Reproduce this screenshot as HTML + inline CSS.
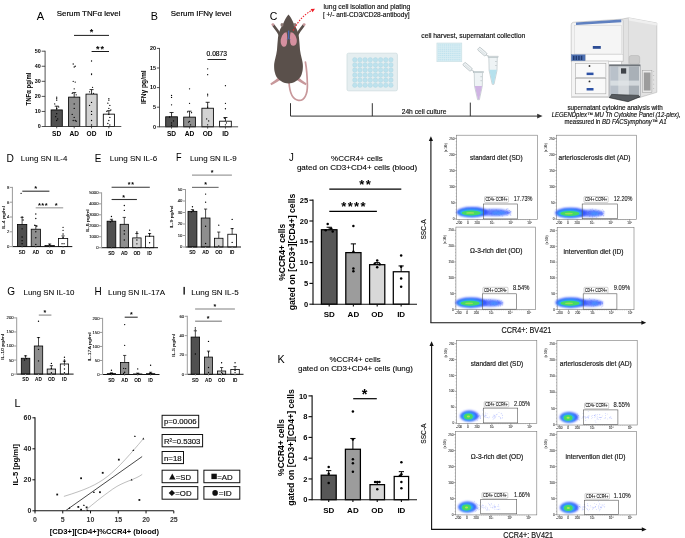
<!DOCTYPE html>
<html><head><meta charset="utf-8"><style>
html,body{margin:0;padding:0;background:#fff;width:685px;height:538px;overflow:hidden}
svg{display:block;will-change:transform}
svg text{font-family:"Liberation Sans",sans-serif}
</style></head><body>
<svg width="685" height="538" viewBox="0 0 685 538">
<rect width="685" height="538" fill="#fff"/>
<text x="36.70" y="19.90" font-size="11.3" textLength="7.40" lengthAdjust="spacingAndGlyphs" >A</text>
<text x="56.80" y="16.20" font-size="7.8" stroke="#000" stroke-width="0.187" textLength="63.60" lengthAdjust="spacingAndGlyphs" >Serum TNF&#945; level</text>
<rect x="51.10" y="109.93" width="11.20" height="16.57" fill="#505050" stroke="#000" stroke-width="0.85" />
<line x1="56.70" y1="109.93" x2="56.70" y2="106.17" stroke="#000" stroke-width="0.8" />
<line x1="54.70" y1="106.17" x2="58.70" y2="106.17" stroke="#000" stroke-width="0.8" />
<circle cx="56.70" cy="97.13" r="0.65" fill="#000" />
<circle cx="56.70" cy="98.64" r="0.65" fill="#000" />
<circle cx="56.70" cy="100.14" r="0.65" fill="#000" />
<circle cx="54.70" cy="103.91" r="0.65" fill="#000" />
<circle cx="58.70" cy="106.92" r="0.65" fill="#000" />
<circle cx="56.70" cy="108.43" r="0.65" fill="#000" />
<circle cx="56.70" cy="113.70" r="0.65" fill="#000" />
<circle cx="55.70" cy="116.71" r="0.65" fill="#000" />
<circle cx="57.70" cy="118.97" r="0.65" fill="#000" />
<circle cx="56.70" cy="120.48" r="0.65" fill="#000" />
<rect x="68.60" y="97.13" width="11.20" height="29.37" fill="#8e8e8e" stroke="#000" stroke-width="0.85" />
<line x1="74.20" y1="97.13" x2="74.20" y2="92.62" stroke="#000" stroke-width="0.8" />
<line x1="72.20" y1="92.62" x2="76.20" y2="92.62" stroke="#000" stroke-width="0.8" />
<circle cx="73.20" cy="64.00" r="0.65" fill="#000" />
<circle cx="75.20" cy="66.26" r="0.65" fill="#000" />
<circle cx="74.20" cy="67.01" r="0.65" fill="#000" />
<circle cx="73.20" cy="81.32" r="0.65" fill="#000" />
<circle cx="75.20" cy="82.07" r="0.65" fill="#000" />
<circle cx="74.20" cy="88.85" r="0.65" fill="#000" />
<circle cx="72.20" cy="93.37" r="0.65" fill="#000" />
<circle cx="76.20" cy="94.87" r="0.65" fill="#000" />
<circle cx="74.20" cy="103.91" r="0.65" fill="#000" />
<circle cx="74.20" cy="108.43" r="0.65" fill="#000" />
<circle cx="72.20" cy="114.45" r="0.65" fill="#000" />
<circle cx="74.20" cy="117.46" r="0.65" fill="#000" />
<circle cx="73.20" cy="120.48" r="0.65" fill="#000" />
<circle cx="75.20" cy="120.48" r="0.65" fill="#000" />
<circle cx="76.20" cy="121.23" r="0.65" fill="#000" />
<rect x="86.00" y="94.12" width="11.10" height="32.38" fill="#d2d2d2" stroke="#000" stroke-width="0.85" />
<line x1="91.55" y1="94.12" x2="91.55" y2="89.60" stroke="#000" stroke-width="0.8" />
<line x1="89.55" y1="89.60" x2="93.55" y2="89.60" stroke="#000" stroke-width="0.8" />
<circle cx="91.55" cy="60.99" r="0.65" fill="#000" />
<circle cx="91.55" cy="73.79" r="0.65" fill="#000" />
<circle cx="91.55" cy="74.54" r="0.65" fill="#000" />
<circle cx="92.55" cy="87.34" r="0.65" fill="#000" />
<circle cx="89.55" cy="91.86" r="0.65" fill="#000" />
<circle cx="93.55" cy="93.37" r="0.65" fill="#000" />
<circle cx="91.55" cy="102.40" r="0.65" fill="#000" />
<circle cx="89.55" cy="105.42" r="0.65" fill="#000" />
<circle cx="91.55" cy="111.44" r="0.65" fill="#000" />
<circle cx="91.55" cy="114.45" r="0.65" fill="#000" />
<circle cx="91.55" cy="120.48" r="0.65" fill="#000" />
<circle cx="91.55" cy="124.99" r="0.65" fill="#000" />
<rect x="103.30" y="114.15" width="11.10" height="12.35" fill="#ffffff" stroke="#000" stroke-width="0.85" />
<line x1="108.85" y1="114.15" x2="108.85" y2="110.69" stroke="#000" stroke-width="0.8" />
<line x1="106.85" y1="110.69" x2="110.85" y2="110.69" stroke="#000" stroke-width="0.8" />
<circle cx="108.85" cy="98.64" r="0.65" fill="#000" />
<circle cx="108.85" cy="100.14" r="0.65" fill="#000" />
<circle cx="107.85" cy="103.16" r="0.65" fill="#000" />
<circle cx="109.85" cy="105.42" r="0.65" fill="#000" />
<circle cx="108.85" cy="108.43" r="0.65" fill="#000" />
<circle cx="110.85" cy="109.93" r="0.65" fill="#000" />
<circle cx="106.85" cy="111.44" r="0.65" fill="#000" />
<circle cx="108.85" cy="114.45" r="0.65" fill="#000" />
<circle cx="109.85" cy="117.46" r="0.65" fill="#000" />
<circle cx="108.85" cy="120.48" r="0.65" fill="#000" />
<circle cx="107.85" cy="123.49" r="0.65" fill="#000" />
<circle cx="109.85" cy="124.99" r="0.65" fill="#000" />
<line x1="45.10" y1="126.50" x2="121.30" y2="126.50" stroke="#333" stroke-width="0.85" />
<line x1="45.10" y1="50.78" x2="45.10" y2="126.92" stroke="#333" stroke-width="0.85" />
<line x1="41.70" y1="126.50" x2="45.10" y2="126.50" stroke="#333" stroke-width="0.85" />
<text x="40.80" y="128.39" font-size="5.4" text-anchor="end" font-weight="bold" >0</text>
<line x1="41.70" y1="111.44" x2="45.10" y2="111.44" stroke="#333" stroke-width="0.85" />
<text x="40.80" y="113.33" font-size="5.4" text-anchor="end" font-weight="bold" >10</text>
<line x1="41.70" y1="96.38" x2="45.10" y2="96.38" stroke="#333" stroke-width="0.85" />
<text x="40.80" y="98.27" font-size="5.4" text-anchor="end" font-weight="bold" >20</text>
<line x1="41.70" y1="81.32" x2="45.10" y2="81.32" stroke="#333" stroke-width="0.85" />
<text x="40.80" y="83.21" font-size="5.4" text-anchor="end" font-weight="bold" >30</text>
<line x1="41.70" y1="66.26" x2="45.10" y2="66.26" stroke="#333" stroke-width="0.85" />
<text x="40.80" y="68.15" font-size="5.4" text-anchor="end" font-weight="bold" >40</text>
<line x1="41.70" y1="51.20" x2="45.10" y2="51.20" stroke="#333" stroke-width="0.85" />
<text x="40.80" y="53.09" font-size="5.4" text-anchor="end" font-weight="bold" >50</text>
<line x1="56.70" y1="126.50" x2="56.70" y2="128.30" stroke="#333" stroke-width="0.85" />
<text x="56.70" y="135.80" font-size="6.6" text-anchor="middle" font-weight="bold" >SD</text>
<line x1="74.20" y1="126.50" x2="74.20" y2="128.30" stroke="#333" stroke-width="0.85" />
<text x="74.20" y="135.80" font-size="6.6" text-anchor="middle" font-weight="bold" >AD</text>
<line x1="91.55" y1="126.50" x2="91.55" y2="128.30" stroke="#333" stroke-width="0.85" />
<text x="91.55" y="135.80" font-size="6.6" text-anchor="middle" font-weight="bold" >OD</text>
<line x1="108.85" y1="126.50" x2="108.85" y2="128.30" stroke="#333" stroke-width="0.85" />
<text x="108.85" y="135.80" font-size="6.6" text-anchor="middle" font-weight="bold" >ID</text>
<text x="30.60" y="89.00" font-size="6.4" text-anchor="middle" font-weight="bold" textLength="32.80" lengthAdjust="spacingAndGlyphs" transform="rotate(-90 30.60 89.00)" >TNF&#945; pg/ml</text>
<line x1="74.00" y1="35.40" x2="109.00" y2="35.40" stroke="#000" stroke-width="0.9" />
<text x="91.60" y="35.40" font-size="9" text-anchor="middle" font-weight="bold" >*</text>
<line x1="91.60" y1="51.50" x2="109.00" y2="51.50" stroke="#000" stroke-width="0.9" />
<text x="97.85" y="51.50" font-size="9" text-anchor="middle" font-weight="bold" >*</text>
<text x="102.35" y="51.50" font-size="9" text-anchor="middle" font-weight="bold" >*</text>
<text x="150.70" y="19.90" font-size="11.3" textLength="7.20" lengthAdjust="spacingAndGlyphs" >B</text>
<text x="170.80" y="16.20" font-size="7.8" stroke="#000" stroke-width="0.187" textLength="60.60" lengthAdjust="spacingAndGlyphs" >Serum IFN&#947; level</text>
<rect x="165.70" y="116.80" width="11.70" height="10.00" fill="#505050" stroke="#000" stroke-width="0.85" />
<line x1="171.55" y1="116.80" x2="171.55" y2="112.49" stroke="#000" stroke-width="0.8" />
<line x1="169.55" y1="112.49" x2="173.55" y2="112.49" stroke="#000" stroke-width="0.8" />
<circle cx="171.55" cy="95.44" r="0.65" fill="#000" />
<circle cx="171.55" cy="97.40" r="0.65" fill="#000" />
<circle cx="171.55" cy="104.85" r="0.65" fill="#000" />
<circle cx="169.55" cy="117.00" r="0.65" fill="#000" />
<circle cx="173.55" cy="120.92" r="0.65" fill="#000" />
<circle cx="171.55" cy="122.88" r="0.65" fill="#000" />
<circle cx="171.55" cy="125.23" r="0.65" fill="#000" />
<rect x="183.70" y="117.12" width="11.70" height="9.68" fill="#8e8e8e" stroke="#000" stroke-width="0.85" />
<line x1="189.55" y1="117.12" x2="189.55" y2="111.20" stroke="#000" stroke-width="0.8" />
<line x1="187.55" y1="111.20" x2="191.55" y2="111.20" stroke="#000" stroke-width="0.8" />
<circle cx="189.55" cy="88.78" r="0.65" fill="#000" />
<circle cx="189.55" cy="103.28" r="0.65" fill="#000" />
<circle cx="187.55" cy="111.90" r="0.65" fill="#000" />
<circle cx="191.55" cy="112.69" r="0.65" fill="#000" />
<circle cx="189.55" cy="121.31" r="0.65" fill="#000" />
<circle cx="188.55" cy="122.10" r="0.65" fill="#000" />
<circle cx="190.55" cy="124.84" r="0.65" fill="#000" />
<rect x="201.90" y="108.22" width="11.50" height="18.58" fill="#d2d2d2" stroke="#000" stroke-width="0.85" />
<line x1="207.65" y1="108.22" x2="207.65" y2="102.30" stroke="#000" stroke-width="0.8" />
<line x1="205.65" y1="102.30" x2="209.65" y2="102.30" stroke="#000" stroke-width="0.8" />
<circle cx="207.65" cy="68.78" r="0.65" fill="#000" />
<circle cx="207.65" cy="74.66" r="0.65" fill="#000" />
<circle cx="207.65" cy="94.26" r="0.65" fill="#000" />
<circle cx="207.65" cy="95.83" r="0.65" fill="#000" />
<circle cx="207.65" cy="107.20" r="0.65" fill="#000" />
<circle cx="206.65" cy="118.96" r="0.65" fill="#000" />
<circle cx="208.65" cy="120.92" r="0.65" fill="#000" />
<circle cx="207.65" cy="124.84" r="0.65" fill="#000" />
<rect x="219.60" y="121.19" width="11.70" height="5.61" fill="#ffffff" stroke="#000" stroke-width="0.85" />
<line x1="225.45" y1="121.19" x2="225.45" y2="117.51" stroke="#000" stroke-width="0.8" />
<line x1="223.45" y1="117.51" x2="227.45" y2="117.51" stroke="#000" stroke-width="0.8" />
<circle cx="225.45" cy="85.64" r="0.65" fill="#000" />
<circle cx="225.45" cy="103.28" r="0.65" fill="#000" />
<circle cx="225.45" cy="108.77" r="0.65" fill="#000" />
<circle cx="224.45" cy="118.18" r="0.65" fill="#000" />
<circle cx="226.45" cy="122.88" r="0.65" fill="#000" />
<circle cx="225.45" cy="124.84" r="0.65" fill="#000" />
<line x1="159.50" y1="126.80" x2="238.10" y2="126.80" stroke="#333" stroke-width="0.85" />
<line x1="159.50" y1="47.98" x2="159.50" y2="127.22" stroke="#333" stroke-width="0.85" />
<line x1="156.90" y1="126.80" x2="159.50" y2="126.80" stroke="#333" stroke-width="0.85" />
<text x="155.90" y="128.69" font-size="5.4" text-anchor="end" font-weight="bold" >0</text>
<line x1="156.90" y1="107.20" x2="159.50" y2="107.20" stroke="#333" stroke-width="0.85" />
<text x="155.90" y="109.09" font-size="5.4" text-anchor="end" font-weight="bold" >5</text>
<line x1="156.90" y1="87.60" x2="159.50" y2="87.60" stroke="#333" stroke-width="0.85" />
<text x="155.90" y="89.49" font-size="5.4" text-anchor="end" font-weight="bold" >10</text>
<line x1="156.90" y1="68.00" x2="159.50" y2="68.00" stroke="#333" stroke-width="0.85" />
<text x="155.90" y="69.89" font-size="5.4" text-anchor="end" font-weight="bold" >15</text>
<line x1="156.90" y1="48.40" x2="159.50" y2="48.40" stroke="#333" stroke-width="0.85" />
<text x="155.90" y="50.29" font-size="5.4" text-anchor="end" font-weight="bold" >20</text>
<line x1="171.55" y1="126.80" x2="171.55" y2="128.60" stroke="#333" stroke-width="0.85" />
<text x="171.55" y="136.20" font-size="6.6" text-anchor="middle" font-weight="bold" >SD</text>
<line x1="189.55" y1="126.80" x2="189.55" y2="128.60" stroke="#333" stroke-width="0.85" />
<text x="189.55" y="136.20" font-size="6.6" text-anchor="middle" font-weight="bold" >AD</text>
<line x1="207.65" y1="126.80" x2="207.65" y2="128.60" stroke="#333" stroke-width="0.85" />
<text x="207.65" y="136.20" font-size="6.6" text-anchor="middle" font-weight="bold" >OD</text>
<line x1="225.45" y1="126.80" x2="225.45" y2="128.60" stroke="#333" stroke-width="0.85" />
<text x="225.45" y="136.20" font-size="6.6" text-anchor="middle" font-weight="bold" >ID</text>
<text x="145.60" y="87.20" font-size="6.4" text-anchor="middle" font-weight="bold" textLength="33.80" lengthAdjust="spacingAndGlyphs" transform="rotate(-90 145.60 87.20)" >IFN&#947; pg/ml</text>
<line x1="207.50" y1="59.50" x2="226.10" y2="59.50" stroke="#111" stroke-width="0.9" />
<text x="216.80" y="55.70" font-size="6.3" stroke="#000" stroke-width="0.151" text-anchor="middle" textLength="20.50" lengthAdjust="spacingAndGlyphs" >0.0873</text>
<text x="6.40" y="162.00" font-size="10.8" textLength="7.40" lengthAdjust="spacingAndGlyphs" >D</text>
<text x="20.80" y="161.40" font-size="8.0" stroke="#000" stroke-width="0.06" textLength="46.50" lengthAdjust="spacingAndGlyphs" >Lung SN IL-4</text>
<rect x="17.40" y="224.40" width="9.40" height="22.20" fill="#505050" stroke="#000" stroke-width="0.8" />
<line x1="22.10" y1="224.40" x2="22.10" y2="217.37" stroke="#000" stroke-width="0.7" />
<line x1="20.50" y1="217.37" x2="23.70" y2="217.37" stroke="#000" stroke-width="0.7" />
<circle cx="21.10" cy="193.32" r="0.68" fill="#000" />
<circle cx="22.10" cy="217.00" r="0.68" fill="#000" />
<circle cx="23.10" cy="219.96" r="0.68" fill="#000" />
<circle cx="22.10" cy="228.84" r="0.68" fill="#000" />
<circle cx="22.10" cy="236.98" r="0.68" fill="#000" />
<circle cx="22.10" cy="240.68" r="0.68" fill="#000" />
<circle cx="22.10" cy="243.64" r="0.68" fill="#000" />
<rect x="31.20" y="229.21" width="9.20" height="17.39" fill="#8e8e8e" stroke="#000" stroke-width="0.8" />
<line x1="35.80" y1="229.21" x2="35.80" y2="225.51" stroke="#000" stroke-width="0.7" />
<line x1="34.20" y1="225.51" x2="37.40" y2="225.51" stroke="#000" stroke-width="0.7" />
<circle cx="35.80" cy="214.04" r="0.68" fill="#000" />
<circle cx="35.80" cy="218.48" r="0.68" fill="#000" />
<circle cx="34.80" cy="225.14" r="0.68" fill="#000" />
<circle cx="36.80" cy="226.62" r="0.68" fill="#000" />
<circle cx="35.80" cy="231.80" r="0.68" fill="#000" />
<circle cx="35.80" cy="237.72" r="0.68" fill="#000" />
<circle cx="35.80" cy="244.38" r="0.68" fill="#000" />
<rect x="45.00" y="245.56" width="9.30" height="1.04" fill="#d2d2d2" stroke="#000" stroke-width="0.8" />
<line x1="49.65" y1="245.56" x2="49.65" y2="244.01" stroke="#000" stroke-width="0.7" />
<line x1="48.05" y1="244.01" x2="51.25" y2="244.01" stroke="#000" stroke-width="0.7" />
<circle cx="49.65" cy="244.38" r="0.68" fill="#000" />
<circle cx="50.65" cy="246.23" r="0.68" fill="#000" />
<rect x="58.40" y="238.46" width="9.30" height="8.14" fill="#ffffff" stroke="#000" stroke-width="0.8" />
<line x1="63.05" y1="238.46" x2="63.05" y2="235.87" stroke="#000" stroke-width="0.7" />
<line x1="61.45" y1="235.87" x2="64.65" y2="235.87" stroke="#000" stroke-width="0.7" />
<circle cx="63.05" cy="227.36" r="0.68" fill="#000" />
<circle cx="63.05" cy="230.32" r="0.68" fill="#000" />
<circle cx="63.05" cy="234.02" r="0.68" fill="#000" />
<circle cx="63.05" cy="237.72" r="0.68" fill="#000" />
<circle cx="62.05" cy="243.64" r="0.68" fill="#000" />
<circle cx="64.05" cy="243.64" r="0.68" fill="#000" />
<line x1="12.40" y1="246.60" x2="72.30" y2="246.60" stroke="#111" stroke-width="1.0" />
<line x1="12.40" y1="186.90" x2="12.40" y2="247.10" stroke="#9a9a9a" stroke-width="1.0" />
<line x1="9.80" y1="246.60" x2="12.40" y2="246.60" stroke="#9a9a9a" stroke-width="1.0" />
<text x="9.30" y="248.07" font-size="4.2" stroke="#111" stroke-width="0.101" text-anchor="end" fill="#111" >0</text>
<line x1="9.80" y1="231.80" x2="12.40" y2="231.80" stroke="#9a9a9a" stroke-width="1.0" />
<text x="9.30" y="233.27" font-size="4.2" stroke="#111" stroke-width="0.101" text-anchor="end" fill="#111" >2</text>
<line x1="9.80" y1="217.00" x2="12.40" y2="217.00" stroke="#9a9a9a" stroke-width="1.0" />
<text x="9.30" y="218.47" font-size="4.2" stroke="#111" stroke-width="0.101" text-anchor="end" fill="#111" >4</text>
<line x1="9.80" y1="202.20" x2="12.40" y2="202.20" stroke="#9a9a9a" stroke-width="1.0" />
<text x="9.30" y="203.67" font-size="4.2" stroke="#111" stroke-width="0.101" text-anchor="end" fill="#111" >6</text>
<line x1="9.80" y1="187.40" x2="12.40" y2="187.40" stroke="#9a9a9a" stroke-width="1.0" />
<text x="9.30" y="188.87" font-size="4.2" stroke="#111" stroke-width="0.101" text-anchor="end" fill="#111" >8</text>
<line x1="22.10" y1="246.60" x2="22.10" y2="247.80" stroke="#9a9a9a" stroke-width="1.0" />
<text x="22.10" y="253.90" font-size="4.7" text-anchor="middle" font-weight="bold" >SD</text>
<line x1="35.80" y1="246.60" x2="35.80" y2="247.80" stroke="#9a9a9a" stroke-width="1.0" />
<text x="35.80" y="253.90" font-size="4.7" text-anchor="middle" font-weight="bold" >AD</text>
<line x1="49.65" y1="246.60" x2="49.65" y2="247.80" stroke="#9a9a9a" stroke-width="1.0" />
<text x="49.65" y="253.90" font-size="4.7" text-anchor="middle" font-weight="bold" >OD</text>
<line x1="63.05" y1="246.60" x2="63.05" y2="247.80" stroke="#9a9a9a" stroke-width="1.0" />
<text x="63.05" y="253.90" font-size="4.7" text-anchor="middle" font-weight="bold" >ID</text>
<text x="4.60" y="217.70" font-size="4.2" stroke="#000" stroke-width="0.101" text-anchor="middle" textLength="23.00" lengthAdjust="spacingAndGlyphs" transform="rotate(-90 4.60 217.70)" >IL-4 pg/ml</text>
<line x1="22.30" y1="191.20" x2="49.40" y2="191.20" stroke="#333" stroke-width="1.1" />
<text x="35.70" y="191.20" font-size="7.5" text-anchor="middle" font-weight="bold" >*</text>
<line x1="35.70" y1="207.80" x2="63.20" y2="207.80" stroke="#a8a8a8" stroke-width="1.3" />
<text x="39.40" y="207.80" font-size="7.5" text-anchor="middle" font-weight="bold" >*</text>
<text x="42.80" y="207.80" font-size="7.5" text-anchor="middle" font-weight="bold" >*</text>
<text x="46.20" y="207.80" font-size="7.5" text-anchor="middle" font-weight="bold" >*</text>
<text x="56.20" y="207.80" font-size="7.5" text-anchor="middle" font-weight="bold" >*</text>
<text x="94.80" y="162.00" font-size="10.8" textLength="6.60" lengthAdjust="spacingAndGlyphs" >E</text>
<text x="109.80" y="161.40" font-size="8.0" stroke="#000" stroke-width="0.06" textLength="47.40" lengthAdjust="spacingAndGlyphs" >Lung SN IL-6</text>
<rect x="107.10" y="221.20" width="8.70" height="26.50" fill="#505050" stroke="#000" stroke-width="0.8" />
<line x1="111.45" y1="221.20" x2="111.45" y2="219.31" stroke="#000" stroke-width="0.7" />
<line x1="109.85" y1="219.31" x2="113.05" y2="219.31" stroke="#000" stroke-width="0.7" />
<circle cx="111.45" cy="216.46" r="0.68" fill="#000" />
<circle cx="112.45" cy="220.85" r="0.68" fill="#000" />
<circle cx="110.45" cy="221.94" r="0.68" fill="#000" />
<rect x="120.10" y="224.30" width="8.40" height="23.40" fill="#8e8e8e" stroke="#000" stroke-width="0.8" />
<line x1="124.30" y1="224.30" x2="124.30" y2="217.40" stroke="#000" stroke-width="0.7" />
<line x1="122.70" y1="217.40" x2="125.90" y2="217.40" stroke="#000" stroke-width="0.7" />
<circle cx="124.30" cy="205.50" r="0.68" fill="#000" />
<circle cx="124.30" cy="210.44" r="0.68" fill="#000" />
<circle cx="124.30" cy="230.71" r="0.68" fill="#000" />
<circle cx="124.30" cy="234.00" r="0.68" fill="#000" />
<circle cx="124.30" cy="240.03" r="0.68" fill="#000" />
<rect x="132.70" y="237.90" width="8.40" height="9.80" fill="#d2d2d2" stroke="#000" stroke-width="0.8" />
<line x1="136.90" y1="237.90" x2="136.90" y2="233.50" stroke="#000" stroke-width="0.7" />
<line x1="135.30" y1="233.50" x2="138.50" y2="233.50" stroke="#000" stroke-width="0.7" />
<circle cx="136.90" cy="231.81" r="0.68" fill="#000" />
<circle cx="136.90" cy="232.90" r="0.68" fill="#000" />
<circle cx="136.90" cy="240.03" r="0.68" fill="#000" />
<circle cx="136.90" cy="243.86" r="0.68" fill="#000" />
<rect x="145.40" y="236.20" width="8.40" height="11.50" fill="#ffffff" stroke="#000" stroke-width="0.8" />
<line x1="149.60" y1="236.20" x2="149.60" y2="233.50" stroke="#000" stroke-width="0.7" />
<line x1="148.00" y1="233.50" x2="151.20" y2="233.50" stroke="#000" stroke-width="0.7" />
<circle cx="149.60" cy="230.16" r="0.68" fill="#000" />
<circle cx="149.60" cy="234.00" r="0.68" fill="#000" />
<circle cx="149.60" cy="236.19" r="0.68" fill="#000" />
<circle cx="149.60" cy="242.77" r="0.68" fill="#000" />
<line x1="101.60" y1="247.70" x2="158.00" y2="247.70" stroke="#111" stroke-width="1.0" />
<line x1="101.60" y1="192.40" x2="101.60" y2="248.20" stroke="#9a9a9a" stroke-width="1.0" />
<line x1="99.00" y1="247.70" x2="101.60" y2="247.70" stroke="#9a9a9a" stroke-width="1.0" />
<text x="98.50" y="249.17" font-size="4.2" stroke="#111" stroke-width="0.101" text-anchor="end" fill="#111" >0</text>
<line x1="99.00" y1="236.74" x2="101.60" y2="236.74" stroke="#9a9a9a" stroke-width="1.0" />
<text x="98.50" y="238.21" font-size="4.2" stroke="#111" stroke-width="0.101" text-anchor="end" fill="#111" >1000</text>
<line x1="99.00" y1="225.78" x2="101.60" y2="225.78" stroke="#9a9a9a" stroke-width="1.0" />
<text x="98.50" y="227.25" font-size="4.2" stroke="#111" stroke-width="0.101" text-anchor="end" fill="#111" >2000</text>
<line x1="99.00" y1="214.82" x2="101.60" y2="214.82" stroke="#9a9a9a" stroke-width="1.0" />
<text x="98.50" y="216.29" font-size="4.2" stroke="#111" stroke-width="0.101" text-anchor="end" fill="#111" >3000</text>
<line x1="99.00" y1="203.86" x2="101.60" y2="203.86" stroke="#9a9a9a" stroke-width="1.0" />
<text x="98.50" y="205.33" font-size="4.2" stroke="#111" stroke-width="0.101" text-anchor="end" fill="#111" >4000</text>
<line x1="99.00" y1="192.90" x2="101.60" y2="192.90" stroke="#9a9a9a" stroke-width="1.0" />
<text x="98.50" y="194.37" font-size="4.2" stroke="#111" stroke-width="0.101" text-anchor="end" fill="#111" >5000</text>
<line x1="111.45" y1="247.70" x2="111.45" y2="248.90" stroke="#9a9a9a" stroke-width="1.0" />
<text x="111.45" y="254.90" font-size="4.7" text-anchor="middle" font-weight="bold" >SD</text>
<line x1="124.30" y1="247.70" x2="124.30" y2="248.90" stroke="#9a9a9a" stroke-width="1.0" />
<text x="124.30" y="254.90" font-size="4.7" text-anchor="middle" font-weight="bold" >AD</text>
<line x1="136.90" y1="247.70" x2="136.90" y2="248.90" stroke="#9a9a9a" stroke-width="1.0" />
<text x="136.90" y="254.90" font-size="4.7" text-anchor="middle" font-weight="bold" >OD</text>
<line x1="149.60" y1="247.70" x2="149.60" y2="248.90" stroke="#9a9a9a" stroke-width="1.0" />
<text x="149.60" y="254.90" font-size="4.7" text-anchor="middle" font-weight="bold" >ID</text>
<text x="88.90" y="220.80" font-size="4.2" stroke="#000" stroke-width="0.101" text-anchor="middle" textLength="23.00" lengthAdjust="spacingAndGlyphs" transform="rotate(-90 88.90 220.80)" >IL-6 pg/ml</text>
<line x1="111.60" y1="187.20" x2="149.80" y2="187.20" stroke="#333" stroke-width="1.1" />
<text x="129.10" y="187.20" font-size="7" text-anchor="middle" font-weight="bold" >*</text>
<text x="132.50" y="187.20" font-size="7" text-anchor="middle" font-weight="bold" >*</text>
<line x1="111.60" y1="199.50" x2="136.90" y2="199.50" stroke="#333" stroke-width="1.1" />
<text x="123.70" y="199.50" font-size="7" text-anchor="middle" font-weight="bold" >*</text>
<text x="175.90" y="161.40" font-size="10.8" textLength="5.60" lengthAdjust="spacingAndGlyphs" >F</text>
<text x="189.90" y="161.20" font-size="8.0" stroke="#000" stroke-width="0.06" textLength="46.80" lengthAdjust="spacingAndGlyphs" >Lung SN IL-9</text>
<rect x="188.00" y="211.35" width="8.90" height="35.65" fill="#505050" stroke="#000" stroke-width="0.8" />
<line x1="192.45" y1="211.35" x2="192.45" y2="209.62" stroke="#000" stroke-width="0.7" />
<line x1="190.85" y1="209.62" x2="194.05" y2="209.62" stroke="#000" stroke-width="0.7" />
<circle cx="192.45" cy="206.75" r="0.68" fill="#000" />
<circle cx="193.45" cy="210.78" r="0.68" fill="#000" />
<circle cx="191.45" cy="211.93" r="0.68" fill="#000" />
<rect x="201.20" y="218.02" width="8.80" height="28.98" fill="#8e8e8e" stroke="#000" stroke-width="0.8" />
<line x1="205.60" y1="218.02" x2="205.60" y2="209.05" stroke="#000" stroke-width="0.7" />
<line x1="204.00" y1="209.05" x2="207.20" y2="209.05" stroke="#000" stroke-width="0.7" />
<circle cx="205.60" cy="194.10" r="0.68" fill="#000" />
<circle cx="205.60" cy="202.15" r="0.68" fill="#000" />
<circle cx="205.60" cy="226.30" r="0.68" fill="#000" />
<circle cx="205.60" cy="243.55" r="0.68" fill="#000" />
<rect x="214.50" y="238.26" width="8.50" height="8.74" fill="#d2d2d2" stroke="#000" stroke-width="0.8" />
<line x1="218.75" y1="238.26" x2="218.75" y2="232.05" stroke="#000" stroke-width="0.7" />
<line x1="217.15" y1="232.05" x2="220.35" y2="232.05" stroke="#000" stroke-width="0.7" />
<circle cx="218.75" cy="225.15" r="0.68" fill="#000" />
<circle cx="218.75" cy="245.85" r="0.68" fill="#000" />
<rect x="227.80" y="234.24" width="8.70" height="12.76" fill="#ffffff" stroke="#000" stroke-width="0.8" />
<line x1="232.15" y1="234.24" x2="232.15" y2="228.60" stroke="#000" stroke-width="0.7" />
<line x1="230.55" y1="228.60" x2="233.75" y2="228.60" stroke="#000" stroke-width="0.7" />
<circle cx="232.15" cy="219.40" r="0.68" fill="#000" />
<circle cx="232.15" cy="228.60" r="0.68" fill="#000" />
<circle cx="232.15" cy="242.40" r="0.68" fill="#000" />
<line x1="185.50" y1="247.00" x2="241.00" y2="247.00" stroke="#111" stroke-width="1.0" />
<line x1="185.50" y1="189.00" x2="185.50" y2="247.50" stroke="#9a9a9a" stroke-width="1.0" />
<line x1="182.90" y1="247.00" x2="185.50" y2="247.00" stroke="#9a9a9a" stroke-width="1.0" />
<text x="182.40" y="248.47" font-size="4.2" stroke="#111" stroke-width="0.101" text-anchor="end" fill="#111" >0</text>
<line x1="182.90" y1="235.50" x2="185.50" y2="235.50" stroke="#9a9a9a" stroke-width="1.0" />
<text x="182.40" y="236.97" font-size="4.2" stroke="#111" stroke-width="0.101" text-anchor="end" fill="#111" >10</text>
<line x1="182.90" y1="224.00" x2="185.50" y2="224.00" stroke="#9a9a9a" stroke-width="1.0" />
<text x="182.40" y="225.47" font-size="4.2" stroke="#111" stroke-width="0.101" text-anchor="end" fill="#111" >20</text>
<line x1="182.90" y1="212.50" x2="185.50" y2="212.50" stroke="#9a9a9a" stroke-width="1.0" />
<text x="182.40" y="213.97" font-size="4.2" stroke="#111" stroke-width="0.101" text-anchor="end" fill="#111" >30</text>
<line x1="182.90" y1="201.00" x2="185.50" y2="201.00" stroke="#9a9a9a" stroke-width="1.0" />
<text x="182.40" y="202.47" font-size="4.2" stroke="#111" stroke-width="0.101" text-anchor="end" fill="#111" >40</text>
<line x1="182.90" y1="189.50" x2="185.50" y2="189.50" stroke="#9a9a9a" stroke-width="1.0" />
<text x="182.40" y="190.97" font-size="4.2" stroke="#111" stroke-width="0.101" text-anchor="end" fill="#111" >50</text>
<line x1="192.45" y1="247.00" x2="192.45" y2="248.20" stroke="#9a9a9a" stroke-width="1.0" />
<text x="192.45" y="254.30" font-size="4.7" text-anchor="middle" font-weight="bold" >SD</text>
<line x1="205.60" y1="247.00" x2="205.60" y2="248.20" stroke="#9a9a9a" stroke-width="1.0" />
<text x="205.60" y="254.30" font-size="4.7" text-anchor="middle" font-weight="bold" >AD</text>
<line x1="218.75" y1="247.00" x2="218.75" y2="248.20" stroke="#9a9a9a" stroke-width="1.0" />
<text x="218.75" y="254.30" font-size="4.7" text-anchor="middle" font-weight="bold" >OD</text>
<line x1="232.15" y1="247.00" x2="232.15" y2="248.20" stroke="#9a9a9a" stroke-width="1.0" />
<text x="232.15" y="254.30" font-size="4.7" text-anchor="middle" font-weight="bold" >ID</text>
<text x="173.40" y="217.00" font-size="4.2" stroke="#000" stroke-width="0.101" text-anchor="middle" textLength="23.00" lengthAdjust="spacingAndGlyphs" transform="rotate(-90 173.40 217.00)" >IL-9 pg/ml</text>
<line x1="192.00" y1="175.10" x2="231.90" y2="175.10" stroke="#9c9c9c" stroke-width="1.3" />
<text x="212.00" y="175.10" font-size="7" text-anchor="middle" font-weight="bold" >*</text>
<line x1="192.00" y1="187.40" x2="218.60" y2="187.40" stroke="#777" stroke-width="1.2" />
<text x="205.60" y="187.40" font-size="7" text-anchor="middle" font-weight="bold" >*</text>
<text x="7.20" y="295.10" font-size="10.8" textLength="7.80" lengthAdjust="spacingAndGlyphs" >G</text>
<text x="23.50" y="294.50" font-size="8.0" stroke="#000" stroke-width="0.06" textLength="51.00" lengthAdjust="spacingAndGlyphs" >Lung SN IL-10</text>
<rect x="21.30" y="358.25" width="8.50" height="15.85" fill="#505050" stroke="#000" stroke-width="0.8" />
<line x1="25.55" y1="358.25" x2="25.55" y2="355.84" stroke="#000" stroke-width="0.7" />
<line x1="23.95" y1="355.84" x2="27.15" y2="355.84" stroke="#000" stroke-width="0.7" />
<circle cx="25.55" cy="355.84" r="0.68" fill="#000" />
<circle cx="24.55" cy="360.05" r="0.68" fill="#000" />
<circle cx="26.55" cy="358.64" r="0.68" fill="#000" />
<rect x="34.30" y="346.00" width="8.40" height="28.10" fill="#8e8e8e" stroke="#000" stroke-width="0.8" />
<line x1="38.50" y1="346.00" x2="38.50" y2="337.57" stroke="#000" stroke-width="0.7" />
<line x1="36.90" y1="337.57" x2="40.10" y2="337.57" stroke="#000" stroke-width="0.7" />
<circle cx="38.50" cy="321.27" r="0.68" fill="#000" />
<circle cx="38.50" cy="337.57" r="0.68" fill="#000" />
<circle cx="38.50" cy="349.37" r="0.68" fill="#000" />
<circle cx="38.50" cy="360.89" r="0.68" fill="#000" />
<rect x="47.20" y="369.04" width="8.40" height="5.06" fill="#d2d2d2" stroke="#000" stroke-width="0.8" />
<line x1="51.40" y1="369.04" x2="51.40" y2="365.67" stroke="#000" stroke-width="0.7" />
<line x1="49.80" y1="365.67" x2="53.00" y2="365.67" stroke="#000" stroke-width="0.7" />
<circle cx="51.40" cy="363.42" r="0.68" fill="#000" />
<circle cx="51.40" cy="368.48" r="0.68" fill="#000" />
<circle cx="51.40" cy="372.70" r="0.68" fill="#000" />
<rect x="60.30" y="363.98" width="8.30" height="10.12" fill="#ffffff" stroke="#000" stroke-width="0.8" />
<line x1="64.45" y1="363.98" x2="64.45" y2="361.17" stroke="#000" stroke-width="0.7" />
<line x1="62.85" y1="361.17" x2="66.05" y2="361.17" stroke="#000" stroke-width="0.7" />
<circle cx="64.45" cy="357.24" r="0.68" fill="#000" />
<circle cx="64.45" cy="360.05" r="0.68" fill="#000" />
<circle cx="64.45" cy="361.46" r="0.68" fill="#000" />
<circle cx="64.45" cy="365.11" r="0.68" fill="#000" />
<circle cx="64.45" cy="369.04" r="0.68" fill="#000" />
<circle cx="64.45" cy="372.70" r="0.68" fill="#000" />
<line x1="16.70" y1="374.10" x2="73.60" y2="374.10" stroke="#111" stroke-width="1.0" />
<line x1="16.70" y1="317.40" x2="16.70" y2="374.60" stroke="#9a9a9a" stroke-width="1.0" />
<line x1="14.10" y1="374.10" x2="16.70" y2="374.10" stroke="#9a9a9a" stroke-width="1.0" />
<text x="13.60" y="375.57" font-size="4.2" stroke="#111" stroke-width="0.101" text-anchor="end" fill="#111" >0</text>
<line x1="14.10" y1="360.05" x2="16.70" y2="360.05" stroke="#9a9a9a" stroke-width="1.0" />
<text x="13.60" y="361.52" font-size="4.2" stroke="#111" stroke-width="0.101" text-anchor="end" fill="#111" >50</text>
<line x1="14.10" y1="346.00" x2="16.70" y2="346.00" stroke="#9a9a9a" stroke-width="1.0" />
<text x="13.60" y="347.47" font-size="4.2" stroke="#111" stroke-width="0.101" text-anchor="end" fill="#111" >100</text>
<line x1="14.10" y1="331.95" x2="16.70" y2="331.95" stroke="#9a9a9a" stroke-width="1.0" />
<text x="13.60" y="333.42" font-size="4.2" stroke="#111" stroke-width="0.101" text-anchor="end" fill="#111" >150</text>
<line x1="14.10" y1="317.90" x2="16.70" y2="317.90" stroke="#9a9a9a" stroke-width="1.0" />
<text x="13.60" y="319.37" font-size="4.2" stroke="#111" stroke-width="0.101" text-anchor="end" fill="#111" >200</text>
<line x1="25.55" y1="374.10" x2="25.55" y2="375.30" stroke="#9a9a9a" stroke-width="1.0" />
<text x="25.55" y="381.40" font-size="4.7" text-anchor="middle" font-weight="bold" >SD</text>
<line x1="38.50" y1="374.10" x2="38.50" y2="375.30" stroke="#9a9a9a" stroke-width="1.0" />
<text x="38.50" y="381.40" font-size="4.7" text-anchor="middle" font-weight="bold" >AD</text>
<line x1="51.40" y1="374.10" x2="51.40" y2="375.30" stroke="#9a9a9a" stroke-width="1.0" />
<text x="51.40" y="381.40" font-size="4.7" text-anchor="middle" font-weight="bold" >OD</text>
<line x1="64.45" y1="374.10" x2="64.45" y2="375.30" stroke="#9a9a9a" stroke-width="1.0" />
<text x="64.45" y="381.40" font-size="4.7" text-anchor="middle" font-weight="bold" >ID</text>
<text x="3.90" y="346.90" font-size="4.2" stroke="#000" stroke-width="0.101" text-anchor="middle" textLength="26.00" lengthAdjust="spacingAndGlyphs" transform="rotate(-90 3.90 346.90)" >IL-10 pg/ml</text>
<line x1="38.80" y1="315.10" x2="51.40" y2="315.10" stroke="#9c9c9c" stroke-width="1.3" />
<text x="44.90" y="315.10" font-size="7" text-anchor="middle" font-weight="bold" >*</text>
<text x="94.60" y="295.10" font-size="10.8" textLength="7.20" lengthAdjust="spacingAndGlyphs" >H</text>
<text x="108.00" y="294.50" font-size="8.0" stroke="#000" stroke-width="0.06" textLength="57.20" lengthAdjust="spacingAndGlyphs" >Lung SN IL-17A</text>
<rect x="107.30" y="373.66" width="8.30" height="0.84" fill="#505050" stroke="#000" stroke-width="0.8" />
<line x1="111.45" y1="373.66" x2="111.45" y2="372.82" stroke="#000" stroke-width="0.7" />
<line x1="109.85" y1="372.82" x2="113.05" y2="372.82" stroke="#000" stroke-width="0.7" />
<circle cx="111.45" cy="370.29" r="0.68" fill="#000" />
<circle cx="110.45" cy="373.38" r="0.68" fill="#000" />
<circle cx="112.45" cy="373.66" r="0.68" fill="#000" />
<circle cx="111.45" cy="373.94" r="0.68" fill="#000" />
<rect x="120.50" y="362.44" width="8.30" height="12.06" fill="#8e8e8e" stroke="#000" stroke-width="0.8" />
<line x1="124.65" y1="362.44" x2="124.65" y2="355.43" stroke="#000" stroke-width="0.7" />
<line x1="123.05" y1="355.43" x2="126.25" y2="355.43" stroke="#000" stroke-width="0.7" />
<circle cx="124.65" cy="324.57" r="0.68" fill="#000" />
<circle cx="124.65" cy="345.33" r="0.68" fill="#000" />
<circle cx="123.65" cy="368.33" r="0.68" fill="#000" />
<circle cx="125.65" cy="368.61" r="0.68" fill="#000" />
<circle cx="124.65" cy="372.26" r="0.68" fill="#000" />
<circle cx="123.65" cy="373.38" r="0.68" fill="#000" />
<rect x="133.50" y="373.94" width="8.40" height="0.56" fill="#d2d2d2" stroke="#000" stroke-width="0.8" />
<line x1="137.70" y1="373.94" x2="137.70" y2="373.10" stroke="#000" stroke-width="0.7" />
<line x1="136.10" y1="373.10" x2="139.30" y2="373.10" stroke="#000" stroke-width="0.7" />
<circle cx="137.70" cy="368.89" r="0.68" fill="#000" />
<circle cx="137.70" cy="373.66" r="0.68" fill="#000" />
<circle cx="138.70" cy="374.22" r="0.68" fill="#000" />
<rect x="146.40" y="373.66" width="8.40" height="0.84" fill="#ffffff" stroke="#000" stroke-width="0.8" />
<line x1="150.60" y1="373.66" x2="150.60" y2="372.26" stroke="#000" stroke-width="0.7" />
<line x1="149.00" y1="372.26" x2="152.20" y2="372.26" stroke="#000" stroke-width="0.7" />
<circle cx="150.60" cy="365.24" r="0.68" fill="#000" />
<circle cx="150.60" cy="372.82" r="0.68" fill="#000" />
<circle cx="149.60" cy="373.66" r="0.68" fill="#000" />
<circle cx="151.60" cy="373.94" r="0.68" fill="#000" />
<line x1="102.60" y1="374.50" x2="159.50" y2="374.50" stroke="#111" stroke-width="1.0" />
<line x1="102.60" y1="317.90" x2="102.60" y2="375.00" stroke="#9a9a9a" stroke-width="1.0" />
<line x1="100.00" y1="374.50" x2="102.60" y2="374.50" stroke="#9a9a9a" stroke-width="1.0" />
<text x="99.50" y="375.97" font-size="4.2" stroke="#111" stroke-width="0.101" text-anchor="end" fill="#111" >0</text>
<line x1="100.00" y1="360.48" x2="102.60" y2="360.48" stroke="#9a9a9a" stroke-width="1.0" />
<text x="99.50" y="361.95" font-size="4.2" stroke="#111" stroke-width="0.101" text-anchor="end" fill="#111" >50</text>
<line x1="100.00" y1="346.45" x2="102.60" y2="346.45" stroke="#9a9a9a" stroke-width="1.0" />
<text x="99.50" y="347.92" font-size="4.2" stroke="#111" stroke-width="0.101" text-anchor="end" fill="#111" >100</text>
<line x1="100.00" y1="332.42" x2="102.60" y2="332.42" stroke="#9a9a9a" stroke-width="1.0" />
<text x="99.50" y="333.89" font-size="4.2" stroke="#111" stroke-width="0.101" text-anchor="end" fill="#111" >150</text>
<line x1="100.00" y1="318.40" x2="102.60" y2="318.40" stroke="#9a9a9a" stroke-width="1.0" />
<text x="99.50" y="319.87" font-size="4.2" stroke="#111" stroke-width="0.101" text-anchor="end" fill="#111" >200</text>
<line x1="111.45" y1="374.50" x2="111.45" y2="375.70" stroke="#9a9a9a" stroke-width="1.0" />
<text x="111.45" y="381.80" font-size="4.7" text-anchor="middle" font-weight="bold" >SD</text>
<line x1="124.65" y1="374.50" x2="124.65" y2="375.70" stroke="#9a9a9a" stroke-width="1.0" />
<text x="124.65" y="381.80" font-size="4.7" text-anchor="middle" font-weight="bold" >AD</text>
<line x1="137.70" y1="374.50" x2="137.70" y2="375.70" stroke="#9a9a9a" stroke-width="1.0" />
<text x="137.70" y="381.80" font-size="4.7" text-anchor="middle" font-weight="bold" >OD</text>
<line x1="150.60" y1="374.50" x2="150.60" y2="375.70" stroke="#9a9a9a" stroke-width="1.0" />
<text x="150.60" y="381.80" font-size="4.7" text-anchor="middle" font-weight="bold" >ID</text>
<text x="90.90" y="346.80" font-size="4.2" stroke="#000" stroke-width="0.101" text-anchor="middle" textLength="29.00" lengthAdjust="spacingAndGlyphs" transform="rotate(-90 90.90 346.80)" >IL-17A pg/ml</text>
<line x1="124.70" y1="317.20" x2="137.70" y2="317.20" stroke="#333" stroke-width="1.1" />
<text x="131.40" y="317.20" font-size="7" text-anchor="middle" font-weight="bold" >*</text>
<rect x="183.50" y="286.90" width="1.30" height="7.70" fill="#000" />
<text x="191.30" y="294.50" font-size="8.0" stroke="#000" stroke-width="0.06" textLength="47.40" lengthAdjust="spacingAndGlyphs" >Lung SN IL-5</text>
<rect x="191.10" y="337.08" width="8.50" height="37.22" fill="#505050" stroke="#000" stroke-width="0.8" />
<line x1="195.35" y1="337.08" x2="195.35" y2="330.80" stroke="#000" stroke-width="0.7" />
<line x1="193.75" y1="330.80" x2="196.95" y2="330.80" stroke="#000" stroke-width="0.7" />
<circle cx="195.35" cy="327.90" r="0.68" fill="#000" />
<circle cx="195.35" cy="329.83" r="0.68" fill="#000" />
<circle cx="195.35" cy="354.00" r="0.68" fill="#000" />
<rect x="204.50" y="357.09" width="8.00" height="17.21" fill="#8e8e8e" stroke="#000" stroke-width="0.8" />
<line x1="208.50" y1="357.09" x2="208.50" y2="351.10" stroke="#000" stroke-width="0.7" />
<line x1="206.90" y1="351.10" x2="210.10" y2="351.10" stroke="#000" stroke-width="0.7" />
<circle cx="208.50" cy="341.43" r="0.68" fill="#000" />
<circle cx="208.50" cy="352.07" r="0.68" fill="#000" />
<circle cx="208.50" cy="367.53" r="0.68" fill="#000" />
<circle cx="208.50" cy="372.37" r="0.68" fill="#000" />
<rect x="217.50" y="371.01" width="8.20" height="3.29" fill="#d2d2d2" stroke="#000" stroke-width="0.8" />
<line x1="221.60" y1="371.01" x2="221.60" y2="367.53" stroke="#000" stroke-width="0.7" />
<line x1="220.00" y1="367.53" x2="223.20" y2="367.53" stroke="#000" stroke-width="0.7" />
<circle cx="221.60" cy="362.70" r="0.68" fill="#000" />
<circle cx="221.60" cy="372.37" r="0.68" fill="#000" />
<circle cx="222.60" cy="373.33" r="0.68" fill="#000" />
<rect x="230.80" y="369.47" width="8.50" height="4.83" fill="#ffffff" stroke="#000" stroke-width="0.8" />
<line x1="235.05" y1="369.47" x2="235.05" y2="366.57" stroke="#000" stroke-width="0.7" />
<line x1="233.45" y1="366.57" x2="236.65" y2="366.57" stroke="#000" stroke-width="0.7" />
<circle cx="235.05" cy="362.70" r="0.68" fill="#000" />
<circle cx="235.05" cy="370.43" r="0.68" fill="#000" />
<circle cx="235.05" cy="372.37" r="0.68" fill="#000" />
<line x1="187.30" y1="374.30" x2="243.50" y2="374.30" stroke="#111" stroke-width="1.0" />
<line x1="187.30" y1="315.80" x2="187.30" y2="374.80" stroke="#9a9a9a" stroke-width="1.0" />
<line x1="184.70" y1="374.30" x2="187.30" y2="374.30" stroke="#9a9a9a" stroke-width="1.0" />
<text x="184.20" y="375.77" font-size="4.2" stroke="#111" stroke-width="0.101" text-anchor="end" fill="#111" >0</text>
<line x1="184.70" y1="354.97" x2="187.30" y2="354.97" stroke="#9a9a9a" stroke-width="1.0" />
<text x="184.20" y="356.44" font-size="4.2" stroke="#111" stroke-width="0.101" text-anchor="end" fill="#111" >20</text>
<line x1="184.70" y1="335.63" x2="187.30" y2="335.63" stroke="#9a9a9a" stroke-width="1.0" />
<text x="184.20" y="337.10" font-size="4.2" stroke="#111" stroke-width="0.101" text-anchor="end" fill="#111" >40</text>
<line x1="184.70" y1="316.30" x2="187.30" y2="316.30" stroke="#9a9a9a" stroke-width="1.0" />
<text x="184.20" y="317.77" font-size="4.2" stroke="#111" stroke-width="0.101" text-anchor="end" fill="#111" >60</text>
<line x1="195.35" y1="374.30" x2="195.35" y2="375.50" stroke="#9a9a9a" stroke-width="1.0" />
<text x="195.35" y="381.80" font-size="4.7" text-anchor="middle" font-weight="bold" >SD</text>
<line x1="208.50" y1="374.30" x2="208.50" y2="375.50" stroke="#9a9a9a" stroke-width="1.0" />
<text x="208.50" y="381.80" font-size="4.7" text-anchor="middle" font-weight="bold" >AD</text>
<line x1="221.60" y1="374.30" x2="221.60" y2="375.50" stroke="#9a9a9a" stroke-width="1.0" />
<text x="221.60" y="381.80" font-size="4.7" text-anchor="middle" font-weight="bold" >OD</text>
<line x1="235.05" y1="374.30" x2="235.05" y2="375.50" stroke="#9a9a9a" stroke-width="1.0" />
<text x="235.05" y="381.80" font-size="4.7" text-anchor="middle" font-weight="bold" >ID</text>
<text x="175.40" y="345.50" font-size="4.2" stroke="#000" stroke-width="0.101" text-anchor="middle" textLength="23.00" lengthAdjust="spacingAndGlyphs" transform="rotate(-90 175.40 345.50)" >IL-5 pg/ml</text>
<line x1="195.10" y1="309.00" x2="234.90" y2="309.00" stroke="#aaaaaa" stroke-width="1.4" />
<text x="214.80" y="309.00" font-size="7" text-anchor="middle" font-weight="bold" >*</text>
<line x1="195.10" y1="321.20" x2="221.90" y2="321.20" stroke="#888" stroke-width="1.2" />
<text x="208.20" y="321.20" font-size="7" text-anchor="middle" font-weight="bold" >*</text>
<text x="289.10" y="160.90" font-size="10.2" textLength="4.80" lengthAdjust="spacingAndGlyphs" >J</text>
<text x="331.10" y="160.50" font-size="7.2" stroke="#000" stroke-width="0.1" textLength="51.60" lengthAdjust="spacingAndGlyphs" >%CCR4+ cells</text>
<text x="296.90" y="170.10" font-size="7.2" stroke="#000" stroke-width="0.1" textLength="120.20" lengthAdjust="spacingAndGlyphs" >gated on CD3+CD4+ cells (blood)</text>
<rect x="321.40" y="229.74" width="15.60" height="74.46" fill="#575757" stroke="#000" stroke-width="1.25" />
<line x1="329.20" y1="229.74" x2="329.20" y2="227.24" stroke="#000" stroke-width="1.0" />
<line x1="326.60" y1="227.24" x2="331.80" y2="227.24" stroke="#000" stroke-width="1.0" />
<circle cx="327.70" cy="223.91" r="1.25" fill="#000" />
<circle cx="331.20" cy="228.49" r="1.25" fill="#000" />
<circle cx="325.70" cy="230.15" r="1.25" fill="#000" />
<circle cx="332.70" cy="231.40" r="1.25" fill="#000" />
<rect x="345.80" y="252.62" width="15.20" height="51.58" fill="#9c9c9c" stroke="#000" stroke-width="1.25" />
<line x1="353.40" y1="252.62" x2="353.40" y2="243.88" stroke="#000" stroke-width="1.0" />
<line x1="350.80" y1="243.88" x2="356.00" y2="243.88" stroke="#000" stroke-width="1.0" />
<circle cx="353.40" cy="225.99" r="1.25" fill="#000" />
<circle cx="353.40" cy="251.78" r="1.25" fill="#000" />
<circle cx="353.40" cy="268.42" r="1.25" fill="#000" />
<circle cx="353.40" cy="271.34" r="1.25" fill="#000" />
<rect x="369.60" y="264.68" width="15.20" height="39.52" fill="#d8d8d8" stroke="#000" stroke-width="1.25" />
<line x1="377.20" y1="264.68" x2="377.20" y2="262.60" stroke="#000" stroke-width="1.0" />
<line x1="374.60" y1="262.60" x2="379.80" y2="262.60" stroke="#000" stroke-width="1.0" />
<circle cx="377.20" cy="260.52" r="1.25" fill="#000" />
<circle cx="374.70" cy="263.85" r="1.25" fill="#000" />
<circle cx="379.70" cy="264.26" r="1.25" fill="#000" />
<circle cx="377.20" cy="267.18" r="1.25" fill="#000" />
<rect x="393.30" y="271.75" width="15.70" height="32.45" fill="#ffffff" stroke="#000" stroke-width="1.25" />
<line x1="401.15" y1="271.75" x2="401.15" y2="265.93" stroke="#000" stroke-width="1.0" />
<line x1="398.55" y1="265.93" x2="403.75" y2="265.93" stroke="#000" stroke-width="1.0" />
<circle cx="401.15" cy="255.53" r="1.25" fill="#000" />
<circle cx="401.15" cy="266.76" r="1.25" fill="#000" />
<circle cx="401.15" cy="278.41" r="1.25" fill="#000" />
<circle cx="401.15" cy="286.73" r="1.25" fill="#000" />
<line x1="313.00" y1="304.20" x2="417.00" y2="304.20" stroke="#111" stroke-width="1.15" />
<line x1="313.00" y1="199.62" x2="313.00" y2="304.77" stroke="#111" stroke-width="1.15" />
<line x1="309.40" y1="304.20" x2="313.00" y2="304.20" stroke="#111" stroke-width="1.15" />
<text x="308.20" y="306.82" font-size="7.5" text-anchor="end" font-weight="bold" >0</text>
<line x1="309.40" y1="283.40" x2="313.00" y2="283.40" stroke="#111" stroke-width="1.15" />
<text x="308.20" y="286.02" font-size="7.5" text-anchor="end" font-weight="bold" >5</text>
<line x1="309.40" y1="262.60" x2="313.00" y2="262.60" stroke="#111" stroke-width="1.15" />
<text x="308.20" y="265.22" font-size="7.5" text-anchor="end" font-weight="bold" >10</text>
<line x1="309.40" y1="241.80" x2="313.00" y2="241.80" stroke="#111" stroke-width="1.15" />
<text x="308.20" y="244.42" font-size="7.5" text-anchor="end" font-weight="bold" >15</text>
<line x1="309.40" y1="221.00" x2="313.00" y2="221.00" stroke="#111" stroke-width="1.15" />
<text x="308.20" y="223.62" font-size="7.5" text-anchor="end" font-weight="bold" >20</text>
<line x1="309.40" y1="200.20" x2="313.00" y2="200.20" stroke="#111" stroke-width="1.15" />
<text x="308.20" y="202.82" font-size="7.5" text-anchor="end" font-weight="bold" >25</text>
<line x1="329.20" y1="304.20" x2="329.20" y2="306.40" stroke="#111" stroke-width="1.15" />
<text x="329.20" y="316.90" font-size="8.0" text-anchor="middle" font-weight="bold" >SD</text>
<line x1="353.40" y1="304.20" x2="353.40" y2="306.40" stroke="#111" stroke-width="1.15" />
<text x="353.40" y="316.90" font-size="8.0" text-anchor="middle" font-weight="bold" >AD</text>
<line x1="377.20" y1="304.20" x2="377.20" y2="306.40" stroke="#111" stroke-width="1.15" />
<text x="377.20" y="316.90" font-size="8.0" text-anchor="middle" font-weight="bold" >OD</text>
<line x1="401.15" y1="304.20" x2="401.15" y2="306.40" stroke="#111" stroke-width="1.15" />
<text x="401.15" y="316.90" font-size="8.0" text-anchor="middle" font-weight="bold" >ID</text>
<text x="284.90" y="252.30" font-size="8.5" text-anchor="middle" font-weight="bold" textLength="56.80" lengthAdjust="spacingAndGlyphs" transform="rotate(-90 284.90 252.30)" >%CCR4+ cells</text>
<text x="295.10" y="252.00" font-size="8.6" text-anchor="middle" font-weight="bold" textLength="116.70" lengthAdjust="spacingAndGlyphs" transform="rotate(-90 295.10 252.00)" >gated on [CD3+][CD4+] cells</text>
<line x1="329.30" y1="189.10" x2="401.30" y2="189.10" stroke="#000" stroke-width="1.1" />
<text x="361.90" y="189.10" font-size="13" text-anchor="middle" font-weight="bold" >*</text>
<text x="368.30" y="189.10" font-size="13" text-anchor="middle" font-weight="bold" >*</text>
<line x1="329.30" y1="211.40" x2="376.90" y2="211.40" stroke="#000" stroke-width="1.1" />
<text x="343.80" y="211.40" font-size="13" text-anchor="middle" font-weight="bold" >*</text>
<text x="350.20" y="211.40" font-size="13" text-anchor="middle" font-weight="bold" >*</text>
<text x="356.60" y="211.40" font-size="13" text-anchor="middle" font-weight="bold" >*</text>
<text x="363.00" y="211.40" font-size="13" text-anchor="middle" font-weight="bold" >*</text>
<text x="277.60" y="363.00" font-size="10.2" textLength="7.20" lengthAdjust="spacingAndGlyphs" >K</text>
<text x="329.60" y="362.10" font-size="7.2" stroke="#000" stroke-width="0.1" textLength="51.00" lengthAdjust="spacingAndGlyphs" >%CCR4+ cells</text>
<text x="298.00" y="370.80" font-size="7.2" stroke="#000" stroke-width="0.1" textLength="114.80" lengthAdjust="spacingAndGlyphs" >gated on CD3+CD4+ cells (lung)</text>
<rect x="321.20" y="475.20" width="15.00" height="24.50" fill="#575757" stroke="#000" stroke-width="1.25" />
<line x1="328.70" y1="475.20" x2="328.70" y2="470.64" stroke="#000" stroke-width="1.0" />
<line x1="326.10" y1="470.64" x2="331.30" y2="470.64" stroke="#000" stroke-width="1.0" />
<circle cx="328.70" cy="467.00" r="1.25" fill="#000" />
<circle cx="328.70" cy="473.75" r="1.25" fill="#000" />
<circle cx="328.70" cy="483.09" r="1.25" fill="#000" />
<rect x="345.40" y="449.25" width="15.00" height="50.45" fill="#9c9c9c" stroke="#000" stroke-width="1.25" />
<line x1="352.90" y1="449.25" x2="352.90" y2="438.46" stroke="#000" stroke-width="1.0" />
<line x1="350.30" y1="438.46" x2="355.50" y2="438.46" stroke="#000" stroke-width="1.0" />
<circle cx="352.90" cy="411.47" r="1.25" fill="#000" />
<circle cx="352.90" cy="439.50" r="1.25" fill="#000" />
<circle cx="352.90" cy="459.22" r="1.25" fill="#000" />
<circle cx="352.90" cy="463.37" r="1.25" fill="#000" />
<circle cx="352.90" cy="471.67" r="1.25" fill="#000" />
<rect x="370.00" y="484.65" width="14.50" height="15.05" fill="#d8d8d8" stroke="#000" stroke-width="1.25" />
<line x1="377.25" y1="484.65" x2="377.25" y2="482.05" stroke="#000" stroke-width="1.0" />
<line x1="374.65" y1="482.05" x2="379.85" y2="482.05" stroke="#000" stroke-width="1.0" />
<circle cx="375.05" cy="482.05" r="1.25" fill="#000" />
<circle cx="377.25" cy="482.05" r="1.25" fill="#000" />
<circle cx="379.45" cy="482.05" r="1.25" fill="#000" />
<circle cx="377.25" cy="489.32" r="1.25" fill="#000" />
<rect x="394.20" y="476.45" width="14.40" height="23.25" fill="#ffffff" stroke="#000" stroke-width="1.25" />
<line x1="401.40" y1="476.45" x2="401.40" y2="471.67" stroke="#000" stroke-width="1.0" />
<line x1="398.80" y1="471.67" x2="404.00" y2="471.67" stroke="#000" stroke-width="1.0" />
<circle cx="401.40" cy="462.33" r="1.25" fill="#000" />
<circle cx="401.40" cy="474.27" r="1.25" fill="#000" />
<circle cx="399.90" cy="475.83" r="1.25" fill="#000" />
<circle cx="401.40" cy="482.05" r="1.25" fill="#000" />
<circle cx="401.40" cy="488.28" r="1.25" fill="#000" />
<line x1="312.10" y1="499.70" x2="417.00" y2="499.70" stroke="#111" stroke-width="1.15" />
<line x1="312.10" y1="395.32" x2="312.10" y2="500.27" stroke="#111" stroke-width="1.15" />
<line x1="308.50" y1="499.70" x2="312.10" y2="499.70" stroke="#111" stroke-width="1.15" />
<text x="307.30" y="502.32" font-size="7.5" text-anchor="end" font-weight="bold" >0</text>
<line x1="308.50" y1="478.94" x2="312.10" y2="478.94" stroke="#111" stroke-width="1.15" />
<text x="307.30" y="481.56" font-size="7.5" text-anchor="end" font-weight="bold" >2</text>
<line x1="308.50" y1="458.18" x2="312.10" y2="458.18" stroke="#111" stroke-width="1.15" />
<text x="307.30" y="460.81" font-size="7.5" text-anchor="end" font-weight="bold" >4</text>
<line x1="308.50" y1="437.42" x2="312.10" y2="437.42" stroke="#111" stroke-width="1.15" />
<text x="307.30" y="440.04" font-size="7.5" text-anchor="end" font-weight="bold" >6</text>
<line x1="308.50" y1="416.66" x2="312.10" y2="416.66" stroke="#111" stroke-width="1.15" />
<text x="307.30" y="419.28" font-size="7.5" text-anchor="end" font-weight="bold" >8</text>
<line x1="308.50" y1="395.90" x2="312.10" y2="395.90" stroke="#111" stroke-width="1.15" />
<text x="307.30" y="398.52" font-size="7.5" text-anchor="end" font-weight="bold" >10</text>
<line x1="328.70" y1="499.70" x2="328.70" y2="501.90" stroke="#111" stroke-width="1.15" />
<text x="328.70" y="513.10" font-size="8.0" text-anchor="middle" font-weight="bold" >SD</text>
<line x1="352.90" y1="499.70" x2="352.90" y2="501.90" stroke="#111" stroke-width="1.15" />
<text x="352.90" y="513.10" font-size="8.0" text-anchor="middle" font-weight="bold" >AD</text>
<line x1="377.25" y1="499.70" x2="377.25" y2="501.90" stroke="#111" stroke-width="1.15" />
<text x="377.25" y="513.10" font-size="8.0" text-anchor="middle" font-weight="bold" >OD</text>
<line x1="401.40" y1="499.70" x2="401.40" y2="501.90" stroke="#111" stroke-width="1.15" />
<text x="401.40" y="513.10" font-size="8.0" text-anchor="middle" font-weight="bold" >ID</text>
<text x="284.20" y="447.50" font-size="8.5" text-anchor="middle" font-weight="bold" textLength="56.80" lengthAdjust="spacingAndGlyphs" transform="rotate(-90 284.20 447.50)" >%CCR4+ cells</text>
<text x="294.40" y="447.50" font-size="8.6" text-anchor="middle" font-weight="bold" textLength="116.70" lengthAdjust="spacingAndGlyphs" transform="rotate(-90 294.40 447.50)" >gated on [CD3+][CD4+] cells</text>
<line x1="353.20" y1="398.70" x2="376.80" y2="398.70" stroke="#000" stroke-width="1.2" />
<text x="364.70" y="398.70" font-size="14.5" text-anchor="middle" font-weight="bold" >*</text>
<text x="14.60" y="407.00" font-size="10.6" textLength="6.00" lengthAdjust="spacingAndGlyphs" >L</text>
<line x1="35.00" y1="510.80" x2="173.80" y2="510.80" stroke="#111" stroke-width="1.1" />
<line x1="35.00" y1="417.30" x2="35.00" y2="511.30" stroke="#111" stroke-width="1.1" />
<line x1="32.40" y1="510.80" x2="35.00" y2="510.80" stroke="#111" stroke-width="1.0" />
<text x="31.40" y="513.30" font-size="7.0" text-anchor="end" font-weight="bold" fill="#222" >0</text>
<line x1="32.40" y1="479.80" x2="35.00" y2="479.80" stroke="#111" stroke-width="1.0" />
<text x="31.40" y="482.30" font-size="7.0" text-anchor="end" font-weight="bold" fill="#222" >20</text>
<line x1="32.40" y1="448.80" x2="35.00" y2="448.80" stroke="#111" stroke-width="1.0" />
<text x="31.40" y="451.30" font-size="7.0" text-anchor="end" font-weight="bold" fill="#222" >40</text>
<line x1="32.40" y1="417.80" x2="35.00" y2="417.80" stroke="#111" stroke-width="1.0" />
<text x="31.40" y="420.30" font-size="7.0" text-anchor="end" font-weight="bold" fill="#222" >60</text>
<line x1="35.00" y1="510.80" x2="35.00" y2="513.40" stroke="#111" stroke-width="1.0" />
<text x="35.00" y="521.80" font-size="7.0" text-anchor="middle" font-weight="bold" fill="#333" >0</text>
<line x1="62.76" y1="510.80" x2="62.76" y2="513.40" stroke="#111" stroke-width="1.0" />
<text x="62.76" y="521.80" font-size="7.0" text-anchor="middle" font-weight="bold" fill="#333" >5</text>
<line x1="90.52" y1="510.80" x2="90.52" y2="513.40" stroke="#111" stroke-width="1.0" />
<text x="90.52" y="521.80" font-size="7.0" text-anchor="middle" font-weight="bold" fill="#333" >10</text>
<line x1="118.28" y1="510.80" x2="118.28" y2="513.40" stroke="#111" stroke-width="1.0" />
<text x="118.28" y="521.80" font-size="7.0" text-anchor="middle" font-weight="bold" fill="#333" >15</text>
<line x1="146.04" y1="510.80" x2="146.04" y2="513.40" stroke="#111" stroke-width="1.0" />
<text x="146.04" y="521.80" font-size="7.0" text-anchor="middle" font-weight="bold" fill="#333" >20</text>
<line x1="173.80" y1="510.80" x2="173.80" y2="513.40" stroke="#111" stroke-width="1.0" />
<text x="173.80" y="521.80" font-size="7.0" text-anchor="middle" font-weight="bold" fill="#333" >25</text>
<text x="104.40" y="534.40" font-size="7.6" text-anchor="middle" font-weight="bold" textLength="109.20" lengthAdjust="spacingAndGlyphs" >[CD3+][CD4+]%CCR4+ (blood)</text>
<text x="18.40" y="464.80" font-size="7.6" text-anchor="middle" font-weight="bold" textLength="41.40" lengthAdjust="spacingAndGlyphs" transform="rotate(-90 18.40 464.80)" >IL-5 [pg/ml]</text>
<line x1="66.09" y1="510.34" x2="142.15" y2="456.55" stroke="#333" stroke-width="0.9" />
<path d="M63.9,496.4 C85.0,489.9 96.1,485.2 107.2,476.7 S132.2,451.9 142.7,439.5" fill="none" stroke="#888" stroke-width="0.55" />
<path d="M85.0,510.8 C93.3,503.8 101.6,496.9 112.7,489.1 S134.9,479.8 142.2,474.4" fill="none" stroke="#888" stroke-width="0.55" />
<rect x="56.31" y="493.63" width="1.80" height="1.80" fill="#111" />
<rect x="80.18" y="477.35" width="1.80" height="1.80" fill="#111" />
<rect x="101.83" y="471.93" width="1.80" height="1.80" fill="#111" />
<rect x="117.94" y="458.75" width="1.80" height="1.80" fill="#111" />
<path d="M93.9,491.1 L94.9,492.9 L92.9,492.9 Z" fill="#111" />
<rect x="99.06" y="491.30" width="1.80" height="1.80" fill="#111" />
<rect x="77.41" y="506.03" width="1.80" height="1.80" fill="#111" />
<rect x="80.18" y="508.82" width="1.80" height="1.80" fill="#111" />
<path d="M83.9,504.3 L84.9,506.1 L82.9,506.1 Z" fill="#111" />
<rect x="85.73" y="506.49" width="1.80" height="1.80" fill="#111" />
<path d="M69.4,506.9 L70.4,508.7 L68.4,508.7 Z" fill="#111" />
<rect x="138.48" y="499.05" width="1.80" height="1.80" fill="#111" />
<path d="M131.6,478.7 L132.6,480.5 L130.6,480.5 Z" fill="#111" />
<path d="M133.3,449.2 L134.3,451.1 L132.3,451.1 Z" fill="#111" />
<path d="M134.9,435.3 L135.9,437.1 L133.9,437.1 Z" fill="#111" />
<path d="M143.3,437.6 L144.3,439.4 L142.3,439.4 Z" fill="#111" />
<path d="M87.7,509.2 L88.7,511.0 L86.7,511.0 Z" fill="#111" />
<rect x="162.10" y="415.30" width="36.60" height="12.40" fill="#fff" stroke="#111" stroke-width="1.0" />
<text x="164.00" y="424.30" font-size="7.7" stroke="#111" stroke-width="0.185" fill="#111" textLength="32.50" lengthAdjust="spacingAndGlyphs" >p=0.0006</text>
<rect x="162.10" y="434.50" width="40.50" height="12.30" fill="#fff" stroke="#111" stroke-width="1.0" />
<text x="164.00" y="443.60" font-size="7.7" stroke="#111" stroke-width="0.185" fill="#111" textLength="36.40" lengthAdjust="spacingAndGlyphs" >R&#178;=0.5303</text>
<rect x="162.10" y="451.50" width="21.40" height="12.10" fill="#fff" stroke="#111" stroke-width="1.0" />
<text x="164.00" y="460.60" font-size="7.7" stroke="#111" stroke-width="0.185" fill="#111" textLength="17.60" lengthAdjust="spacingAndGlyphs" >n=18</text>
<rect x="162.10" y="470.20" width="35.70" height="12.50" fill="#fff" stroke="#111" stroke-width="1.0" />
<rect x="203.90" y="470.20" width="35.90" height="12.50" fill="#fff" stroke="#111" stroke-width="1.0" />
<rect x="162.10" y="486.60" width="35.70" height="12.60" fill="#fff" stroke="#111" stroke-width="1.0" />
<rect x="203.90" y="486.60" width="35.90" height="12.60" fill="#fff" stroke="#111" stroke-width="1.0" />
<path d="M172.3,473.6 L175.5,479.4 L169.1,479.4 Z" fill="#111" />
<text x="175.80" y="479.60" font-size="7.7" stroke="#111" stroke-width="0.185" fill="#111" textLength="15.20" lengthAdjust="spacingAndGlyphs" >=SD</text>
<rect x="211.40" y="473.70" width="5.40" height="5.40" fill="#111" />
<text x="217.20" y="479.60" font-size="7.7" stroke="#111" stroke-width="0.185" fill="#111" textLength="15.40" lengthAdjust="spacingAndGlyphs" >=AD</text>
<path d="M171.9,489.9 L175.1,492.9 L171.9,495.9 L168.7,492.9 Z" fill="#111" />
<text x="175.30" y="496.00" font-size="7.7" stroke="#111" stroke-width="0.185" fill="#111" textLength="16.20" lengthAdjust="spacingAndGlyphs" >=OD</text>
<circle cx="215.10" cy="492.90" r="2.8" fill="#111" />
<text x="218.80" y="496.00" font-size="7.7" stroke="#111" stroke-width="0.185" fill="#111" textLength="13.00" lengthAdjust="spacingAndGlyphs" >=ID</text>
<text x="269.70" y="19.90" font-size="10.8" textLength="7.60" lengthAdjust="spacingAndGlyphs" >C</text>
<path d="M289,82 C289.5,91 292,99.5 298.5,100.3 C304.5,101 307.6,94 307.4,85 C307.2,76 306.5,68 305.4,62" fill="none" stroke="#c8989b" stroke-width="1.7" stroke-linecap="round"/>
<path d="M279.5,76.5 C276.5,79 273.5,81.5 270.3,83.6 L271.2,85.2 C274.5,83.8 278,81.6 281.2,79.5 Z" fill="#c8989b" />
<path d="M297.5,76.5 C300.5,79 303.5,81.5 306.7,83.6 L305.8,85.2 C302.5,83.8 299,81.6 295.8,79.5 Z" fill="#c8989b" />
<path d="M280.5,36 C278.5,32 276,28.5 273.6,25.6" fill="none" stroke="#5a504b" stroke-width="2.5" stroke-linecap="round"/>
<path d="M296.5,36 C298.5,32 301,28.5 303.4,25.6" fill="none" stroke="#5a504b" stroke-width="2.5" stroke-linecap="round"/>
<circle cx="272.90" cy="24.60" r="1.45" fill="#c8989b" />
<circle cx="304.10" cy="24.60" r="1.45" fill="#c8989b" />
<path d="M288.5,14.5 C290.5,16.5 292,19.5 293.5,23 C295,26 296.5,28.5 297.5,31 C298.6,34 299,37 299.2,40 C299.6,44 299.8,47 300,50 C300.4,53 301,55.5 301.6,58 C302.4,61 302.9,63.5 302.9,66 C302.9,69 302.6,71 302,73 C301.4,75.5 300.6,77 299.5,78 C297.5,80.5 295,82 292,83 C290,83.6 287,83.6 285,83 C282,82 279.5,80.5 277.5,78 C276.4,77 275.6,75.5 275,73 C274.4,71 274.1,69 274.1,66 C274.1,63.5 274.6,61 275.4,58 C276,55.5 276.6,53 277,50 C277.2,47 277.4,44 277.8,40 C278,37 278.4,34 279.5,31 C280.5,28.5 282,26 283.5,23 C285,19.5 286.5,16.5 288.5,14.5 Z" fill="#5a504b" />
<ellipse cx="282.0" cy="24.8" rx="1.5" ry="1.9" fill="#8d7a76"/>
<ellipse cx="295.0" cy="24.8" rx="1.5" ry="1.9" fill="#8d7a76"/>
<path d="M286.6,32.2 C284.0,32.0 281.6,35.5 280.8,39.5 C280.3,42.5 281.2,46.2 283.6,46.8 C285.4,47.1 286.4,45.6 286.9,43.5 C287.4,40 287.4,35 286.6,32.2 Z" fill="#d5909f" />
<path d="M290.6,32.2 C293.4,32.0 296.0,35.5 296.7,39.5 C297.1,42.5 296.2,45.4 293.6,45.8 C291.6,46.1 290.6,44.6 290.2,42.5 C289.8,39 289.9,35 290.6,32.2 Z" fill="#d5909f" />
<line x1="288.60" y1="30.60" x2="288.60" y2="38.60" stroke="#4a68b4" stroke-width="1.3" />
<path d="M288.6,38.2 L286.8,39.6 M288.6,38.2 L290.4,39.6" fill="none" stroke="#4a68b4" stroke-width="0.9" />
<path d="M293.2,30.6 Q300.5,16.5 310.8,11.0" fill="none" stroke="#ee1c24" stroke-width="1.05" stroke-dasharray="1.5,1.3"/>
<path d="M310.6,8.9 L315.0,8.7 L312.6,12.2 Z" fill="#ee1c24" />
<text x="323.60" y="9.00" font-size="6.9" stroke="#111" stroke-width="0.166" fill="#111" textLength="86.60" lengthAdjust="spacingAndGlyphs" >lung cell isolation and plating</text>
<text x="322.90" y="16.90" font-size="6.9" stroke="#111" stroke-width="0.166" fill="#111" textLength="86.60" lengthAdjust="spacingAndGlyphs" >[ +/- anti-CD3/CD28-antibody]</text>
<rect x="347.00" y="53.20" width="50.40" height="37.60" fill="#e5eef0" stroke="#cfdde0" stroke-width="0.8" rx="1.5"/>
<circle cx="354.80" cy="59.80" r="2.25" fill="#bde2ed" stroke="#a8d1de" stroke-width="0.35"/>
<circle cx="354.80" cy="64.88" r="2.25" fill="#bde2ed" stroke="#a8d1de" stroke-width="0.35"/>
<circle cx="354.80" cy="69.96" r="2.25" fill="#bde2ed" stroke="#a8d1de" stroke-width="0.35"/>
<circle cx="354.80" cy="75.04" r="2.25" fill="#bde2ed" stroke="#a8d1de" stroke-width="0.35"/>
<circle cx="354.80" cy="80.12" r="2.25" fill="#bde2ed" stroke="#a8d1de" stroke-width="0.35"/>
<circle cx="354.80" cy="85.20" r="2.25" fill="#bde2ed" stroke="#a8d1de" stroke-width="0.35"/>
<circle cx="359.96" cy="59.80" r="2.25" fill="#bde2ed" stroke="#a8d1de" stroke-width="0.35"/>
<circle cx="359.96" cy="64.88" r="2.25" fill="#bde2ed" stroke="#a8d1de" stroke-width="0.35"/>
<circle cx="359.96" cy="69.96" r="2.25" fill="#bde2ed" stroke="#a8d1de" stroke-width="0.35"/>
<circle cx="359.96" cy="75.04" r="2.25" fill="#bde2ed" stroke="#a8d1de" stroke-width="0.35"/>
<circle cx="359.96" cy="80.12" r="2.25" fill="#bde2ed" stroke="#a8d1de" stroke-width="0.35"/>
<circle cx="359.96" cy="85.20" r="2.25" fill="#bde2ed" stroke="#a8d1de" stroke-width="0.35"/>
<circle cx="365.12" cy="59.80" r="2.25" fill="#bde2ed" stroke="#a8d1de" stroke-width="0.35"/>
<circle cx="365.12" cy="64.88" r="2.25" fill="#bde2ed" stroke="#a8d1de" stroke-width="0.35"/>
<circle cx="365.12" cy="69.96" r="2.25" fill="#bde2ed" stroke="#a8d1de" stroke-width="0.35"/>
<circle cx="365.12" cy="75.04" r="2.25" fill="#bde2ed" stroke="#a8d1de" stroke-width="0.35"/>
<circle cx="365.12" cy="80.12" r="2.25" fill="#bde2ed" stroke="#a8d1de" stroke-width="0.35"/>
<circle cx="365.12" cy="85.20" r="2.25" fill="#bde2ed" stroke="#a8d1de" stroke-width="0.35"/>
<circle cx="370.28" cy="59.80" r="2.25" fill="#bde2ed" stroke="#a8d1de" stroke-width="0.35"/>
<circle cx="370.28" cy="64.88" r="2.25" fill="#bde2ed" stroke="#a8d1de" stroke-width="0.35"/>
<circle cx="370.28" cy="69.96" r="2.25" fill="#bde2ed" stroke="#a8d1de" stroke-width="0.35"/>
<circle cx="370.28" cy="75.04" r="2.25" fill="#bde2ed" stroke="#a8d1de" stroke-width="0.35"/>
<circle cx="370.28" cy="80.12" r="2.25" fill="#bde2ed" stroke="#a8d1de" stroke-width="0.35"/>
<circle cx="370.28" cy="85.20" r="2.25" fill="#bde2ed" stroke="#a8d1de" stroke-width="0.35"/>
<circle cx="375.44" cy="59.80" r="2.25" fill="#bde2ed" stroke="#a8d1de" stroke-width="0.35"/>
<circle cx="375.44" cy="64.88" r="2.25" fill="#bde2ed" stroke="#a8d1de" stroke-width="0.35"/>
<circle cx="375.44" cy="69.96" r="2.25" fill="#bde2ed" stroke="#a8d1de" stroke-width="0.35"/>
<circle cx="375.44" cy="75.04" r="2.25" fill="#bde2ed" stroke="#a8d1de" stroke-width="0.35"/>
<circle cx="375.44" cy="80.12" r="2.25" fill="#bde2ed" stroke="#a8d1de" stroke-width="0.35"/>
<circle cx="375.44" cy="85.20" r="2.25" fill="#bde2ed" stroke="#a8d1de" stroke-width="0.35"/>
<circle cx="380.60" cy="59.80" r="2.25" fill="#bde2ed" stroke="#a8d1de" stroke-width="0.35"/>
<circle cx="380.60" cy="64.88" r="2.25" fill="#bde2ed" stroke="#a8d1de" stroke-width="0.35"/>
<circle cx="380.60" cy="69.96" r="2.25" fill="#bde2ed" stroke="#a8d1de" stroke-width="0.35"/>
<circle cx="380.60" cy="75.04" r="2.25" fill="#bde2ed" stroke="#a8d1de" stroke-width="0.35"/>
<circle cx="380.60" cy="80.12" r="2.25" fill="#bde2ed" stroke="#a8d1de" stroke-width="0.35"/>
<circle cx="380.60" cy="85.20" r="2.25" fill="#bde2ed" stroke="#a8d1de" stroke-width="0.35"/>
<circle cx="385.76" cy="59.80" r="2.25" fill="#bde2ed" stroke="#a8d1de" stroke-width="0.35"/>
<circle cx="385.76" cy="64.88" r="2.25" fill="#bde2ed" stroke="#a8d1de" stroke-width="0.35"/>
<circle cx="385.76" cy="69.96" r="2.25" fill="#bde2ed" stroke="#a8d1de" stroke-width="0.35"/>
<circle cx="385.76" cy="75.04" r="2.25" fill="#bde2ed" stroke="#a8d1de" stroke-width="0.35"/>
<circle cx="385.76" cy="80.12" r="2.25" fill="#bde2ed" stroke="#a8d1de" stroke-width="0.35"/>
<circle cx="385.76" cy="85.20" r="2.25" fill="#bde2ed" stroke="#a8d1de" stroke-width="0.35"/>
<circle cx="390.92" cy="59.80" r="2.25" fill="#bde2ed" stroke="#a8d1de" stroke-width="0.35"/>
<circle cx="390.92" cy="64.88" r="2.25" fill="#bde2ed" stroke="#a8d1de" stroke-width="0.35"/>
<circle cx="390.92" cy="69.96" r="2.25" fill="#bde2ed" stroke="#a8d1de" stroke-width="0.35"/>
<circle cx="390.92" cy="75.04" r="2.25" fill="#bde2ed" stroke="#a8d1de" stroke-width="0.35"/>
<circle cx="390.92" cy="80.12" r="2.25" fill="#bde2ed" stroke="#a8d1de" stroke-width="0.35"/>
<circle cx="390.92" cy="85.20" r="2.25" fill="#bde2ed" stroke="#a8d1de" stroke-width="0.35"/>
<line x1="290.50" y1="116.10" x2="538.00" y2="116.10" stroke="#333" stroke-width="1.0" />
<path d="M542.6,116.1 L537.2,113.7 L537.2,118.5 Z" fill="#333" />
<line x1="290.50" y1="103.20" x2="290.50" y2="116.10" stroke="#333" stroke-width="1.0" />
<line x1="372.30" y1="103.20" x2="372.30" y2="116.10" stroke="#333" stroke-width="1.0" />
<line x1="470.30" y1="102.60" x2="470.30" y2="116.10" stroke="#333" stroke-width="1.0" />
<text x="401.70" y="114.30" font-size="6.9" stroke="#111" stroke-width="0.166" fill="#111" textLength="44.80" lengthAdjust="spacingAndGlyphs" >24h cell culture</text>
<text x="421.30" y="37.80" font-size="6.9" stroke="#111" stroke-width="0.166" fill="#111" textLength="103.90" lengthAdjust="spacingAndGlyphs" >cell harvest, supernatant collection</text>
<rect x="436.90" y="43.00" width="24.90" height="18.70" fill="#d8edf3" stroke="#cadfe4" stroke-width="0.6" />
<circle cx="438.90" cy="45.00" r="0.72" fill="#bfe2ee" />
<circle cx="438.90" cy="47.10" r="0.72" fill="#bfe2ee" />
<circle cx="438.90" cy="49.20" r="0.72" fill="#bfe2ee" />
<circle cx="438.90" cy="51.30" r="0.72" fill="#bfe2ee" />
<circle cx="438.90" cy="53.40" r="0.72" fill="#bfe2ee" />
<circle cx="438.90" cy="55.50" r="0.72" fill="#bfe2ee" />
<circle cx="438.90" cy="57.60" r="0.72" fill="#bfe2ee" />
<circle cx="438.90" cy="59.70" r="0.72" fill="#bfe2ee" />
<circle cx="440.80" cy="45.00" r="0.72" fill="#bfe2ee" />
<circle cx="440.80" cy="47.10" r="0.72" fill="#bfe2ee" />
<circle cx="440.80" cy="49.20" r="0.72" fill="#bfe2ee" />
<circle cx="440.80" cy="51.30" r="0.72" fill="#bfe2ee" />
<circle cx="440.80" cy="53.40" r="0.72" fill="#bfe2ee" />
<circle cx="440.80" cy="55.50" r="0.72" fill="#bfe2ee" />
<circle cx="440.80" cy="57.60" r="0.72" fill="#bfe2ee" />
<circle cx="440.80" cy="59.70" r="0.72" fill="#bfe2ee" />
<circle cx="442.70" cy="45.00" r="0.72" fill="#bfe2ee" />
<circle cx="442.70" cy="47.10" r="0.72" fill="#bfe2ee" />
<circle cx="442.70" cy="49.20" r="0.72" fill="#bfe2ee" />
<circle cx="442.70" cy="51.30" r="0.72" fill="#bfe2ee" />
<circle cx="442.70" cy="53.40" r="0.72" fill="#bfe2ee" />
<circle cx="442.70" cy="55.50" r="0.72" fill="#bfe2ee" />
<circle cx="442.70" cy="57.60" r="0.72" fill="#bfe2ee" />
<circle cx="442.70" cy="59.70" r="0.72" fill="#bfe2ee" />
<circle cx="444.60" cy="45.00" r="0.72" fill="#bfe2ee" />
<circle cx="444.60" cy="47.10" r="0.72" fill="#bfe2ee" />
<circle cx="444.60" cy="49.20" r="0.72" fill="#bfe2ee" />
<circle cx="444.60" cy="51.30" r="0.72" fill="#bfe2ee" />
<circle cx="444.60" cy="53.40" r="0.72" fill="#bfe2ee" />
<circle cx="444.60" cy="55.50" r="0.72" fill="#bfe2ee" />
<circle cx="444.60" cy="57.60" r="0.72" fill="#bfe2ee" />
<circle cx="444.60" cy="59.70" r="0.72" fill="#bfe2ee" />
<circle cx="446.50" cy="45.00" r="0.72" fill="#bfe2ee" />
<circle cx="446.50" cy="47.10" r="0.72" fill="#bfe2ee" />
<circle cx="446.50" cy="49.20" r="0.72" fill="#bfe2ee" />
<circle cx="446.50" cy="51.30" r="0.72" fill="#bfe2ee" />
<circle cx="446.50" cy="53.40" r="0.72" fill="#bfe2ee" />
<circle cx="446.50" cy="55.50" r="0.72" fill="#bfe2ee" />
<circle cx="446.50" cy="57.60" r="0.72" fill="#bfe2ee" />
<circle cx="446.50" cy="59.70" r="0.72" fill="#bfe2ee" />
<circle cx="448.40" cy="45.00" r="0.72" fill="#bfe2ee" />
<circle cx="448.40" cy="47.10" r="0.72" fill="#bfe2ee" />
<circle cx="448.40" cy="49.20" r="0.72" fill="#bfe2ee" />
<circle cx="448.40" cy="51.30" r="0.72" fill="#bfe2ee" />
<circle cx="448.40" cy="53.40" r="0.72" fill="#bfe2ee" />
<circle cx="448.40" cy="55.50" r="0.72" fill="#bfe2ee" />
<circle cx="448.40" cy="57.60" r="0.72" fill="#bfe2ee" />
<circle cx="448.40" cy="59.70" r="0.72" fill="#bfe2ee" />
<circle cx="450.30" cy="45.00" r="0.72" fill="#bfe2ee" />
<circle cx="450.30" cy="47.10" r="0.72" fill="#bfe2ee" />
<circle cx="450.30" cy="49.20" r="0.72" fill="#bfe2ee" />
<circle cx="450.30" cy="51.30" r="0.72" fill="#bfe2ee" />
<circle cx="450.30" cy="53.40" r="0.72" fill="#bfe2ee" />
<circle cx="450.30" cy="55.50" r="0.72" fill="#bfe2ee" />
<circle cx="450.30" cy="57.60" r="0.72" fill="#bfe2ee" />
<circle cx="450.30" cy="59.70" r="0.72" fill="#bfe2ee" />
<circle cx="452.20" cy="45.00" r="0.72" fill="#bfe2ee" />
<circle cx="452.20" cy="47.10" r="0.72" fill="#bfe2ee" />
<circle cx="452.20" cy="49.20" r="0.72" fill="#bfe2ee" />
<circle cx="452.20" cy="51.30" r="0.72" fill="#bfe2ee" />
<circle cx="452.20" cy="53.40" r="0.72" fill="#bfe2ee" />
<circle cx="452.20" cy="55.50" r="0.72" fill="#bfe2ee" />
<circle cx="452.20" cy="57.60" r="0.72" fill="#bfe2ee" />
<circle cx="452.20" cy="59.70" r="0.72" fill="#bfe2ee" />
<circle cx="454.10" cy="45.00" r="0.72" fill="#bfe2ee" />
<circle cx="454.10" cy="47.10" r="0.72" fill="#bfe2ee" />
<circle cx="454.10" cy="49.20" r="0.72" fill="#bfe2ee" />
<circle cx="454.10" cy="51.30" r="0.72" fill="#bfe2ee" />
<circle cx="454.10" cy="53.40" r="0.72" fill="#bfe2ee" />
<circle cx="454.10" cy="55.50" r="0.72" fill="#bfe2ee" />
<circle cx="454.10" cy="57.60" r="0.72" fill="#bfe2ee" />
<circle cx="454.10" cy="59.70" r="0.72" fill="#bfe2ee" />
<circle cx="456.00" cy="45.00" r="0.72" fill="#bfe2ee" />
<circle cx="456.00" cy="47.10" r="0.72" fill="#bfe2ee" />
<circle cx="456.00" cy="49.20" r="0.72" fill="#bfe2ee" />
<circle cx="456.00" cy="51.30" r="0.72" fill="#bfe2ee" />
<circle cx="456.00" cy="53.40" r="0.72" fill="#bfe2ee" />
<circle cx="456.00" cy="55.50" r="0.72" fill="#bfe2ee" />
<circle cx="456.00" cy="57.60" r="0.72" fill="#bfe2ee" />
<circle cx="456.00" cy="59.70" r="0.72" fill="#bfe2ee" />
<circle cx="457.90" cy="45.00" r="0.72" fill="#bfe2ee" />
<circle cx="457.90" cy="47.10" r="0.72" fill="#bfe2ee" />
<circle cx="457.90" cy="49.20" r="0.72" fill="#bfe2ee" />
<circle cx="457.90" cy="51.30" r="0.72" fill="#bfe2ee" />
<circle cx="457.90" cy="53.40" r="0.72" fill="#bfe2ee" />
<circle cx="457.90" cy="55.50" r="0.72" fill="#bfe2ee" />
<circle cx="457.90" cy="57.60" r="0.72" fill="#bfe2ee" />
<circle cx="457.90" cy="59.70" r="0.72" fill="#bfe2ee" />
<circle cx="459.80" cy="45.00" r="0.72" fill="#bfe2ee" />
<circle cx="459.80" cy="47.10" r="0.72" fill="#bfe2ee" />
<circle cx="459.80" cy="49.20" r="0.72" fill="#bfe2ee" />
<circle cx="459.80" cy="51.30" r="0.72" fill="#bfe2ee" />
<circle cx="459.80" cy="53.40" r="0.72" fill="#bfe2ee" />
<circle cx="459.80" cy="55.50" r="0.72" fill="#bfe2ee" />
<circle cx="459.80" cy="57.60" r="0.72" fill="#bfe2ee" />
<circle cx="459.80" cy="59.70" r="0.72" fill="#bfe2ee" />
<g transform="translate(467.6,66.8) rotate(41)"><rect x="-5" y="-1.8" width="10" height="3.6" rx="1" fill="#eef2f4" stroke="#97a3a7" stroke-width="0.5"/><line x1="-3.5" y1="0.2" x2="3.8" y2="0.2" stroke="#c5ced1" stroke-width="0.5"/></g>
<line x1="471.20" y1="70.10" x2="474.40" y2="71.60" stroke="#97a3a7" stroke-width="0.6" />
<path d="M474.2,72.2 L482.59999999999997,72.2 L482.29999999999995,86.2 L479.4,99.7 L477.6,99.7 L474.5,86.2 Z" fill="#eef3f5" stroke="#a3afb3" stroke-width="0.5" />
<path d="M474.7,86.0 L482.09999999999997,86.0 L481.99999999999994,86.2 L479.1,99.3 L477.9,99.3 L474.8,86.2 Z" fill="#cfb4e3" />
<rect x="473.40" y="71.30" width="10.00" height="1.50" fill="#dde4e7" stroke="#a3afb3" stroke-width="0.4" />
<line x1="480.40" y1="76.70" x2="482.00" y2="76.70" stroke="#8f9a9e" stroke-width="0.4" />
<line x1="480.40" y1="80.70" x2="482.00" y2="80.70" stroke="#8f9a9e" stroke-width="0.4" />
<g transform="translate(482.3,51.6) rotate(41)"><rect x="-5" y="-1.8" width="10" height="3.6" rx="1" fill="#eef2f4" stroke="#97a3a7" stroke-width="0.5"/><line x1="-3.5" y1="0.2" x2="3.8" y2="0.2" stroke="#c5ced1" stroke-width="0.5"/></g>
<line x1="485.90" y1="54.90" x2="489.00" y2="56.40" stroke="#97a3a7" stroke-width="0.6" />
<path d="M488.8,57.0 L497.3,57.0 L497.0,70.4 L494.0,84.3 L492.20000000000005,84.3 L489.1,70.4 Z" fill="#eef3f5" stroke="#a3afb3" stroke-width="0.5" />
<path d="M489.3,69.8 L496.8,69.8 L496.7,70.4 L493.70000000000005,83.89999999999999 L492.5,83.89999999999999 L489.40000000000003,70.4 Z" fill="#b6e1ed" />
<rect x="488.00" y="56.10" width="10.10" height="1.50" fill="#dde4e7" stroke="#a3afb3" stroke-width="0.4" />
<line x1="495.10" y1="61.50" x2="496.70" y2="61.50" stroke="#8f9a9e" stroke-width="0.4" />
<line x1="495.10" y1="65.50" x2="496.70" y2="65.50" stroke="#8f9a9e" stroke-width="0.4" />
<defs><filter id="bl" x="-50%" y="-80%" width="200%" height="260%"><feGaussianBlur stdDeviation="1.0"/></filter><filter id="bl2" x="-50%" y="-80%" width="200%" height="260%"><feGaussianBlur stdDeviation="0.6"/></filter></defs>
<line x1="430.90" y1="140.20" x2="430.90" y2="322.70" stroke="#111" stroke-width="1.1" />
<path d="M430.9,136.2 L428.79999999999995,141.0 L433.0,141.0 Z" fill="#111" />
<line x1="430.40" y1="322.70" x2="642.20" y2="322.70" stroke="#111" stroke-width="1.1" />
<path d="M646.2,322.7 L641.4000000000001,320.59999999999997 L641.4000000000001,324.8 Z" fill="#111" />
<text x="426.20" y="229.50" font-size="7.4" stroke="#1a1a1a" stroke-width="0.178" text-anchor="middle" fill="#1a1a1a" textLength="20.20" lengthAdjust="spacingAndGlyphs" transform="rotate(-90 426.20 229.50)" >SSC-A</text>
<text x="501.50" y="332.60" font-size="8.3" stroke="#1a1a1a" stroke-width="0.199" fill="#1a1a1a" textLength="49.80" lengthAdjust="spacingAndGlyphs" >CCR4+: BV421</text>
<line x1="454.90" y1="219.00" x2="456.60" y2="219.00" stroke="#333" stroke-width="0.45" />
<text x="454.50" y="220.15" font-size="3.2" stroke="#333" stroke-width="0.077" text-anchor="end" fill="#333" >0</text>
<line x1="455.70" y1="215.78" x2="456.60" y2="215.78" stroke="#666" stroke-width="0.35" />
<line x1="455.70" y1="212.55" x2="456.60" y2="212.55" stroke="#666" stroke-width="0.35" />
<line x1="455.70" y1="209.33" x2="456.60" y2="209.33" stroke="#666" stroke-width="0.35" />
<line x1="455.70" y1="206.10" x2="456.60" y2="206.10" stroke="#666" stroke-width="0.35" />
<line x1="454.90" y1="202.88" x2="456.60" y2="202.88" stroke="#333" stroke-width="0.45" />
<text x="454.50" y="204.03" font-size="3.2" stroke="#333" stroke-width="0.077" text-anchor="end" fill="#333" >50</text>
<line x1="455.70" y1="199.66" x2="456.60" y2="199.66" stroke="#666" stroke-width="0.35" />
<line x1="455.70" y1="196.43" x2="456.60" y2="196.43" stroke="#666" stroke-width="0.35" />
<line x1="455.70" y1="193.21" x2="456.60" y2="193.21" stroke="#666" stroke-width="0.35" />
<line x1="455.70" y1="189.98" x2="456.60" y2="189.98" stroke="#666" stroke-width="0.35" />
<line x1="454.90" y1="186.76" x2="456.60" y2="186.76" stroke="#333" stroke-width="0.45" />
<text x="454.50" y="187.91" font-size="3.2" stroke="#333" stroke-width="0.077" text-anchor="end" fill="#333" >100</text>
<line x1="455.70" y1="183.54" x2="456.60" y2="183.54" stroke="#666" stroke-width="0.35" />
<line x1="455.70" y1="180.31" x2="456.60" y2="180.31" stroke="#666" stroke-width="0.35" />
<line x1="455.70" y1="177.09" x2="456.60" y2="177.09" stroke="#666" stroke-width="0.35" />
<line x1="455.70" y1="173.86" x2="456.60" y2="173.86" stroke="#666" stroke-width="0.35" />
<line x1="454.90" y1="170.64" x2="456.60" y2="170.64" stroke="#333" stroke-width="0.45" />
<text x="454.50" y="171.79" font-size="3.2" stroke="#333" stroke-width="0.077" text-anchor="end" fill="#333" >150</text>
<line x1="455.70" y1="167.42" x2="456.60" y2="167.42" stroke="#666" stroke-width="0.35" />
<line x1="455.70" y1="164.19" x2="456.60" y2="164.19" stroke="#666" stroke-width="0.35" />
<line x1="455.70" y1="160.97" x2="456.60" y2="160.97" stroke="#666" stroke-width="0.35" />
<line x1="455.70" y1="157.74" x2="456.60" y2="157.74" stroke="#666" stroke-width="0.35" />
<line x1="454.90" y1="154.52" x2="456.60" y2="154.52" stroke="#333" stroke-width="0.45" />
<text x="454.50" y="155.67" font-size="3.2" stroke="#333" stroke-width="0.077" text-anchor="end" fill="#333" >200</text>
<line x1="455.70" y1="151.30" x2="456.60" y2="151.30" stroke="#666" stroke-width="0.35" />
<line x1="455.70" y1="148.07" x2="456.60" y2="148.07" stroke="#666" stroke-width="0.35" />
<line x1="455.70" y1="144.85" x2="456.60" y2="144.85" stroke="#666" stroke-width="0.35" />
<line x1="455.70" y1="141.62" x2="456.60" y2="141.62" stroke="#666" stroke-width="0.35" />
<line x1="454.90" y1="138.40" x2="456.60" y2="138.40" stroke="#333" stroke-width="0.45" />
<text x="454.50" y="139.55" font-size="3.2" stroke="#333" stroke-width="0.077" text-anchor="end" fill="#333" >250</text>
<text x="447.00" y="147.70" font-size="3.1" stroke="#333" stroke-width="0.074" text-anchor="middle" fill="#333" transform="rotate(-90 447.00 147.70)" >(x 10&#179;)</text>
<line x1="459.10" y1="219.30" x2="459.10" y2="220.80" stroke="#333" stroke-width="0.45" />
<text x="459.10" y="223.70" font-size="3.1" stroke="#333" stroke-width="0.074" text-anchor="middle" fill="#333" >-200</text>
<line x1="467.90" y1="219.30" x2="467.90" y2="220.80" stroke="#333" stroke-width="0.45" />
<text x="467.90" y="223.70" font-size="3.1" stroke="#333" stroke-width="0.074" text-anchor="middle" fill="#333" >0</text>
<line x1="477.10" y1="219.30" x2="477.10" y2="220.80" stroke="#333" stroke-width="0.45" />
<text x="477.10" y="223.70" font-size="3.1" stroke="#333" stroke-width="0.074" text-anchor="middle" fill="#333" >200</text>
<line x1="492.00" y1="219.30" x2="492.00" y2="220.80" stroke="#333" stroke-width="0.45" />
<text x="492.00" y="223.70" font-size="3.1" stroke="#333" stroke-width="0.074" text-anchor="middle" fill="#333" >10&#179;</text>
<line x1="510.90" y1="219.30" x2="510.90" y2="220.80" stroke="#333" stroke-width="0.45" />
<text x="510.90" y="223.70" font-size="3.1" stroke="#333" stroke-width="0.074" text-anchor="middle" fill="#333" >10&#8308;</text>
<line x1="529.70" y1="219.30" x2="529.70" y2="220.80" stroke="#333" stroke-width="0.45" />
<text x="529.70" y="223.70" font-size="3.1" stroke="#333" stroke-width="0.074" text-anchor="middle" fill="#333" >10&#8309;</text>
<line x1="478.90" y1="219.30" x2="478.90" y2="220.10" stroke="#777" stroke-width="0.3" />
<line x1="480.70" y1="219.30" x2="480.70" y2="220.10" stroke="#777" stroke-width="0.3" />
<line x1="482.50" y1="219.30" x2="482.50" y2="220.10" stroke="#777" stroke-width="0.3" />
<line x1="484.30" y1="219.30" x2="484.30" y2="220.10" stroke="#777" stroke-width="0.3" />
<line x1="486.10" y1="219.30" x2="486.10" y2="220.10" stroke="#777" stroke-width="0.3" />
<line x1="487.90" y1="219.30" x2="487.90" y2="220.10" stroke="#777" stroke-width="0.3" />
<line x1="489.70" y1="219.30" x2="489.70" y2="220.10" stroke="#777" stroke-width="0.3" />
<line x1="491.50" y1="219.30" x2="491.50" y2="220.10" stroke="#777" stroke-width="0.3" />
<line x1="493.30" y1="219.30" x2="493.30" y2="220.10" stroke="#777" stroke-width="0.3" />
<line x1="495.10" y1="219.30" x2="495.10" y2="220.10" stroke="#777" stroke-width="0.3" />
<line x1="496.90" y1="219.30" x2="496.90" y2="220.10" stroke="#777" stroke-width="0.3" />
<line x1="498.70" y1="219.30" x2="498.70" y2="220.10" stroke="#777" stroke-width="0.3" />
<line x1="500.50" y1="219.30" x2="500.50" y2="220.10" stroke="#777" stroke-width="0.3" />
<line x1="502.30" y1="219.30" x2="502.30" y2="220.10" stroke="#777" stroke-width="0.3" />
<line x1="504.10" y1="219.30" x2="504.10" y2="220.10" stroke="#777" stroke-width="0.3" />
<line x1="505.90" y1="219.30" x2="505.90" y2="220.10" stroke="#777" stroke-width="0.3" />
<line x1="507.70" y1="219.30" x2="507.70" y2="220.10" stroke="#777" stroke-width="0.3" />
<line x1="509.50" y1="219.30" x2="509.50" y2="220.10" stroke="#777" stroke-width="0.3" />
<line x1="511.30" y1="219.30" x2="511.30" y2="220.10" stroke="#777" stroke-width="0.3" />
<line x1="513.10" y1="219.30" x2="513.10" y2="220.10" stroke="#777" stroke-width="0.3" />
<line x1="514.90" y1="219.30" x2="514.90" y2="220.10" stroke="#777" stroke-width="0.3" />
<line x1="516.70" y1="219.30" x2="516.70" y2="220.10" stroke="#777" stroke-width="0.3" />
<line x1="518.50" y1="219.30" x2="518.50" y2="220.10" stroke="#777" stroke-width="0.3" />
<line x1="520.30" y1="219.30" x2="520.30" y2="220.10" stroke="#777" stroke-width="0.3" />
<line x1="522.10" y1="219.30" x2="522.10" y2="220.10" stroke="#777" stroke-width="0.3" />
<line x1="523.90" y1="219.30" x2="523.90" y2="220.10" stroke="#777" stroke-width="0.3" />
<line x1="525.70" y1="219.30" x2="525.70" y2="220.10" stroke="#777" stroke-width="0.3" />
<line x1="527.50" y1="219.30" x2="527.50" y2="220.10" stroke="#777" stroke-width="0.3" />
<line x1="529.30" y1="219.30" x2="529.30" y2="220.10" stroke="#777" stroke-width="0.3" />
<rect x="456.60" y="135.20" width="80.80" height="84.10" fill="none" stroke="#777" stroke-width="0.6" />
<g><circle cx="491.9" cy="209.4" r="0.42" fill="#4a66ff" opacity="0.5"/><circle cx="492.4" cy="211.4" r="0.42" fill="#4a66ff" opacity="0.5"/><circle cx="493.9" cy="211.8" r="0.42" fill="#4a66ff" opacity="0.5"/><circle cx="494.0" cy="212.1" r="0.42" fill="#4a66ff" opacity="0.5"/><circle cx="498.1" cy="212.8" r="0.42" fill="#4a66ff" opacity="0.5"/><circle cx="486.8" cy="212.0" r="0.42" fill="#4a66ff" opacity="0.5"/><circle cx="479.4" cy="213.4" r="0.42" fill="#4a66ff" opacity="0.5"/><circle cx="477.7" cy="210.5" r="0.42" fill="#4a66ff" opacity="0.5"/><circle cx="510.4" cy="214.7" r="0.42" fill="#4a66ff" opacity="0.5"/><circle cx="497.6" cy="212.1" r="0.42" fill="#4a66ff" opacity="0.5"/><circle cx="481.7" cy="214.4" r="0.42" fill="#4a66ff" opacity="0.5"/><circle cx="478.3" cy="212.8" r="0.42" fill="#4a66ff" opacity="0.5"/><circle cx="482.8" cy="212.6" r="0.42" fill="#4a66ff" opacity="0.5"/><circle cx="492.3" cy="213.0" r="0.42" fill="#4a66ff" opacity="0.5"/><circle cx="491.5" cy="213.6" r="0.42" fill="#4a66ff" opacity="0.5"/><circle cx="498.5" cy="211.1" r="0.42" fill="#4a66ff" opacity="0.5"/><circle cx="493.6" cy="211.7" r="0.42" fill="#4a66ff" opacity="0.5"/><circle cx="485.9" cy="211.2" r="0.42" fill="#4a66ff" opacity="0.5"/><circle cx="510.9" cy="215.5" r="0.42" fill="#4a66ff" opacity="0.5"/><circle cx="500.8" cy="212.5" r="0.42" fill="#4a66ff" opacity="0.5"/><circle cx="487.2" cy="212.8" r="0.42" fill="#4a66ff" opacity="0.5"/><circle cx="478.6" cy="213.8" r="0.42" fill="#4a66ff" opacity="0.5"/><circle cx="502.9" cy="210.2" r="0.42" fill="#4a66ff" opacity="0.5"/><circle cx="489.7" cy="214.3" r="0.42" fill="#4a66ff" opacity="0.5"/><circle cx="509.5" cy="212.6" r="0.42" fill="#4a66ff" opacity="0.5"/><circle cx="483.5" cy="212.6" r="0.42" fill="#4a66ff" opacity="0.5"/><circle cx="507.9" cy="208.5" r="0.42" fill="#4a66ff" opacity="0.5"/><circle cx="490.0" cy="213.4" r="0.42" fill="#4a66ff" opacity="0.5"/><circle cx="478.7" cy="210.8" r="0.42" fill="#4a66ff" opacity="0.5"/><circle cx="485.6" cy="210.7" r="0.42" fill="#4a66ff" opacity="0.5"/><circle cx="479.2" cy="210.7" r="0.42" fill="#4a66ff" opacity="0.5"/><circle cx="502.6" cy="216.0" r="0.42" fill="#4a66ff" opacity="0.5"/><circle cx="480.3" cy="212.6" r="0.42" fill="#4a66ff" opacity="0.5"/><circle cx="478.3" cy="213.3" r="0.42" fill="#4a66ff" opacity="0.5"/><circle cx="503.9" cy="213.4" r="0.42" fill="#4a66ff" opacity="0.5"/><circle cx="491.8" cy="214.3" r="0.42" fill="#4a66ff" opacity="0.5"/><circle cx="482.8" cy="212.5" r="0.42" fill="#4a66ff" opacity="0.5"/><circle cx="498.6" cy="211.8" r="0.42" fill="#4a66ff" opacity="0.5"/><circle cx="480.3" cy="211.7" r="0.42" fill="#4a66ff" opacity="0.5"/><circle cx="485.6" cy="213.1" r="0.42" fill="#4a66ff" opacity="0.5"/><circle cx="510.0" cy="213.0" r="0.42" fill="#4a66ff" opacity="0.5"/><circle cx="507.0" cy="211.4" r="0.42" fill="#4a66ff" opacity="0.5"/><circle cx="483.5" cy="210.3" r="0.42" fill="#4a66ff" opacity="0.5"/><circle cx="498.5" cy="214.4" r="0.42" fill="#4a66ff" opacity="0.5"/><circle cx="479.7" cy="213.6" r="0.42" fill="#4a66ff" opacity="0.5"/><circle cx="485.2" cy="212.5" r="0.42" fill="#4a66ff" opacity="0.5"/><circle cx="503.1" cy="212.0" r="0.42" fill="#4a66ff" opacity="0.5"/><circle cx="478.8" cy="213.7" r="0.42" fill="#4a66ff" opacity="0.5"/><circle cx="479.3" cy="211.6" r="0.42" fill="#4a66ff" opacity="0.5"/><circle cx="497.1" cy="212.0" r="0.42" fill="#4a66ff" opacity="0.5"/><circle cx="489.1" cy="209.0" r="0.42" fill="#4a66ff" opacity="0.5"/><circle cx="493.0" cy="213.7" r="0.42" fill="#4a66ff" opacity="0.5"/><circle cx="496.2" cy="213.2" r="0.42" fill="#4a66ff" opacity="0.5"/><circle cx="481.6" cy="211.9" r="0.42" fill="#4a66ff" opacity="0.5"/><circle cx="507.8" cy="213.1" r="0.42" fill="#4a66ff" opacity="0.5"/><circle cx="482.8" cy="211.6" r="0.42" fill="#4a66ff" opacity="0.5"/><circle cx="501.9" cy="213.5" r="0.42" fill="#4a66ff" opacity="0.5"/><circle cx="509.3" cy="212.2" r="0.42" fill="#4a66ff" opacity="0.5"/><circle cx="506.9" cy="211.4" r="0.42" fill="#4a66ff" opacity="0.5"/><circle cx="479.8" cy="211.6" r="0.42" fill="#4a66ff" opacity="0.5"/><circle cx="477.5" cy="213.7" r="0.42" fill="#4a66ff" opacity="0.5"/><circle cx="500.7" cy="212.3" r="0.42" fill="#4a66ff" opacity="0.5"/><circle cx="485.1" cy="213.5" r="0.42" fill="#4a66ff" opacity="0.5"/><circle cx="486.4" cy="210.8" r="0.42" fill="#4a66ff" opacity="0.5"/><circle cx="482.3" cy="212.5" r="0.42" fill="#4a66ff" opacity="0.5"/><circle cx="484.1" cy="212.0" r="0.42" fill="#4a66ff" opacity="0.5"/><circle cx="495.7" cy="213.8" r="0.42" fill="#4a66ff" opacity="0.5"/><circle cx="486.0" cy="210.9" r="0.42" fill="#4a66ff" opacity="0.5"/><circle cx="508.1" cy="212.7" r="0.42" fill="#4a66ff" opacity="0.5"/><circle cx="485.6" cy="212.9" r="0.42" fill="#4a66ff" opacity="0.5"/><circle cx="491.7" cy="213.5" r="0.42" fill="#4a66ff" opacity="0.5"/><circle cx="489.0" cy="212.9" r="0.42" fill="#4a66ff" opacity="0.5"/><circle cx="496.1" cy="213.6" r="0.42" fill="#4a66ff" opacity="0.5"/><circle cx="507.2" cy="213.6" r="0.42" fill="#4a66ff" opacity="0.5"/><circle cx="510.3" cy="211.3" r="0.42" fill="#4a66ff" opacity="0.5"/><circle cx="496.5" cy="210.7" r="0.42" fill="#4a66ff" opacity="0.5"/><circle cx="481.1" cy="212.9" r="0.42" fill="#4a66ff" opacity="0.5"/><circle cx="507.9" cy="212.7" r="0.42" fill="#4a66ff" opacity="0.5"/><circle cx="500.6" cy="212.9" r="0.42" fill="#4a66ff" opacity="0.5"/><circle cx="498.3" cy="212.5" r="0.42" fill="#4a66ff" opacity="0.5"/><circle cx="493.0" cy="212.4" r="0.42" fill="#4a66ff" opacity="0.5"/><circle cx="511.0" cy="211.3" r="0.42" fill="#4a66ff" opacity="0.5"/><circle cx="478.8" cy="210.3" r="0.42" fill="#4a66ff" opacity="0.5"/><circle cx="507.5" cy="211.9" r="0.42" fill="#4a66ff" opacity="0.5"/><circle cx="501.9" cy="211.8" r="0.42" fill="#4a66ff" opacity="0.5"/><circle cx="508.0" cy="210.0" r="0.42" fill="#4a66ff" opacity="0.5"/><circle cx="488.4" cy="211.3" r="0.42" fill="#4a66ff" opacity="0.5"/><circle cx="506.5" cy="209.6" r="0.42" fill="#4a66ff" opacity="0.5"/><circle cx="490.7" cy="213.4" r="0.42" fill="#4a66ff" opacity="0.5"/><circle cx="496.1" cy="209.7" r="0.42" fill="#4a66ff" opacity="0.5"/><circle cx="497.9" cy="211.1" r="0.42" fill="#4a66ff" opacity="0.5"/><circle cx="497.4" cy="213.9" r="0.42" fill="#4a66ff" opacity="0.5"/><circle cx="479.0" cy="209.6" r="0.42" fill="#4a66ff" opacity="0.5"/><circle cx="506.8" cy="209.0" r="0.42" fill="#4a66ff" opacity="0.5"/><circle cx="501.5" cy="210.7" r="0.42" fill="#4a66ff" opacity="0.5"/><circle cx="496.4" cy="214.2" r="0.42" fill="#4a66ff" opacity="0.5"/><circle cx="491.5" cy="212.9" r="0.42" fill="#4a66ff" opacity="0.5"/><circle cx="502.3" cy="212.1" r="0.42" fill="#4a66ff" opacity="0.5"/><circle cx="477.2" cy="211.2" r="0.42" fill="#4a66ff" opacity="0.5"/><circle cx="484.2" cy="211.6" r="0.42" fill="#4a66ff" opacity="0.5"/><circle cx="500.5" cy="210.5" r="0.42" fill="#4a66ff" opacity="0.5"/><circle cx="508.2" cy="212.6" r="0.42" fill="#4a66ff" opacity="0.5"/><circle cx="485.1" cy="213.9" r="0.42" fill="#4a66ff" opacity="0.5"/><circle cx="499.8" cy="212.7" r="0.42" fill="#4a66ff" opacity="0.5"/><circle cx="483.2" cy="214.2" r="0.42" fill="#4a66ff" opacity="0.5"/><circle cx="499.2" cy="215.5" r="0.42" fill="#4a66ff" opacity="0.5"/><circle cx="491.6" cy="213.6" r="0.42" fill="#4a66ff" opacity="0.5"/><circle cx="499.4" cy="211.8" r="0.42" fill="#4a66ff" opacity="0.5"/><circle cx="483.1" cy="210.1" r="0.42" fill="#4a66ff" opacity="0.5"/><circle cx="508.0" cy="213.7" r="0.42" fill="#4a66ff" opacity="0.5"/><circle cx="506.8" cy="211.1" r="0.42" fill="#4a66ff" opacity="0.5"/><circle cx="487.2" cy="213.9" r="0.42" fill="#4a66ff" opacity="0.5"/><circle cx="480.9" cy="209.7" r="0.42" fill="#4a66ff" opacity="0.5"/><circle cx="505.7" cy="212.7" r="0.42" fill="#4a66ff" opacity="0.5"/><circle cx="501.0" cy="213.7" r="0.42" fill="#4a66ff" opacity="0.5"/><circle cx="482.1" cy="212.2" r="0.42" fill="#4a66ff" opacity="0.5"/><circle cx="491.9" cy="212.4" r="0.42" fill="#4a66ff" opacity="0.5"/><circle cx="490.6" cy="213.6" r="0.42" fill="#4a66ff" opacity="0.5"/><circle cx="498.0" cy="211.3" r="0.42" fill="#4a66ff" opacity="0.5"/><circle cx="505.4" cy="212.7" r="0.42" fill="#4a66ff" opacity="0.5"/><circle cx="510.4" cy="212.0" r="0.42" fill="#4a66ff" opacity="0.5"/><circle cx="477.3" cy="212.8" r="0.42" fill="#4a66ff" opacity="0.5"/><circle cx="506.6" cy="214.9" r="0.42" fill="#4a66ff" opacity="0.5"/><circle cx="496.1" cy="213.2" r="0.42" fill="#4a66ff" opacity="0.5"/><circle cx="487.0" cy="212.7" r="0.42" fill="#4a66ff" opacity="0.5"/><circle cx="480.9" cy="212.3" r="0.42" fill="#4a66ff" opacity="0.5"/><circle cx="492.0" cy="215.4" r="0.42" fill="#4a66ff" opacity="0.5"/><circle cx="484.5" cy="213.0" r="0.42" fill="#4a66ff" opacity="0.5"/><circle cx="481.1" cy="214.6" r="0.42" fill="#4a66ff" opacity="0.5"/><circle cx="491.7" cy="213.2" r="0.42" fill="#4a66ff" opacity="0.5"/><circle cx="498.1" cy="211.1" r="0.42" fill="#4a66ff" opacity="0.5"/><circle cx="509.6" cy="210.3" r="0.42" fill="#4a66ff" opacity="0.5"/><circle cx="500.0" cy="213.1" r="0.42" fill="#4a66ff" opacity="0.5"/><circle cx="482.4" cy="214.2" r="0.42" fill="#4a66ff" opacity="0.5"/><circle cx="476.6" cy="210.3" r="0.42" fill="#4a66ff" opacity="0.5"/><circle cx="482.4" cy="213.0" r="0.42" fill="#4a66ff" opacity="0.5"/><circle cx="485.7" cy="211.3" r="0.42" fill="#4a66ff" opacity="0.5"/><circle cx="494.3" cy="214.5" r="0.42" fill="#4a66ff" opacity="0.5"/><circle cx="497.6" cy="212.7" r="0.42" fill="#4a66ff" opacity="0.5"/><circle cx="503.8" cy="211.1" r="0.42" fill="#4a66ff" opacity="0.5"/><circle cx="507.7" cy="215.6" r="0.42" fill="#4a66ff" opacity="0.5"/><circle cx="501.3" cy="214.4" r="0.42" fill="#4a66ff" opacity="0.5"/><circle cx="480.7" cy="210.6" r="0.42" fill="#4a66ff" opacity="0.5"/><circle cx="507.9" cy="213.2" r="0.42" fill="#4a66ff" opacity="0.5"/><circle cx="489.3" cy="209.8" r="0.42" fill="#4a66ff" opacity="0.5"/><circle cx="503.9" cy="211.3" r="0.42" fill="#4a66ff" opacity="0.5"/><circle cx="509.1" cy="210.5" r="0.42" fill="#4a66ff" opacity="0.5"/><circle cx="483.3" cy="213.1" r="0.42" fill="#4a66ff" opacity="0.5"/><circle cx="501.3" cy="213.5" r="0.42" fill="#4a66ff" opacity="0.5"/><circle cx="501.2" cy="210.6" r="0.42" fill="#4a66ff" opacity="0.5"/><ellipse cx="494.6" cy="212.6" rx="16.3" ry="3.5" fill="#4462ff" opacity="0.85" filter="url(#bl)"/><ellipse cx="498.6" cy="212.9" rx="7.3" ry="1.5" fill="#3c9cff" opacity="0.8" filter="url(#bl)"/><ellipse cx="472.2" cy="212.2" rx="15.5" ry="5.1" fill="#3452ff" filter="url(#bl)"/><ellipse cx="471.2" cy="212.6" rx="12.5" ry="3.7" fill="#2ab6f0" filter="url(#bl)"/><ellipse cx="471.2" cy="212.9" rx="9.5" ry="2.5" fill="#44da64" filter="url(#bl2)"/><ellipse cx="470.2" cy="212.9" rx="4.0" ry="0.9" fill="#a6e052" opacity="0.85" filter="url(#bl2)"/></g>
<rect x="483.30" y="204.00" width="34.30" height="14.90" fill="none" stroke="#555" stroke-width="0.6" />
<rect x="484.50" y="196.50" width="24.00" height="5.90" fill="#fff" stroke="#999" stroke-width="0.45" rx="0.9"/>
<text x="496.50" y="201.05" font-size="4.5" stroke="#111" stroke-width="0.108" text-anchor="middle" fill="#111" textLength="22.00" lengthAdjust="spacingAndGlyphs" >CD4+ CCR4+</text>
<text x="513.80" y="200.70" font-size="7.0" fill="#1a1a1a" textLength="18.60" lengthAdjust="spacingAndGlyphs" stroke="#1a1a1a" stroke-width="0.12">17.73%</text>
<text x="496.40" y="160.20" font-size="7.4" text-anchor="middle" fill="#1a1a1a" textLength="52.60" lengthAdjust="spacingAndGlyphs" stroke="#1a1a1a" stroke-width="0.2">standard diet (SD)</text>
<line x1="554.90" y1="219.00" x2="556.60" y2="219.00" stroke="#333" stroke-width="0.45" />
<text x="554.50" y="220.15" font-size="3.2" stroke="#333" stroke-width="0.077" text-anchor="end" fill="#333" >0</text>
<line x1="555.70" y1="215.78" x2="556.60" y2="215.78" stroke="#666" stroke-width="0.35" />
<line x1="555.70" y1="212.55" x2="556.60" y2="212.55" stroke="#666" stroke-width="0.35" />
<line x1="555.70" y1="209.33" x2="556.60" y2="209.33" stroke="#666" stroke-width="0.35" />
<line x1="555.70" y1="206.10" x2="556.60" y2="206.10" stroke="#666" stroke-width="0.35" />
<line x1="554.90" y1="202.88" x2="556.60" y2="202.88" stroke="#333" stroke-width="0.45" />
<text x="554.50" y="204.03" font-size="3.2" stroke="#333" stroke-width="0.077" text-anchor="end" fill="#333" >50</text>
<line x1="555.70" y1="199.66" x2="556.60" y2="199.66" stroke="#666" stroke-width="0.35" />
<line x1="555.70" y1="196.43" x2="556.60" y2="196.43" stroke="#666" stroke-width="0.35" />
<line x1="555.70" y1="193.21" x2="556.60" y2="193.21" stroke="#666" stroke-width="0.35" />
<line x1="555.70" y1="189.98" x2="556.60" y2="189.98" stroke="#666" stroke-width="0.35" />
<line x1="554.90" y1="186.76" x2="556.60" y2="186.76" stroke="#333" stroke-width="0.45" />
<text x="554.50" y="187.91" font-size="3.2" stroke="#333" stroke-width="0.077" text-anchor="end" fill="#333" >100</text>
<line x1="555.70" y1="183.54" x2="556.60" y2="183.54" stroke="#666" stroke-width="0.35" />
<line x1="555.70" y1="180.31" x2="556.60" y2="180.31" stroke="#666" stroke-width="0.35" />
<line x1="555.70" y1="177.09" x2="556.60" y2="177.09" stroke="#666" stroke-width="0.35" />
<line x1="555.70" y1="173.86" x2="556.60" y2="173.86" stroke="#666" stroke-width="0.35" />
<line x1="554.90" y1="170.64" x2="556.60" y2="170.64" stroke="#333" stroke-width="0.45" />
<text x="554.50" y="171.79" font-size="3.2" stroke="#333" stroke-width="0.077" text-anchor="end" fill="#333" >150</text>
<line x1="555.70" y1="167.42" x2="556.60" y2="167.42" stroke="#666" stroke-width="0.35" />
<line x1="555.70" y1="164.19" x2="556.60" y2="164.19" stroke="#666" stroke-width="0.35" />
<line x1="555.70" y1="160.97" x2="556.60" y2="160.97" stroke="#666" stroke-width="0.35" />
<line x1="555.70" y1="157.74" x2="556.60" y2="157.74" stroke="#666" stroke-width="0.35" />
<line x1="554.90" y1="154.52" x2="556.60" y2="154.52" stroke="#333" stroke-width="0.45" />
<text x="554.50" y="155.67" font-size="3.2" stroke="#333" stroke-width="0.077" text-anchor="end" fill="#333" >200</text>
<line x1="555.70" y1="151.30" x2="556.60" y2="151.30" stroke="#666" stroke-width="0.35" />
<line x1="555.70" y1="148.07" x2="556.60" y2="148.07" stroke="#666" stroke-width="0.35" />
<line x1="555.70" y1="144.85" x2="556.60" y2="144.85" stroke="#666" stroke-width="0.35" />
<line x1="555.70" y1="141.62" x2="556.60" y2="141.62" stroke="#666" stroke-width="0.35" />
<line x1="554.90" y1="138.40" x2="556.60" y2="138.40" stroke="#333" stroke-width="0.45" />
<text x="554.50" y="139.55" font-size="3.2" stroke="#333" stroke-width="0.077" text-anchor="end" fill="#333" >250</text>
<text x="547.00" y="147.70" font-size="3.1" stroke="#333" stroke-width="0.074" text-anchor="middle" fill="#333" transform="rotate(-90 547.00 147.70)" >(x 10&#179;)</text>
<line x1="559.10" y1="219.30" x2="559.10" y2="220.80" stroke="#333" stroke-width="0.45" />
<text x="559.10" y="223.70" font-size="3.1" stroke="#333" stroke-width="0.074" text-anchor="middle" fill="#333" >-200</text>
<line x1="567.90" y1="219.30" x2="567.90" y2="220.80" stroke="#333" stroke-width="0.45" />
<text x="567.90" y="223.70" font-size="3.1" stroke="#333" stroke-width="0.074" text-anchor="middle" fill="#333" >0</text>
<line x1="577.10" y1="219.30" x2="577.10" y2="220.80" stroke="#333" stroke-width="0.45" />
<text x="577.10" y="223.70" font-size="3.1" stroke="#333" stroke-width="0.074" text-anchor="middle" fill="#333" >200</text>
<line x1="592.00" y1="219.30" x2="592.00" y2="220.80" stroke="#333" stroke-width="0.45" />
<text x="592.00" y="223.70" font-size="3.1" stroke="#333" stroke-width="0.074" text-anchor="middle" fill="#333" >10&#179;</text>
<line x1="610.90" y1="219.30" x2="610.90" y2="220.80" stroke="#333" stroke-width="0.45" />
<text x="610.90" y="223.70" font-size="3.1" stroke="#333" stroke-width="0.074" text-anchor="middle" fill="#333" >10&#8308;</text>
<line x1="629.70" y1="219.30" x2="629.70" y2="220.80" stroke="#333" stroke-width="0.45" />
<text x="629.70" y="223.70" font-size="3.1" stroke="#333" stroke-width="0.074" text-anchor="middle" fill="#333" >10&#8309;</text>
<line x1="578.90" y1="219.30" x2="578.90" y2="220.10" stroke="#777" stroke-width="0.3" />
<line x1="580.70" y1="219.30" x2="580.70" y2="220.10" stroke="#777" stroke-width="0.3" />
<line x1="582.50" y1="219.30" x2="582.50" y2="220.10" stroke="#777" stroke-width="0.3" />
<line x1="584.30" y1="219.30" x2="584.30" y2="220.10" stroke="#777" stroke-width="0.3" />
<line x1="586.10" y1="219.30" x2="586.10" y2="220.10" stroke="#777" stroke-width="0.3" />
<line x1="587.90" y1="219.30" x2="587.90" y2="220.10" stroke="#777" stroke-width="0.3" />
<line x1="589.70" y1="219.30" x2="589.70" y2="220.10" stroke="#777" stroke-width="0.3" />
<line x1="591.50" y1="219.30" x2="591.50" y2="220.10" stroke="#777" stroke-width="0.3" />
<line x1="593.30" y1="219.30" x2="593.30" y2="220.10" stroke="#777" stroke-width="0.3" />
<line x1="595.10" y1="219.30" x2="595.10" y2="220.10" stroke="#777" stroke-width="0.3" />
<line x1="596.90" y1="219.30" x2="596.90" y2="220.10" stroke="#777" stroke-width="0.3" />
<line x1="598.70" y1="219.30" x2="598.70" y2="220.10" stroke="#777" stroke-width="0.3" />
<line x1="600.50" y1="219.30" x2="600.50" y2="220.10" stroke="#777" stroke-width="0.3" />
<line x1="602.30" y1="219.30" x2="602.30" y2="220.10" stroke="#777" stroke-width="0.3" />
<line x1="604.10" y1="219.30" x2="604.10" y2="220.10" stroke="#777" stroke-width="0.3" />
<line x1="605.90" y1="219.30" x2="605.90" y2="220.10" stroke="#777" stroke-width="0.3" />
<line x1="607.70" y1="219.30" x2="607.70" y2="220.10" stroke="#777" stroke-width="0.3" />
<line x1="609.50" y1="219.30" x2="609.50" y2="220.10" stroke="#777" stroke-width="0.3" />
<line x1="611.30" y1="219.30" x2="611.30" y2="220.10" stroke="#777" stroke-width="0.3" />
<line x1="613.10" y1="219.30" x2="613.10" y2="220.10" stroke="#777" stroke-width="0.3" />
<line x1="614.90" y1="219.30" x2="614.90" y2="220.10" stroke="#777" stroke-width="0.3" />
<line x1="616.70" y1="219.30" x2="616.70" y2="220.10" stroke="#777" stroke-width="0.3" />
<line x1="618.50" y1="219.30" x2="618.50" y2="220.10" stroke="#777" stroke-width="0.3" />
<line x1="620.30" y1="219.30" x2="620.30" y2="220.10" stroke="#777" stroke-width="0.3" />
<line x1="622.10" y1="219.30" x2="622.10" y2="220.10" stroke="#777" stroke-width="0.3" />
<line x1="623.90" y1="219.30" x2="623.90" y2="220.10" stroke="#777" stroke-width="0.3" />
<line x1="625.70" y1="219.30" x2="625.70" y2="220.10" stroke="#777" stroke-width="0.3" />
<line x1="627.50" y1="219.30" x2="627.50" y2="220.10" stroke="#777" stroke-width="0.3" />
<line x1="629.30" y1="219.30" x2="629.30" y2="220.10" stroke="#777" stroke-width="0.3" />
<rect x="556.60" y="135.20" width="79.80" height="84.10" fill="none" stroke="#777" stroke-width="0.6" />
<g><circle cx="581.0" cy="216.7" r="0.42" fill="#4a66ff" opacity="0.5"/><circle cx="603.3" cy="210.8" r="0.42" fill="#4a66ff" opacity="0.5"/><circle cx="590.5" cy="213.6" r="0.42" fill="#4a66ff" opacity="0.5"/><circle cx="601.4" cy="212.0" r="0.42" fill="#4a66ff" opacity="0.5"/><circle cx="599.8" cy="212.9" r="0.42" fill="#4a66ff" opacity="0.5"/><circle cx="587.7" cy="213.8" r="0.42" fill="#4a66ff" opacity="0.5"/><circle cx="590.9" cy="213.5" r="0.42" fill="#4a66ff" opacity="0.5"/><circle cx="575.6" cy="211.6" r="0.42" fill="#4a66ff" opacity="0.5"/><circle cx="598.4" cy="215.8" r="0.42" fill="#4a66ff" opacity="0.5"/><circle cx="579.8" cy="214.4" r="0.42" fill="#4a66ff" opacity="0.5"/><circle cx="584.6" cy="213.5" r="0.42" fill="#4a66ff" opacity="0.5"/><circle cx="579.1" cy="212.5" r="0.42" fill="#4a66ff" opacity="0.5"/><circle cx="589.9" cy="212.8" r="0.42" fill="#4a66ff" opacity="0.5"/><circle cx="594.9" cy="210.5" r="0.42" fill="#4a66ff" opacity="0.5"/><circle cx="602.4" cy="209.6" r="0.42" fill="#4a66ff" opacity="0.5"/><circle cx="577.3" cy="213.5" r="0.42" fill="#4a66ff" opacity="0.5"/><circle cx="581.3" cy="212.1" r="0.42" fill="#4a66ff" opacity="0.5"/><circle cx="596.1" cy="213.1" r="0.42" fill="#4a66ff" opacity="0.5"/><circle cx="593.5" cy="210.4" r="0.42" fill="#4a66ff" opacity="0.5"/><circle cx="591.2" cy="212.9" r="0.42" fill="#4a66ff" opacity="0.5"/><circle cx="583.9" cy="211.2" r="0.42" fill="#4a66ff" opacity="0.5"/><circle cx="601.1" cy="215.3" r="0.42" fill="#4a66ff" opacity="0.5"/><circle cx="580.9" cy="215.6" r="0.42" fill="#4a66ff" opacity="0.5"/><circle cx="590.1" cy="210.1" r="0.42" fill="#4a66ff" opacity="0.5"/><circle cx="591.5" cy="213.9" r="0.42" fill="#4a66ff" opacity="0.5"/><circle cx="589.5" cy="215.1" r="0.42" fill="#4a66ff" opacity="0.5"/><circle cx="592.5" cy="217.2" r="0.42" fill="#4a66ff" opacity="0.5"/><circle cx="589.9" cy="214.0" r="0.42" fill="#4a66ff" opacity="0.5"/><circle cx="586.5" cy="213.9" r="0.42" fill="#4a66ff" opacity="0.5"/><circle cx="589.1" cy="211.5" r="0.42" fill="#4a66ff" opacity="0.5"/><circle cx="595.0" cy="215.0" r="0.42" fill="#4a66ff" opacity="0.5"/><circle cx="586.9" cy="214.1" r="0.42" fill="#4a66ff" opacity="0.5"/><circle cx="602.7" cy="214.4" r="0.42" fill="#4a66ff" opacity="0.5"/><circle cx="588.6" cy="212.8" r="0.42" fill="#4a66ff" opacity="0.5"/><circle cx="578.5" cy="210.8" r="0.42" fill="#4a66ff" opacity="0.5"/><circle cx="601.1" cy="214.4" r="0.42" fill="#4a66ff" opacity="0.5"/><circle cx="588.7" cy="212.9" r="0.42" fill="#4a66ff" opacity="0.5"/><circle cx="592.8" cy="214.2" r="0.42" fill="#4a66ff" opacity="0.5"/><circle cx="601.8" cy="215.1" r="0.42" fill="#4a66ff" opacity="0.5"/><circle cx="575.5" cy="215.2" r="0.42" fill="#4a66ff" opacity="0.5"/><circle cx="580.5" cy="213.6" r="0.42" fill="#4a66ff" opacity="0.5"/><circle cx="584.2" cy="215.6" r="0.42" fill="#4a66ff" opacity="0.5"/><circle cx="585.2" cy="212.8" r="0.42" fill="#4a66ff" opacity="0.5"/><circle cx="596.1" cy="212.8" r="0.42" fill="#4a66ff" opacity="0.5"/><circle cx="578.4" cy="212.2" r="0.42" fill="#4a66ff" opacity="0.5"/><circle cx="580.6" cy="213.2" r="0.42" fill="#4a66ff" opacity="0.5"/><circle cx="590.3" cy="212.0" r="0.42" fill="#4a66ff" opacity="0.5"/><circle cx="586.9" cy="213.9" r="0.42" fill="#4a66ff" opacity="0.5"/><circle cx="590.3" cy="213.8" r="0.42" fill="#4a66ff" opacity="0.5"/><circle cx="593.2" cy="214.2" r="0.42" fill="#4a66ff" opacity="0.5"/><circle cx="593.4" cy="210.4" r="0.42" fill="#4a66ff" opacity="0.5"/><circle cx="592.7" cy="212.8" r="0.42" fill="#4a66ff" opacity="0.5"/><circle cx="599.8" cy="213.6" r="0.42" fill="#4a66ff" opacity="0.5"/><circle cx="598.5" cy="215.8" r="0.42" fill="#4a66ff" opacity="0.5"/><circle cx="601.2" cy="212.8" r="0.42" fill="#4a66ff" opacity="0.5"/><circle cx="601.7" cy="214.5" r="0.42" fill="#4a66ff" opacity="0.5"/><circle cx="581.2" cy="216.4" r="0.42" fill="#4a66ff" opacity="0.5"/><circle cx="578.7" cy="213.3" r="0.42" fill="#4a66ff" opacity="0.5"/><circle cx="581.8" cy="213.1" r="0.42" fill="#4a66ff" opacity="0.5"/><circle cx="577.6" cy="212.1" r="0.42" fill="#4a66ff" opacity="0.5"/><circle cx="599.1" cy="211.0" r="0.42" fill="#4a66ff" opacity="0.5"/><circle cx="578.5" cy="214.6" r="0.42" fill="#4a66ff" opacity="0.5"/><circle cx="586.6" cy="213.2" r="0.42" fill="#4a66ff" opacity="0.5"/><circle cx="580.7" cy="213.0" r="0.42" fill="#4a66ff" opacity="0.5"/><circle cx="594.7" cy="216.6" r="0.42" fill="#4a66ff" opacity="0.5"/><circle cx="578.2" cy="211.2" r="0.42" fill="#4a66ff" opacity="0.5"/><circle cx="589.6" cy="213.4" r="0.42" fill="#4a66ff" opacity="0.5"/><circle cx="594.8" cy="211.5" r="0.42" fill="#4a66ff" opacity="0.5"/><circle cx="580.3" cy="213.9" r="0.42" fill="#4a66ff" opacity="0.5"/><circle cx="575.9" cy="213.6" r="0.42" fill="#4a66ff" opacity="0.5"/><circle cx="590.9" cy="211.4" r="0.42" fill="#4a66ff" opacity="0.5"/><circle cx="579.1" cy="213.1" r="0.42" fill="#4a66ff" opacity="0.5"/><circle cx="580.2" cy="214.1" r="0.42" fill="#4a66ff" opacity="0.5"/><circle cx="603.7" cy="216.1" r="0.42" fill="#4a66ff" opacity="0.5"/><circle cx="601.9" cy="213.7" r="0.42" fill="#4a66ff" opacity="0.5"/><circle cx="602.6" cy="213.6" r="0.42" fill="#4a66ff" opacity="0.5"/><circle cx="588.3" cy="213.4" r="0.42" fill="#4a66ff" opacity="0.5"/><circle cx="588.4" cy="212.0" r="0.42" fill="#4a66ff" opacity="0.5"/><circle cx="589.8" cy="211.5" r="0.42" fill="#4a66ff" opacity="0.5"/><circle cx="575.2" cy="214.2" r="0.42" fill="#4a66ff" opacity="0.5"/><circle cx="595.3" cy="213.8" r="0.42" fill="#4a66ff" opacity="0.5"/><circle cx="588.1" cy="212.5" r="0.42" fill="#4a66ff" opacity="0.5"/><circle cx="596.4" cy="212.5" r="0.42" fill="#4a66ff" opacity="0.5"/><circle cx="579.6" cy="213.9" r="0.42" fill="#4a66ff" opacity="0.5"/><circle cx="589.8" cy="216.5" r="0.42" fill="#4a66ff" opacity="0.5"/><circle cx="598.2" cy="213.6" r="0.42" fill="#4a66ff" opacity="0.5"/><circle cx="595.4" cy="214.7" r="0.42" fill="#4a66ff" opacity="0.5"/><circle cx="586.6" cy="211.7" r="0.42" fill="#4a66ff" opacity="0.5"/><circle cx="592.3" cy="209.0" r="0.42" fill="#4a66ff" opacity="0.5"/><circle cx="598.3" cy="213.2" r="0.42" fill="#4a66ff" opacity="0.5"/><circle cx="582.3" cy="215.4" r="0.42" fill="#4a66ff" opacity="0.5"/><circle cx="597.5" cy="212.0" r="0.42" fill="#4a66ff" opacity="0.5"/><circle cx="598.6" cy="210.7" r="0.42" fill="#4a66ff" opacity="0.5"/><circle cx="600.5" cy="215.1" r="0.42" fill="#4a66ff" opacity="0.5"/><circle cx="595.1" cy="213.6" r="0.42" fill="#4a66ff" opacity="0.5"/><circle cx="586.6" cy="210.8" r="0.42" fill="#4a66ff" opacity="0.5"/><circle cx="595.9" cy="214.5" r="0.42" fill="#4a66ff" opacity="0.5"/><circle cx="588.5" cy="213.9" r="0.42" fill="#4a66ff" opacity="0.5"/><circle cx="575.1" cy="212.0" r="0.42" fill="#4a66ff" opacity="0.5"/><circle cx="593.0" cy="215.0" r="0.42" fill="#4a66ff" opacity="0.5"/><circle cx="581.6" cy="215.4" r="0.42" fill="#4a66ff" opacity="0.5"/><circle cx="584.7" cy="212.5" r="0.42" fill="#4a66ff" opacity="0.5"/><circle cx="594.1" cy="211.6" r="0.42" fill="#4a66ff" opacity="0.5"/><circle cx="586.2" cy="212.5" r="0.42" fill="#4a66ff" opacity="0.5"/><circle cx="604.0" cy="211.8" r="0.42" fill="#4a66ff" opacity="0.5"/><circle cx="597.0" cy="211.5" r="0.42" fill="#4a66ff" opacity="0.5"/><circle cx="603.4" cy="215.4" r="0.42" fill="#4a66ff" opacity="0.5"/><circle cx="596.4" cy="213.6" r="0.42" fill="#4a66ff" opacity="0.5"/><circle cx="582.3" cy="212.9" r="0.42" fill="#4a66ff" opacity="0.5"/><circle cx="580.5" cy="213.6" r="0.42" fill="#4a66ff" opacity="0.5"/><circle cx="585.8" cy="214.2" r="0.42" fill="#4a66ff" opacity="0.5"/><circle cx="601.2" cy="214.0" r="0.42" fill="#4a66ff" opacity="0.5"/><circle cx="590.9" cy="209.4" r="0.42" fill="#4a66ff" opacity="0.5"/><circle cx="591.4" cy="213.1" r="0.42" fill="#4a66ff" opacity="0.5"/><circle cx="603.9" cy="211.5" r="0.42" fill="#4a66ff" opacity="0.5"/><circle cx="577.0" cy="211.2" r="0.42" fill="#4a66ff" opacity="0.5"/><circle cx="592.2" cy="213.3" r="0.42" fill="#4a66ff" opacity="0.5"/><circle cx="602.0" cy="212.8" r="0.42" fill="#4a66ff" opacity="0.5"/><circle cx="579.5" cy="212.4" r="0.42" fill="#4a66ff" opacity="0.5"/><circle cx="589.3" cy="213.5" r="0.42" fill="#4a66ff" opacity="0.5"/><circle cx="592.6" cy="216.7" r="0.42" fill="#4a66ff" opacity="0.5"/><circle cx="587.1" cy="214.6" r="0.42" fill="#4a66ff" opacity="0.5"/><circle cx="590.2" cy="212.1" r="0.42" fill="#4a66ff" opacity="0.5"/><circle cx="583.1" cy="212.5" r="0.42" fill="#4a66ff" opacity="0.5"/><circle cx="593.9" cy="212.2" r="0.42" fill="#4a66ff" opacity="0.5"/><circle cx="595.7" cy="212.8" r="0.42" fill="#4a66ff" opacity="0.5"/><circle cx="583.4" cy="214.4" r="0.42" fill="#4a66ff" opacity="0.5"/><circle cx="576.0" cy="213.4" r="0.42" fill="#4a66ff" opacity="0.5"/><circle cx="579.4" cy="213.3" r="0.42" fill="#4a66ff" opacity="0.5"/><circle cx="601.0" cy="211.8" r="0.42" fill="#4a66ff" opacity="0.5"/><circle cx="596.7" cy="217.6" r="0.42" fill="#4a66ff" opacity="0.5"/><circle cx="602.4" cy="214.7" r="0.42" fill="#4a66ff" opacity="0.5"/><circle cx="576.9" cy="214.6" r="0.42" fill="#4a66ff" opacity="0.5"/><circle cx="588.7" cy="212.4" r="0.42" fill="#4a66ff" opacity="0.5"/><circle cx="603.2" cy="213.4" r="0.42" fill="#4a66ff" opacity="0.5"/><circle cx="602.2" cy="215.1" r="0.42" fill="#4a66ff" opacity="0.5"/><circle cx="595.9" cy="209.2" r="0.42" fill="#4a66ff" opacity="0.5"/><circle cx="598.6" cy="214.1" r="0.42" fill="#4a66ff" opacity="0.5"/><circle cx="592.4" cy="214.9" r="0.42" fill="#4a66ff" opacity="0.5"/><circle cx="588.1" cy="214.7" r="0.42" fill="#4a66ff" opacity="0.5"/><circle cx="580.7" cy="215.0" r="0.42" fill="#4a66ff" opacity="0.5"/><circle cx="578.4" cy="213.9" r="0.42" fill="#4a66ff" opacity="0.5"/><circle cx="587.7" cy="212.5" r="0.42" fill="#4a66ff" opacity="0.5"/><circle cx="582.5" cy="211.9" r="0.42" fill="#4a66ff" opacity="0.5"/><circle cx="591.8" cy="211.0" r="0.42" fill="#4a66ff" opacity="0.5"/><circle cx="590.3" cy="214.6" r="0.42" fill="#4a66ff" opacity="0.5"/><circle cx="603.9" cy="215.6" r="0.42" fill="#4a66ff" opacity="0.5"/><circle cx="581.8" cy="212.6" r="0.42" fill="#4a66ff" opacity="0.5"/><circle cx="578.1" cy="215.4" r="0.42" fill="#4a66ff" opacity="0.5"/><circle cx="593.0" cy="211.7" r="0.42" fill="#4a66ff" opacity="0.5"/><ellipse cx="590.6" cy="213.3" rx="13.4" ry="3.5" fill="#4462ff" opacity="0.85" filter="url(#bl)"/><ellipse cx="594.6" cy="213.6" rx="4.4" ry="1.5" fill="#3c9cff" opacity="0.8" filter="url(#bl)"/><ellipse cx="570.8" cy="212.9" rx="15.5" ry="5.1" fill="#3452ff" filter="url(#bl)"/><ellipse cx="569.8" cy="213.3" rx="12.5" ry="3.7" fill="#2ab6f0" filter="url(#bl)"/><ellipse cx="569.8" cy="213.6" rx="9.5" ry="2.5" fill="#44da64" filter="url(#bl2)"/><ellipse cx="568.8" cy="213.6" rx="4.0" ry="0.9" fill="#a6e052" opacity="0.85" filter="url(#bl2)"/></g>
<rect x="582.20" y="204.00" width="35.30" height="14.70" fill="none" stroke="#555" stroke-width="0.6" />
<rect x="584.00" y="196.50" width="24.20" height="5.90" fill="#fff" stroke="#999" stroke-width="0.45" rx="0.9"/>
<text x="596.10" y="201.05" font-size="4.5" stroke="#111" stroke-width="0.108" text-anchor="middle" fill="#111" textLength="22.20" lengthAdjust="spacingAndGlyphs" >CD4+ CCR4+</text>
<text x="613.80" y="200.70" font-size="7.0" fill="#1a1a1a" textLength="18.60" lengthAdjust="spacingAndGlyphs" stroke="#1a1a1a" stroke-width="0.12">12.20%</text>
<text x="594.50" y="160.20" font-size="7.4" text-anchor="middle" fill="#1a1a1a" textLength="71.90" lengthAdjust="spacingAndGlyphs" stroke="#1a1a1a" stroke-width="0.2">arteriosclerosis diet (AD)</text>
<line x1="454.20" y1="309.40" x2="455.90" y2="309.40" stroke="#333" stroke-width="0.45" />
<text x="453.80" y="310.55" font-size="3.2" stroke="#333" stroke-width="0.077" text-anchor="end" fill="#333" >0</text>
<line x1="455.00" y1="306.24" x2="455.90" y2="306.24" stroke="#666" stroke-width="0.35" />
<line x1="455.00" y1="303.07" x2="455.90" y2="303.07" stroke="#666" stroke-width="0.35" />
<line x1="455.00" y1="299.91" x2="455.90" y2="299.91" stroke="#666" stroke-width="0.35" />
<line x1="455.00" y1="296.74" x2="455.90" y2="296.74" stroke="#666" stroke-width="0.35" />
<line x1="454.20" y1="293.58" x2="455.90" y2="293.58" stroke="#333" stroke-width="0.45" />
<text x="453.80" y="294.73" font-size="3.2" stroke="#333" stroke-width="0.077" text-anchor="end" fill="#333" >50</text>
<line x1="455.00" y1="290.42" x2="455.90" y2="290.42" stroke="#666" stroke-width="0.35" />
<line x1="455.00" y1="287.25" x2="455.90" y2="287.25" stroke="#666" stroke-width="0.35" />
<line x1="455.00" y1="284.09" x2="455.90" y2="284.09" stroke="#666" stroke-width="0.35" />
<line x1="455.00" y1="280.92" x2="455.90" y2="280.92" stroke="#666" stroke-width="0.35" />
<line x1="454.20" y1="277.76" x2="455.90" y2="277.76" stroke="#333" stroke-width="0.45" />
<text x="453.80" y="278.91" font-size="3.2" stroke="#333" stroke-width="0.077" text-anchor="end" fill="#333" >100</text>
<line x1="455.00" y1="274.60" x2="455.90" y2="274.60" stroke="#666" stroke-width="0.35" />
<line x1="455.00" y1="271.43" x2="455.90" y2="271.43" stroke="#666" stroke-width="0.35" />
<line x1="455.00" y1="268.27" x2="455.90" y2="268.27" stroke="#666" stroke-width="0.35" />
<line x1="455.00" y1="265.10" x2="455.90" y2="265.10" stroke="#666" stroke-width="0.35" />
<line x1="454.20" y1="261.94" x2="455.90" y2="261.94" stroke="#333" stroke-width="0.45" />
<text x="453.80" y="263.09" font-size="3.2" stroke="#333" stroke-width="0.077" text-anchor="end" fill="#333" >150</text>
<line x1="455.00" y1="258.78" x2="455.90" y2="258.78" stroke="#666" stroke-width="0.35" />
<line x1="455.00" y1="255.61" x2="455.90" y2="255.61" stroke="#666" stroke-width="0.35" />
<line x1="455.00" y1="252.45" x2="455.90" y2="252.45" stroke="#666" stroke-width="0.35" />
<line x1="455.00" y1="249.28" x2="455.90" y2="249.28" stroke="#666" stroke-width="0.35" />
<line x1="454.20" y1="246.12" x2="455.90" y2="246.12" stroke="#333" stroke-width="0.45" />
<text x="453.80" y="247.27" font-size="3.2" stroke="#333" stroke-width="0.077" text-anchor="end" fill="#333" >200</text>
<line x1="455.00" y1="242.96" x2="455.90" y2="242.96" stroke="#666" stroke-width="0.35" />
<line x1="455.00" y1="239.79" x2="455.90" y2="239.79" stroke="#666" stroke-width="0.35" />
<line x1="455.00" y1="236.63" x2="455.90" y2="236.63" stroke="#666" stroke-width="0.35" />
<line x1="455.00" y1="233.46" x2="455.90" y2="233.46" stroke="#666" stroke-width="0.35" />
<line x1="454.20" y1="230.30" x2="455.90" y2="230.30" stroke="#333" stroke-width="0.45" />
<text x="453.80" y="231.45" font-size="3.2" stroke="#333" stroke-width="0.077" text-anchor="end" fill="#333" >250</text>
<text x="446.30" y="239.60" font-size="3.1" stroke="#333" stroke-width="0.074" text-anchor="middle" fill="#333" transform="rotate(-90 446.30 239.60)" >(x 10&#179;)</text>
<line x1="458.40" y1="309.70" x2="458.40" y2="311.20" stroke="#333" stroke-width="0.45" />
<text x="458.40" y="314.10" font-size="3.1" stroke="#333" stroke-width="0.074" text-anchor="middle" fill="#333" >-200</text>
<line x1="467.20" y1="309.70" x2="467.20" y2="311.20" stroke="#333" stroke-width="0.45" />
<text x="467.20" y="314.10" font-size="3.1" stroke="#333" stroke-width="0.074" text-anchor="middle" fill="#333" >0</text>
<line x1="476.40" y1="309.70" x2="476.40" y2="311.20" stroke="#333" stroke-width="0.45" />
<text x="476.40" y="314.10" font-size="3.1" stroke="#333" stroke-width="0.074" text-anchor="middle" fill="#333" >200</text>
<line x1="491.30" y1="309.70" x2="491.30" y2="311.20" stroke="#333" stroke-width="0.45" />
<text x="491.30" y="314.10" font-size="3.1" stroke="#333" stroke-width="0.074" text-anchor="middle" fill="#333" >10&#179;</text>
<line x1="510.20" y1="309.70" x2="510.20" y2="311.20" stroke="#333" stroke-width="0.45" />
<text x="510.20" y="314.10" font-size="3.1" stroke="#333" stroke-width="0.074" text-anchor="middle" fill="#333" >10&#8308;</text>
<line x1="529.00" y1="309.70" x2="529.00" y2="311.20" stroke="#333" stroke-width="0.45" />
<text x="529.00" y="314.10" font-size="3.1" stroke="#333" stroke-width="0.074" text-anchor="middle" fill="#333" >10&#8309;</text>
<line x1="478.20" y1="309.70" x2="478.20" y2="310.50" stroke="#777" stroke-width="0.3" />
<line x1="480.00" y1="309.70" x2="480.00" y2="310.50" stroke="#777" stroke-width="0.3" />
<line x1="481.80" y1="309.70" x2="481.80" y2="310.50" stroke="#777" stroke-width="0.3" />
<line x1="483.60" y1="309.70" x2="483.60" y2="310.50" stroke="#777" stroke-width="0.3" />
<line x1="485.40" y1="309.70" x2="485.40" y2="310.50" stroke="#777" stroke-width="0.3" />
<line x1="487.20" y1="309.70" x2="487.20" y2="310.50" stroke="#777" stroke-width="0.3" />
<line x1="489.00" y1="309.70" x2="489.00" y2="310.50" stroke="#777" stroke-width="0.3" />
<line x1="490.80" y1="309.70" x2="490.80" y2="310.50" stroke="#777" stroke-width="0.3" />
<line x1="492.60" y1="309.70" x2="492.60" y2="310.50" stroke="#777" stroke-width="0.3" />
<line x1="494.40" y1="309.70" x2="494.40" y2="310.50" stroke="#777" stroke-width="0.3" />
<line x1="496.20" y1="309.70" x2="496.20" y2="310.50" stroke="#777" stroke-width="0.3" />
<line x1="498.00" y1="309.70" x2="498.00" y2="310.50" stroke="#777" stroke-width="0.3" />
<line x1="499.80" y1="309.70" x2="499.80" y2="310.50" stroke="#777" stroke-width="0.3" />
<line x1="501.60" y1="309.70" x2="501.60" y2="310.50" stroke="#777" stroke-width="0.3" />
<line x1="503.40" y1="309.70" x2="503.40" y2="310.50" stroke="#777" stroke-width="0.3" />
<line x1="505.20" y1="309.70" x2="505.20" y2="310.50" stroke="#777" stroke-width="0.3" />
<line x1="507.00" y1="309.70" x2="507.00" y2="310.50" stroke="#777" stroke-width="0.3" />
<line x1="508.80" y1="309.70" x2="508.80" y2="310.50" stroke="#777" stroke-width="0.3" />
<line x1="510.60" y1="309.70" x2="510.60" y2="310.50" stroke="#777" stroke-width="0.3" />
<line x1="512.40" y1="309.70" x2="512.40" y2="310.50" stroke="#777" stroke-width="0.3" />
<line x1="514.20" y1="309.70" x2="514.20" y2="310.50" stroke="#777" stroke-width="0.3" />
<line x1="516.00" y1="309.70" x2="516.00" y2="310.50" stroke="#777" stroke-width="0.3" />
<line x1="517.80" y1="309.70" x2="517.80" y2="310.50" stroke="#777" stroke-width="0.3" />
<line x1="519.60" y1="309.70" x2="519.60" y2="310.50" stroke="#777" stroke-width="0.3" />
<line x1="521.40" y1="309.70" x2="521.40" y2="310.50" stroke="#777" stroke-width="0.3" />
<line x1="523.20" y1="309.70" x2="523.20" y2="310.50" stroke="#777" stroke-width="0.3" />
<line x1="525.00" y1="309.70" x2="525.00" y2="310.50" stroke="#777" stroke-width="0.3" />
<line x1="526.80" y1="309.70" x2="526.80" y2="310.50" stroke="#777" stroke-width="0.3" />
<line x1="528.60" y1="309.70" x2="528.60" y2="310.50" stroke="#777" stroke-width="0.3" />
<rect x="455.90" y="227.10" width="79.70" height="82.60" fill="none" stroke="#777" stroke-width="0.6" />
<g><circle cx="485.1" cy="302.7" r="0.42" fill="#4a66ff" opacity="0.5"/><circle cx="490.9" cy="305.3" r="0.42" fill="#4a66ff" opacity="0.5"/><circle cx="491.6" cy="301.3" r="0.42" fill="#4a66ff" opacity="0.5"/><circle cx="480.4" cy="301.1" r="0.42" fill="#4a66ff" opacity="0.5"/><circle cx="482.0" cy="306.3" r="0.42" fill="#4a66ff" opacity="0.5"/><circle cx="499.6" cy="302.6" r="0.42" fill="#4a66ff" opacity="0.5"/><circle cx="476.2" cy="304.1" r="0.42" fill="#4a66ff" opacity="0.5"/><circle cx="487.0" cy="303.4" r="0.42" fill="#4a66ff" opacity="0.5"/><circle cx="492.5" cy="304.5" r="0.42" fill="#4a66ff" opacity="0.5"/><circle cx="477.1" cy="304.1" r="0.42" fill="#4a66ff" opacity="0.5"/><circle cx="477.5" cy="302.2" r="0.42" fill="#4a66ff" opacity="0.5"/><circle cx="492.7" cy="301.3" r="0.42" fill="#4a66ff" opacity="0.5"/><circle cx="485.5" cy="302.0" r="0.42" fill="#4a66ff" opacity="0.5"/><circle cx="484.7" cy="303.1" r="0.42" fill="#4a66ff" opacity="0.5"/><circle cx="495.9" cy="303.3" r="0.42" fill="#4a66ff" opacity="0.5"/><circle cx="478.4" cy="302.5" r="0.42" fill="#4a66ff" opacity="0.5"/><circle cx="497.7" cy="301.2" r="0.42" fill="#4a66ff" opacity="0.5"/><circle cx="481.0" cy="301.2" r="0.42" fill="#4a66ff" opacity="0.5"/><circle cx="486.9" cy="302.9" r="0.42" fill="#4a66ff" opacity="0.5"/><circle cx="485.4" cy="305.7" r="0.42" fill="#4a66ff" opacity="0.5"/><circle cx="493.3" cy="304.3" r="0.42" fill="#4a66ff" opacity="0.5"/><circle cx="490.4" cy="302.9" r="0.42" fill="#4a66ff" opacity="0.5"/><circle cx="495.9" cy="304.4" r="0.42" fill="#4a66ff" opacity="0.5"/><circle cx="485.4" cy="302.2" r="0.42" fill="#4a66ff" opacity="0.5"/><circle cx="477.8" cy="303.4" r="0.42" fill="#4a66ff" opacity="0.5"/><circle cx="477.4" cy="302.6" r="0.42" fill="#4a66ff" opacity="0.5"/><circle cx="490.8" cy="300.7" r="0.42" fill="#4a66ff" opacity="0.5"/><circle cx="483.4" cy="303.2" r="0.42" fill="#4a66ff" opacity="0.5"/><circle cx="496.7" cy="303.9" r="0.42" fill="#4a66ff" opacity="0.5"/><circle cx="493.6" cy="303.5" r="0.42" fill="#4a66ff" opacity="0.5"/><circle cx="477.4" cy="302.2" r="0.42" fill="#4a66ff" opacity="0.5"/><circle cx="494.5" cy="305.3" r="0.42" fill="#4a66ff" opacity="0.5"/><circle cx="483.0" cy="303.9" r="0.42" fill="#4a66ff" opacity="0.5"/><circle cx="495.4" cy="304.1" r="0.42" fill="#4a66ff" opacity="0.5"/><circle cx="485.3" cy="304.7" r="0.42" fill="#4a66ff" opacity="0.5"/><circle cx="491.0" cy="304.6" r="0.42" fill="#4a66ff" opacity="0.5"/><circle cx="500.7" cy="306.1" r="0.42" fill="#4a66ff" opacity="0.5"/><circle cx="487.3" cy="301.8" r="0.42" fill="#4a66ff" opacity="0.5"/><circle cx="497.5" cy="302.6" r="0.42" fill="#4a66ff" opacity="0.5"/><circle cx="486.2" cy="304.2" r="0.42" fill="#4a66ff" opacity="0.5"/><circle cx="501.2" cy="303.9" r="0.42" fill="#4a66ff" opacity="0.5"/><circle cx="485.2" cy="302.3" r="0.42" fill="#4a66ff" opacity="0.5"/><circle cx="485.3" cy="302.0" r="0.42" fill="#4a66ff" opacity="0.5"/><circle cx="485.9" cy="304.1" r="0.42" fill="#4a66ff" opacity="0.5"/><circle cx="480.5" cy="300.5" r="0.42" fill="#4a66ff" opacity="0.5"/><circle cx="490.2" cy="302.0" r="0.42" fill="#4a66ff" opacity="0.5"/><circle cx="498.4" cy="302.1" r="0.42" fill="#4a66ff" opacity="0.5"/><circle cx="496.3" cy="302.6" r="0.42" fill="#4a66ff" opacity="0.5"/><circle cx="499.7" cy="302.9" r="0.42" fill="#4a66ff" opacity="0.5"/><circle cx="489.5" cy="303.3" r="0.42" fill="#4a66ff" opacity="0.5"/><circle cx="490.3" cy="299.4" r="0.42" fill="#4a66ff" opacity="0.5"/><circle cx="493.3" cy="301.4" r="0.42" fill="#4a66ff" opacity="0.5"/><circle cx="497.5" cy="304.7" r="0.42" fill="#4a66ff" opacity="0.5"/><circle cx="497.1" cy="303.7" r="0.42" fill="#4a66ff" opacity="0.5"/><circle cx="477.4" cy="305.1" r="0.42" fill="#4a66ff" opacity="0.5"/><circle cx="500.2" cy="304.2" r="0.42" fill="#4a66ff" opacity="0.5"/><circle cx="477.5" cy="302.4" r="0.42" fill="#4a66ff" opacity="0.5"/><circle cx="495.9" cy="302.4" r="0.42" fill="#4a66ff" opacity="0.5"/><circle cx="493.2" cy="303.0" r="0.42" fill="#4a66ff" opacity="0.5"/><circle cx="496.5" cy="304.1" r="0.42" fill="#4a66ff" opacity="0.5"/><circle cx="489.7" cy="303.1" r="0.42" fill="#4a66ff" opacity="0.5"/><circle cx="484.5" cy="301.5" r="0.42" fill="#4a66ff" opacity="0.5"/><circle cx="502.1" cy="302.2" r="0.42" fill="#4a66ff" opacity="0.5"/><circle cx="490.1" cy="301.5" r="0.42" fill="#4a66ff" opacity="0.5"/><circle cx="495.2" cy="302.1" r="0.42" fill="#4a66ff" opacity="0.5"/><circle cx="486.6" cy="299.8" r="0.42" fill="#4a66ff" opacity="0.5"/><circle cx="498.2" cy="301.5" r="0.42" fill="#4a66ff" opacity="0.5"/><circle cx="497.6" cy="300.5" r="0.42" fill="#4a66ff" opacity="0.5"/><circle cx="498.4" cy="305.9" r="0.42" fill="#4a66ff" opacity="0.5"/><circle cx="493.0" cy="300.6" r="0.42" fill="#4a66ff" opacity="0.5"/><circle cx="489.7" cy="302.3" r="0.42" fill="#4a66ff" opacity="0.5"/><circle cx="486.9" cy="300.4" r="0.42" fill="#4a66ff" opacity="0.5"/><circle cx="486.8" cy="304.5" r="0.42" fill="#4a66ff" opacity="0.5"/><circle cx="502.7" cy="305.0" r="0.42" fill="#4a66ff" opacity="0.5"/><circle cx="485.6" cy="303.5" r="0.42" fill="#4a66ff" opacity="0.5"/><circle cx="487.0" cy="303.9" r="0.42" fill="#4a66ff" opacity="0.5"/><circle cx="483.2" cy="303.5" r="0.42" fill="#4a66ff" opacity="0.5"/><circle cx="483.7" cy="302.9" r="0.42" fill="#4a66ff" opacity="0.5"/><circle cx="478.3" cy="301.4" r="0.42" fill="#4a66ff" opacity="0.5"/><circle cx="480.1" cy="300.9" r="0.42" fill="#4a66ff" opacity="0.5"/><circle cx="476.8" cy="301.1" r="0.42" fill="#4a66ff" opacity="0.5"/><circle cx="500.5" cy="303.5" r="0.42" fill="#4a66ff" opacity="0.5"/><circle cx="476.1" cy="303.7" r="0.42" fill="#4a66ff" opacity="0.5"/><circle cx="481.2" cy="303.6" r="0.42" fill="#4a66ff" opacity="0.5"/><circle cx="481.7" cy="302.6" r="0.42" fill="#4a66ff" opacity="0.5"/><circle cx="481.3" cy="301.0" r="0.42" fill="#4a66ff" opacity="0.5"/><circle cx="480.3" cy="302.8" r="0.42" fill="#4a66ff" opacity="0.5"/><circle cx="496.2" cy="303.9" r="0.42" fill="#4a66ff" opacity="0.5"/><circle cx="483.8" cy="300.4" r="0.42" fill="#4a66ff" opacity="0.5"/><circle cx="488.5" cy="302.2" r="0.42" fill="#4a66ff" opacity="0.5"/><circle cx="482.4" cy="305.5" r="0.42" fill="#4a66ff" opacity="0.5"/><circle cx="484.6" cy="300.8" r="0.42" fill="#4a66ff" opacity="0.5"/><circle cx="490.4" cy="304.7" r="0.42" fill="#4a66ff" opacity="0.5"/><circle cx="481.3" cy="302.5" r="0.42" fill="#4a66ff" opacity="0.5"/><circle cx="476.5" cy="305.6" r="0.42" fill="#4a66ff" opacity="0.5"/><circle cx="485.8" cy="302.1" r="0.42" fill="#4a66ff" opacity="0.5"/><circle cx="489.8" cy="301.8" r="0.42" fill="#4a66ff" opacity="0.5"/><circle cx="502.7" cy="302.9" r="0.42" fill="#4a66ff" opacity="0.5"/><circle cx="493.4" cy="303.0" r="0.42" fill="#4a66ff" opacity="0.5"/><circle cx="488.3" cy="303.2" r="0.42" fill="#4a66ff" opacity="0.5"/><circle cx="485.5" cy="303.7" r="0.42" fill="#4a66ff" opacity="0.5"/><circle cx="492.0" cy="300.7" r="0.42" fill="#4a66ff" opacity="0.5"/><circle cx="479.5" cy="303.7" r="0.42" fill="#4a66ff" opacity="0.5"/><circle cx="482.3" cy="304.1" r="0.42" fill="#4a66ff" opacity="0.5"/><circle cx="499.4" cy="300.9" r="0.42" fill="#4a66ff" opacity="0.5"/><circle cx="502.8" cy="302.8" r="0.42" fill="#4a66ff" opacity="0.5"/><circle cx="482.5" cy="302.2" r="0.42" fill="#4a66ff" opacity="0.5"/><circle cx="496.6" cy="302.8" r="0.42" fill="#4a66ff" opacity="0.5"/><circle cx="475.1" cy="304.3" r="0.42" fill="#4a66ff" opacity="0.5"/><circle cx="498.0" cy="300.4" r="0.42" fill="#4a66ff" opacity="0.5"/><circle cx="477.4" cy="302.7" r="0.42" fill="#4a66ff" opacity="0.5"/><circle cx="477.8" cy="305.4" r="0.42" fill="#4a66ff" opacity="0.5"/><circle cx="488.5" cy="299.3" r="0.42" fill="#4a66ff" opacity="0.5"/><circle cx="491.5" cy="303.7" r="0.42" fill="#4a66ff" opacity="0.5"/><circle cx="499.0" cy="302.1" r="0.42" fill="#4a66ff" opacity="0.5"/><circle cx="486.7" cy="305.5" r="0.42" fill="#4a66ff" opacity="0.5"/><circle cx="500.7" cy="305.4" r="0.42" fill="#4a66ff" opacity="0.5"/><circle cx="480.9" cy="304.5" r="0.42" fill="#4a66ff" opacity="0.5"/><circle cx="490.3" cy="302.1" r="0.42" fill="#4a66ff" opacity="0.5"/><circle cx="498.3" cy="302.9" r="0.42" fill="#4a66ff" opacity="0.5"/><circle cx="483.8" cy="302.8" r="0.42" fill="#4a66ff" opacity="0.5"/><circle cx="483.6" cy="303.6" r="0.42" fill="#4a66ff" opacity="0.5"/><circle cx="488.1" cy="302.7" r="0.42" fill="#4a66ff" opacity="0.5"/><circle cx="494.3" cy="301.6" r="0.42" fill="#4a66ff" opacity="0.5"/><circle cx="478.1" cy="301.7" r="0.42" fill="#4a66ff" opacity="0.5"/><circle cx="502.1" cy="304.0" r="0.42" fill="#4a66ff" opacity="0.5"/><circle cx="498.2" cy="302.9" r="0.42" fill="#4a66ff" opacity="0.5"/><circle cx="485.6" cy="302.8" r="0.42" fill="#4a66ff" opacity="0.5"/><circle cx="494.9" cy="303.2" r="0.42" fill="#4a66ff" opacity="0.5"/><circle cx="487.9" cy="304.9" r="0.42" fill="#4a66ff" opacity="0.5"/><circle cx="475.4" cy="305.7" r="0.42" fill="#4a66ff" opacity="0.5"/><circle cx="480.9" cy="302.9" r="0.42" fill="#4a66ff" opacity="0.5"/><circle cx="492.3" cy="302.6" r="0.42" fill="#4a66ff" opacity="0.5"/><circle cx="490.2" cy="304.4" r="0.42" fill="#4a66ff" opacity="0.5"/><circle cx="483.4" cy="302.2" r="0.42" fill="#4a66ff" opacity="0.5"/><circle cx="493.7" cy="304.3" r="0.42" fill="#4a66ff" opacity="0.5"/><circle cx="482.3" cy="303.8" r="0.42" fill="#4a66ff" opacity="0.5"/><circle cx="484.3" cy="305.3" r="0.42" fill="#4a66ff" opacity="0.5"/><circle cx="501.5" cy="300.8" r="0.42" fill="#4a66ff" opacity="0.5"/><circle cx="484.4" cy="302.1" r="0.42" fill="#4a66ff" opacity="0.5"/><circle cx="498.2" cy="303.7" r="0.42" fill="#4a66ff" opacity="0.5"/><circle cx="477.7" cy="303.5" r="0.42" fill="#4a66ff" opacity="0.5"/><circle cx="494.0" cy="302.8" r="0.42" fill="#4a66ff" opacity="0.5"/><circle cx="486.3" cy="302.1" r="0.42" fill="#4a66ff" opacity="0.5"/><circle cx="498.5" cy="302.5" r="0.42" fill="#4a66ff" opacity="0.5"/><circle cx="481.4" cy="302.6" r="0.42" fill="#4a66ff" opacity="0.5"/><circle cx="479.5" cy="304.1" r="0.42" fill="#4a66ff" opacity="0.5"/><circle cx="477.1" cy="304.1" r="0.42" fill="#4a66ff" opacity="0.5"/><circle cx="500.8" cy="301.4" r="0.42" fill="#4a66ff" opacity="0.5"/><circle cx="493.2" cy="303.8" r="0.42" fill="#4a66ff" opacity="0.5"/><ellipse cx="490.1" cy="303.0" rx="12.8" ry="3.5" fill="#4462ff" opacity="0.85" filter="url(#bl)"/><ellipse cx="494.1" cy="303.3" rx="3.8" ry="1.5" fill="#3c9cff" opacity="0.8" filter="url(#bl)"/><ellipse cx="471.1" cy="302.6" rx="15.5" ry="5.1" fill="#3452ff" filter="url(#bl)"/><ellipse cx="470.1" cy="303.0" rx="12.5" ry="3.7" fill="#2ab6f0" filter="url(#bl)"/><ellipse cx="470.1" cy="303.3" rx="9.5" ry="2.5" fill="#44da64" filter="url(#bl2)"/><ellipse cx="469.1" cy="303.3" rx="4.0" ry="0.9" fill="#a6e052" opacity="0.85" filter="url(#bl2)"/></g>
<rect x="482.30" y="293.80" width="34.30" height="15.40" fill="none" stroke="#555" stroke-width="0.6" />
<rect x="482.90" y="287.30" width="25.10" height="5.90" fill="#fff" stroke="#999" stroke-width="0.45" rx="0.9"/>
<text x="495.45" y="291.85" font-size="4.5" stroke="#111" stroke-width="0.108" text-anchor="middle" fill="#111" textLength="23.10" lengthAdjust="spacingAndGlyphs" >CD4+ CCR4+</text>
<text x="513.00" y="290.00" font-size="7.0" fill="#1a1a1a" textLength="16.50" lengthAdjust="spacingAndGlyphs" stroke="#1a1a1a" stroke-width="0.12">8.54%</text>
<text x="496.30" y="253.30" font-size="7.4" text-anchor="middle" fill="#1a1a1a" textLength="52.50" lengthAdjust="spacingAndGlyphs" stroke="#1a1a1a" stroke-width="0.2">&#937;-3-rich diet (OD)</text>
<line x1="555.50" y1="309.40" x2="557.20" y2="309.40" stroke="#333" stroke-width="0.45" />
<text x="555.10" y="310.55" font-size="3.2" stroke="#333" stroke-width="0.077" text-anchor="end" fill="#333" >0</text>
<line x1="556.30" y1="306.25" x2="557.20" y2="306.25" stroke="#666" stroke-width="0.35" />
<line x1="556.30" y1="303.10" x2="557.20" y2="303.10" stroke="#666" stroke-width="0.35" />
<line x1="556.30" y1="299.94" x2="557.20" y2="299.94" stroke="#666" stroke-width="0.35" />
<line x1="556.30" y1="296.79" x2="557.20" y2="296.79" stroke="#666" stroke-width="0.35" />
<line x1="555.50" y1="293.64" x2="557.20" y2="293.64" stroke="#333" stroke-width="0.45" />
<text x="555.10" y="294.79" font-size="3.2" stroke="#333" stroke-width="0.077" text-anchor="end" fill="#333" >50</text>
<line x1="556.30" y1="290.49" x2="557.20" y2="290.49" stroke="#666" stroke-width="0.35" />
<line x1="556.30" y1="287.34" x2="557.20" y2="287.34" stroke="#666" stroke-width="0.35" />
<line x1="556.30" y1="284.18" x2="557.20" y2="284.18" stroke="#666" stroke-width="0.35" />
<line x1="556.30" y1="281.03" x2="557.20" y2="281.03" stroke="#666" stroke-width="0.35" />
<line x1="555.50" y1="277.88" x2="557.20" y2="277.88" stroke="#333" stroke-width="0.45" />
<text x="555.10" y="279.03" font-size="3.2" stroke="#333" stroke-width="0.077" text-anchor="end" fill="#333" >100</text>
<line x1="556.30" y1="274.73" x2="557.20" y2="274.73" stroke="#666" stroke-width="0.35" />
<line x1="556.30" y1="271.58" x2="557.20" y2="271.58" stroke="#666" stroke-width="0.35" />
<line x1="556.30" y1="268.42" x2="557.20" y2="268.42" stroke="#666" stroke-width="0.35" />
<line x1="556.30" y1="265.27" x2="557.20" y2="265.27" stroke="#666" stroke-width="0.35" />
<line x1="555.50" y1="262.12" x2="557.20" y2="262.12" stroke="#333" stroke-width="0.45" />
<text x="555.10" y="263.27" font-size="3.2" stroke="#333" stroke-width="0.077" text-anchor="end" fill="#333" >150</text>
<line x1="556.30" y1="258.97" x2="557.20" y2="258.97" stroke="#666" stroke-width="0.35" />
<line x1="556.30" y1="255.82" x2="557.20" y2="255.82" stroke="#666" stroke-width="0.35" />
<line x1="556.30" y1="252.66" x2="557.20" y2="252.66" stroke="#666" stroke-width="0.35" />
<line x1="556.30" y1="249.51" x2="557.20" y2="249.51" stroke="#666" stroke-width="0.35" />
<line x1="555.50" y1="246.36" x2="557.20" y2="246.36" stroke="#333" stroke-width="0.45" />
<text x="555.10" y="247.51" font-size="3.2" stroke="#333" stroke-width="0.077" text-anchor="end" fill="#333" >200</text>
<line x1="556.30" y1="243.21" x2="557.20" y2="243.21" stroke="#666" stroke-width="0.35" />
<line x1="556.30" y1="240.06" x2="557.20" y2="240.06" stroke="#666" stroke-width="0.35" />
<line x1="556.30" y1="236.90" x2="557.20" y2="236.90" stroke="#666" stroke-width="0.35" />
<line x1="556.30" y1="233.75" x2="557.20" y2="233.75" stroke="#666" stroke-width="0.35" />
<line x1="555.50" y1="230.60" x2="557.20" y2="230.60" stroke="#333" stroke-width="0.45" />
<text x="555.10" y="231.75" font-size="3.2" stroke="#333" stroke-width="0.077" text-anchor="end" fill="#333" >250</text>
<text x="547.60" y="239.90" font-size="3.1" stroke="#333" stroke-width="0.074" text-anchor="middle" fill="#333" transform="rotate(-90 547.60 239.90)" >(x 10&#179;)</text>
<line x1="559.70" y1="309.70" x2="559.70" y2="311.20" stroke="#333" stroke-width="0.45" />
<text x="559.70" y="314.10" font-size="3.1" stroke="#333" stroke-width="0.074" text-anchor="middle" fill="#333" >-200</text>
<line x1="568.50" y1="309.70" x2="568.50" y2="311.20" stroke="#333" stroke-width="0.45" />
<text x="568.50" y="314.10" font-size="3.1" stroke="#333" stroke-width="0.074" text-anchor="middle" fill="#333" >0</text>
<line x1="577.70" y1="309.70" x2="577.70" y2="311.20" stroke="#333" stroke-width="0.45" />
<text x="577.70" y="314.10" font-size="3.1" stroke="#333" stroke-width="0.074" text-anchor="middle" fill="#333" >200</text>
<line x1="592.60" y1="309.70" x2="592.60" y2="311.20" stroke="#333" stroke-width="0.45" />
<text x="592.60" y="314.10" font-size="3.1" stroke="#333" stroke-width="0.074" text-anchor="middle" fill="#333" >10&#179;</text>
<line x1="611.50" y1="309.70" x2="611.50" y2="311.20" stroke="#333" stroke-width="0.45" />
<text x="611.50" y="314.10" font-size="3.1" stroke="#333" stroke-width="0.074" text-anchor="middle" fill="#333" >10&#8308;</text>
<line x1="630.30" y1="309.70" x2="630.30" y2="311.20" stroke="#333" stroke-width="0.45" />
<text x="630.30" y="314.10" font-size="3.1" stroke="#333" stroke-width="0.074" text-anchor="middle" fill="#333" >10&#8309;</text>
<line x1="579.50" y1="309.70" x2="579.50" y2="310.50" stroke="#777" stroke-width="0.3" />
<line x1="581.30" y1="309.70" x2="581.30" y2="310.50" stroke="#777" stroke-width="0.3" />
<line x1="583.10" y1="309.70" x2="583.10" y2="310.50" stroke="#777" stroke-width="0.3" />
<line x1="584.90" y1="309.70" x2="584.90" y2="310.50" stroke="#777" stroke-width="0.3" />
<line x1="586.70" y1="309.70" x2="586.70" y2="310.50" stroke="#777" stroke-width="0.3" />
<line x1="588.50" y1="309.70" x2="588.50" y2="310.50" stroke="#777" stroke-width="0.3" />
<line x1="590.30" y1="309.70" x2="590.30" y2="310.50" stroke="#777" stroke-width="0.3" />
<line x1="592.10" y1="309.70" x2="592.10" y2="310.50" stroke="#777" stroke-width="0.3" />
<line x1="593.90" y1="309.70" x2="593.90" y2="310.50" stroke="#777" stroke-width="0.3" />
<line x1="595.70" y1="309.70" x2="595.70" y2="310.50" stroke="#777" stroke-width="0.3" />
<line x1="597.50" y1="309.70" x2="597.50" y2="310.50" stroke="#777" stroke-width="0.3" />
<line x1="599.30" y1="309.70" x2="599.30" y2="310.50" stroke="#777" stroke-width="0.3" />
<line x1="601.10" y1="309.70" x2="601.10" y2="310.50" stroke="#777" stroke-width="0.3" />
<line x1="602.90" y1="309.70" x2="602.90" y2="310.50" stroke="#777" stroke-width="0.3" />
<line x1="604.70" y1="309.70" x2="604.70" y2="310.50" stroke="#777" stroke-width="0.3" />
<line x1="606.50" y1="309.70" x2="606.50" y2="310.50" stroke="#777" stroke-width="0.3" />
<line x1="608.30" y1="309.70" x2="608.30" y2="310.50" stroke="#777" stroke-width="0.3" />
<line x1="610.10" y1="309.70" x2="610.10" y2="310.50" stroke="#777" stroke-width="0.3" />
<line x1="611.90" y1="309.70" x2="611.90" y2="310.50" stroke="#777" stroke-width="0.3" />
<line x1="613.70" y1="309.70" x2="613.70" y2="310.50" stroke="#777" stroke-width="0.3" />
<line x1="615.50" y1="309.70" x2="615.50" y2="310.50" stroke="#777" stroke-width="0.3" />
<line x1="617.30" y1="309.70" x2="617.30" y2="310.50" stroke="#777" stroke-width="0.3" />
<line x1="619.10" y1="309.70" x2="619.10" y2="310.50" stroke="#777" stroke-width="0.3" />
<line x1="620.90" y1="309.70" x2="620.90" y2="310.50" stroke="#777" stroke-width="0.3" />
<line x1="622.70" y1="309.70" x2="622.70" y2="310.50" stroke="#777" stroke-width="0.3" />
<line x1="624.50" y1="309.70" x2="624.50" y2="310.50" stroke="#777" stroke-width="0.3" />
<line x1="626.30" y1="309.70" x2="626.30" y2="310.50" stroke="#777" stroke-width="0.3" />
<line x1="628.10" y1="309.70" x2="628.10" y2="310.50" stroke="#777" stroke-width="0.3" />
<line x1="629.90" y1="309.70" x2="629.90" y2="310.50" stroke="#777" stroke-width="0.3" />
<rect x="557.20" y="227.40" width="76.80" height="82.30" fill="none" stroke="#777" stroke-width="0.6" />
<g><circle cx="596.5" cy="303.6" r="0.42" fill="#4a66ff" opacity="0.5"/><circle cx="584.3" cy="301.7" r="0.42" fill="#4a66ff" opacity="0.5"/><circle cx="586.5" cy="304.5" r="0.42" fill="#4a66ff" opacity="0.5"/><circle cx="594.6" cy="303.1" r="0.42" fill="#4a66ff" opacity="0.5"/><circle cx="602.5" cy="303.5" r="0.42" fill="#4a66ff" opacity="0.5"/><circle cx="592.0" cy="300.9" r="0.42" fill="#4a66ff" opacity="0.5"/><circle cx="575.5" cy="302.3" r="0.42" fill="#4a66ff" opacity="0.5"/><circle cx="593.2" cy="304.2" r="0.42" fill="#4a66ff" opacity="0.5"/><circle cx="578.0" cy="301.7" r="0.42" fill="#4a66ff" opacity="0.5"/><circle cx="597.1" cy="304.2" r="0.42" fill="#4a66ff" opacity="0.5"/><circle cx="598.1" cy="302.3" r="0.42" fill="#4a66ff" opacity="0.5"/><circle cx="596.5" cy="302.4" r="0.42" fill="#4a66ff" opacity="0.5"/><circle cx="600.3" cy="301.7" r="0.42" fill="#4a66ff" opacity="0.5"/><circle cx="589.0" cy="302.6" r="0.42" fill="#4a66ff" opacity="0.5"/><circle cx="579.0" cy="302.0" r="0.42" fill="#4a66ff" opacity="0.5"/><circle cx="589.4" cy="298.7" r="0.42" fill="#4a66ff" opacity="0.5"/><circle cx="595.0" cy="303.5" r="0.42" fill="#4a66ff" opacity="0.5"/><circle cx="601.5" cy="302.1" r="0.42" fill="#4a66ff" opacity="0.5"/><circle cx="592.6" cy="303.2" r="0.42" fill="#4a66ff" opacity="0.5"/><circle cx="581.8" cy="303.6" r="0.42" fill="#4a66ff" opacity="0.5"/><circle cx="591.1" cy="302.6" r="0.42" fill="#4a66ff" opacity="0.5"/><circle cx="601.0" cy="301.7" r="0.42" fill="#4a66ff" opacity="0.5"/><circle cx="585.1" cy="302.2" r="0.42" fill="#4a66ff" opacity="0.5"/><circle cx="602.3" cy="303.2" r="0.42" fill="#4a66ff" opacity="0.5"/><circle cx="578.8" cy="304.5" r="0.42" fill="#4a66ff" opacity="0.5"/><circle cx="590.7" cy="301.9" r="0.42" fill="#4a66ff" opacity="0.5"/><circle cx="590.7" cy="302.7" r="0.42" fill="#4a66ff" opacity="0.5"/><circle cx="602.8" cy="306.3" r="0.42" fill="#4a66ff" opacity="0.5"/><circle cx="597.9" cy="302.4" r="0.42" fill="#4a66ff" opacity="0.5"/><circle cx="598.1" cy="302.5" r="0.42" fill="#4a66ff" opacity="0.5"/><circle cx="583.1" cy="303.9" r="0.42" fill="#4a66ff" opacity="0.5"/><circle cx="591.1" cy="302.3" r="0.42" fill="#4a66ff" opacity="0.5"/><circle cx="598.3" cy="303.7" r="0.42" fill="#4a66ff" opacity="0.5"/><circle cx="577.1" cy="304.7" r="0.42" fill="#4a66ff" opacity="0.5"/><circle cx="575.9" cy="304.9" r="0.42" fill="#4a66ff" opacity="0.5"/><circle cx="601.3" cy="307.0" r="0.42" fill="#4a66ff" opacity="0.5"/><circle cx="593.4" cy="302.2" r="0.42" fill="#4a66ff" opacity="0.5"/><circle cx="595.7" cy="305.1" r="0.42" fill="#4a66ff" opacity="0.5"/><circle cx="585.7" cy="300.7" r="0.42" fill="#4a66ff" opacity="0.5"/><circle cx="575.5" cy="301.5" r="0.42" fill="#4a66ff" opacity="0.5"/><circle cx="580.6" cy="302.2" r="0.42" fill="#4a66ff" opacity="0.5"/><circle cx="585.8" cy="303.2" r="0.42" fill="#4a66ff" opacity="0.5"/><circle cx="590.9" cy="303.8" r="0.42" fill="#4a66ff" opacity="0.5"/><circle cx="582.4" cy="304.6" r="0.42" fill="#4a66ff" opacity="0.5"/><circle cx="590.9" cy="301.9" r="0.42" fill="#4a66ff" opacity="0.5"/><circle cx="576.1" cy="304.9" r="0.42" fill="#4a66ff" opacity="0.5"/><circle cx="593.8" cy="305.3" r="0.42" fill="#4a66ff" opacity="0.5"/><circle cx="591.8" cy="306.0" r="0.42" fill="#4a66ff" opacity="0.5"/><circle cx="588.2" cy="301.2" r="0.42" fill="#4a66ff" opacity="0.5"/><circle cx="594.3" cy="304.1" r="0.42" fill="#4a66ff" opacity="0.5"/><circle cx="596.2" cy="303.0" r="0.42" fill="#4a66ff" opacity="0.5"/><circle cx="602.8" cy="301.3" r="0.42" fill="#4a66ff" opacity="0.5"/><circle cx="598.5" cy="303.9" r="0.42" fill="#4a66ff" opacity="0.5"/><circle cx="587.2" cy="301.8" r="0.42" fill="#4a66ff" opacity="0.5"/><circle cx="590.8" cy="304.5" r="0.42" fill="#4a66ff" opacity="0.5"/><circle cx="589.7" cy="302.0" r="0.42" fill="#4a66ff" opacity="0.5"/><circle cx="587.1" cy="304.1" r="0.42" fill="#4a66ff" opacity="0.5"/><circle cx="576.5" cy="302.3" r="0.42" fill="#4a66ff" opacity="0.5"/><circle cx="595.3" cy="305.0" r="0.42" fill="#4a66ff" opacity="0.5"/><circle cx="591.7" cy="301.6" r="0.42" fill="#4a66ff" opacity="0.5"/><circle cx="596.1" cy="302.3" r="0.42" fill="#4a66ff" opacity="0.5"/><circle cx="577.0" cy="304.9" r="0.42" fill="#4a66ff" opacity="0.5"/><circle cx="578.5" cy="301.3" r="0.42" fill="#4a66ff" opacity="0.5"/><circle cx="586.1" cy="303.6" r="0.42" fill="#4a66ff" opacity="0.5"/><circle cx="576.5" cy="302.4" r="0.42" fill="#4a66ff" opacity="0.5"/><circle cx="581.7" cy="301.3" r="0.42" fill="#4a66ff" opacity="0.5"/><circle cx="583.6" cy="302.1" r="0.42" fill="#4a66ff" opacity="0.5"/><circle cx="576.9" cy="303.7" r="0.42" fill="#4a66ff" opacity="0.5"/><circle cx="600.5" cy="305.2" r="0.42" fill="#4a66ff" opacity="0.5"/><circle cx="599.3" cy="302.5" r="0.42" fill="#4a66ff" opacity="0.5"/><circle cx="586.8" cy="303.4" r="0.42" fill="#4a66ff" opacity="0.5"/><circle cx="595.9" cy="302.0" r="0.42" fill="#4a66ff" opacity="0.5"/><circle cx="590.9" cy="303.6" r="0.42" fill="#4a66ff" opacity="0.5"/><circle cx="597.2" cy="302.6" r="0.42" fill="#4a66ff" opacity="0.5"/><circle cx="578.5" cy="299.4" r="0.42" fill="#4a66ff" opacity="0.5"/><circle cx="575.0" cy="302.1" r="0.42" fill="#4a66ff" opacity="0.5"/><circle cx="581.8" cy="302.6" r="0.42" fill="#4a66ff" opacity="0.5"/><circle cx="576.8" cy="304.3" r="0.42" fill="#4a66ff" opacity="0.5"/><circle cx="600.1" cy="303.6" r="0.42" fill="#4a66ff" opacity="0.5"/><circle cx="585.0" cy="301.6" r="0.42" fill="#4a66ff" opacity="0.5"/><circle cx="591.4" cy="303.4" r="0.42" fill="#4a66ff" opacity="0.5"/><circle cx="600.2" cy="303.1" r="0.42" fill="#4a66ff" opacity="0.5"/><circle cx="583.6" cy="299.5" r="0.42" fill="#4a66ff" opacity="0.5"/><circle cx="602.4" cy="303.0" r="0.42" fill="#4a66ff" opacity="0.5"/><circle cx="588.2" cy="303.3" r="0.42" fill="#4a66ff" opacity="0.5"/><circle cx="600.8" cy="304.2" r="0.42" fill="#4a66ff" opacity="0.5"/><circle cx="600.1" cy="304.0" r="0.42" fill="#4a66ff" opacity="0.5"/><circle cx="584.9" cy="305.7" r="0.42" fill="#4a66ff" opacity="0.5"/><circle cx="588.2" cy="304.5" r="0.42" fill="#4a66ff" opacity="0.5"/><circle cx="602.9" cy="305.7" r="0.42" fill="#4a66ff" opacity="0.5"/><circle cx="580.7" cy="302.3" r="0.42" fill="#4a66ff" opacity="0.5"/><circle cx="599.6" cy="302.3" r="0.42" fill="#4a66ff" opacity="0.5"/><circle cx="576.4" cy="304.9" r="0.42" fill="#4a66ff" opacity="0.5"/><circle cx="583.8" cy="304.5" r="0.42" fill="#4a66ff" opacity="0.5"/><circle cx="600.2" cy="304.6" r="0.42" fill="#4a66ff" opacity="0.5"/><circle cx="578.8" cy="301.3" r="0.42" fill="#4a66ff" opacity="0.5"/><circle cx="594.5" cy="304.5" r="0.42" fill="#4a66ff" opacity="0.5"/><circle cx="577.2" cy="302.4" r="0.42" fill="#4a66ff" opacity="0.5"/><circle cx="581.3" cy="302.2" r="0.42" fill="#4a66ff" opacity="0.5"/><circle cx="580.5" cy="305.2" r="0.42" fill="#4a66ff" opacity="0.5"/><circle cx="580.1" cy="303.2" r="0.42" fill="#4a66ff" opacity="0.5"/><circle cx="597.1" cy="305.2" r="0.42" fill="#4a66ff" opacity="0.5"/><circle cx="585.4" cy="301.4" r="0.42" fill="#4a66ff" opacity="0.5"/><circle cx="591.5" cy="300.3" r="0.42" fill="#4a66ff" opacity="0.5"/><circle cx="581.4" cy="301.9" r="0.42" fill="#4a66ff" opacity="0.5"/><circle cx="593.7" cy="306.3" r="0.42" fill="#4a66ff" opacity="0.5"/><circle cx="582.8" cy="302.6" r="0.42" fill="#4a66ff" opacity="0.5"/><circle cx="602.5" cy="302.5" r="0.42" fill="#4a66ff" opacity="0.5"/><circle cx="587.3" cy="301.2" r="0.42" fill="#4a66ff" opacity="0.5"/><circle cx="576.3" cy="302.7" r="0.42" fill="#4a66ff" opacity="0.5"/><circle cx="591.8" cy="302.8" r="0.42" fill="#4a66ff" opacity="0.5"/><circle cx="597.5" cy="304.1" r="0.42" fill="#4a66ff" opacity="0.5"/><circle cx="577.4" cy="302.4" r="0.42" fill="#4a66ff" opacity="0.5"/><circle cx="581.9" cy="305.5" r="0.42" fill="#4a66ff" opacity="0.5"/><circle cx="582.8" cy="302.1" r="0.42" fill="#4a66ff" opacity="0.5"/><circle cx="600.1" cy="302.7" r="0.42" fill="#4a66ff" opacity="0.5"/><circle cx="602.7" cy="304.6" r="0.42" fill="#4a66ff" opacity="0.5"/><circle cx="596.0" cy="303.3" r="0.42" fill="#4a66ff" opacity="0.5"/><circle cx="585.8" cy="304.6" r="0.42" fill="#4a66ff" opacity="0.5"/><circle cx="580.0" cy="302.2" r="0.42" fill="#4a66ff" opacity="0.5"/><circle cx="590.6" cy="302.1" r="0.42" fill="#4a66ff" opacity="0.5"/><circle cx="593.4" cy="301.9" r="0.42" fill="#4a66ff" opacity="0.5"/><circle cx="596.9" cy="301.2" r="0.42" fill="#4a66ff" opacity="0.5"/><circle cx="598.7" cy="302.8" r="0.42" fill="#4a66ff" opacity="0.5"/><circle cx="594.2" cy="299.3" r="0.42" fill="#4a66ff" opacity="0.5"/><circle cx="579.9" cy="302.5" r="0.42" fill="#4a66ff" opacity="0.5"/><circle cx="596.8" cy="304.0" r="0.42" fill="#4a66ff" opacity="0.5"/><circle cx="581.6" cy="304.8" r="0.42" fill="#4a66ff" opacity="0.5"/><circle cx="587.3" cy="303.4" r="0.42" fill="#4a66ff" opacity="0.5"/><circle cx="597.2" cy="300.4" r="0.42" fill="#4a66ff" opacity="0.5"/><circle cx="581.6" cy="301.9" r="0.42" fill="#4a66ff" opacity="0.5"/><circle cx="591.2" cy="303.1" r="0.42" fill="#4a66ff" opacity="0.5"/><circle cx="589.0" cy="305.0" r="0.42" fill="#4a66ff" opacity="0.5"/><circle cx="595.0" cy="303.4" r="0.42" fill="#4a66ff" opacity="0.5"/><circle cx="591.0" cy="303.7" r="0.42" fill="#4a66ff" opacity="0.5"/><circle cx="579.3" cy="302.3" r="0.42" fill="#4a66ff" opacity="0.5"/><circle cx="575.5" cy="301.4" r="0.42" fill="#4a66ff" opacity="0.5"/><circle cx="587.4" cy="303.0" r="0.42" fill="#4a66ff" opacity="0.5"/><circle cx="582.4" cy="303.2" r="0.42" fill="#4a66ff" opacity="0.5"/><circle cx="600.4" cy="302.4" r="0.42" fill="#4a66ff" opacity="0.5"/><circle cx="590.9" cy="300.4" r="0.42" fill="#4a66ff" opacity="0.5"/><circle cx="581.7" cy="302.3" r="0.42" fill="#4a66ff" opacity="0.5"/><circle cx="579.1" cy="302.8" r="0.42" fill="#4a66ff" opacity="0.5"/><circle cx="583.8" cy="303.4" r="0.42" fill="#4a66ff" opacity="0.5"/><circle cx="592.4" cy="301.8" r="0.42" fill="#4a66ff" opacity="0.5"/><circle cx="591.5" cy="302.8" r="0.42" fill="#4a66ff" opacity="0.5"/><circle cx="577.5" cy="303.4" r="0.42" fill="#4a66ff" opacity="0.5"/><circle cx="582.1" cy="302.2" r="0.42" fill="#4a66ff" opacity="0.5"/><circle cx="579.5" cy="302.0" r="0.42" fill="#4a66ff" opacity="0.5"/><circle cx="597.0" cy="300.4" r="0.42" fill="#4a66ff" opacity="0.5"/><ellipse cx="590.6" cy="303.0" rx="12.4" ry="3.5" fill="#4462ff" opacity="0.85" filter="url(#bl)"/><ellipse cx="594.6" cy="303.3" rx="3.4" ry="1.5" fill="#3c9cff" opacity="0.8" filter="url(#bl)"/><ellipse cx="571.0" cy="302.6" rx="15.5" ry="5.1" fill="#3452ff" filter="url(#bl)"/><ellipse cx="570.0" cy="303.0" rx="12.5" ry="3.7" fill="#2ab6f0" filter="url(#bl)"/><ellipse cx="570.0" cy="303.3" rx="9.5" ry="2.5" fill="#44da64" filter="url(#bl2)"/><ellipse cx="569.0" cy="303.3" rx="4.0" ry="0.9" fill="#a6e052" opacity="0.85" filter="url(#bl2)"/></g>
<rect x="583.20" y="293.80" width="33.70" height="15.40" fill="none" stroke="#555" stroke-width="0.6" />
<rect x="584.00" y="287.30" width="24.00" height="5.90" fill="#fff" stroke="#999" stroke-width="0.45" rx="0.9"/>
<text x="596.00" y="291.85" font-size="4.5" stroke="#111" stroke-width="0.108" text-anchor="middle" fill="#111" textLength="22.00" lengthAdjust="spacingAndGlyphs" >CD4+ CCR4+</text>
<text x="613.80" y="290.00" font-size="7.0" fill="#1a1a1a" textLength="16.20" lengthAdjust="spacingAndGlyphs" stroke="#1a1a1a" stroke-width="0.12">9.09%</text>
<text x="593.60" y="253.60" font-size="7.4" text-anchor="middle" fill="#1a1a1a" textLength="60.00" lengthAdjust="spacingAndGlyphs" stroke="#1a1a1a" stroke-width="0.2">intervention diet (ID)</text>
<line x1="431.60" y1="345.20" x2="431.60" y2="529.40" stroke="#111" stroke-width="1.1" />
<path d="M431.6,341.2 L429.5,346.0 L433.70000000000005,346.0 Z" fill="#111" />
<line x1="431.10" y1="529.40" x2="642.60" y2="529.40" stroke="#111" stroke-width="1.1" />
<path d="M646.6,529.4 L641.8000000000001,527.3 L641.8000000000001,531.5 Z" fill="#111" />
<text x="426.00" y="433.60" font-size="7.4" stroke="#1a1a1a" stroke-width="0.178" text-anchor="middle" fill="#1a1a1a" textLength="20.20" lengthAdjust="spacingAndGlyphs" transform="rotate(-90 426.00 433.60)" >SSC-A</text>
<text x="503.20" y="537.80" font-size="8.3" stroke="#1a1a1a" stroke-width="0.199" fill="#1a1a1a" textLength="49.80" lengthAdjust="spacingAndGlyphs" >CCR4+: BV421</text>
<line x1="454.80" y1="423.10" x2="456.50" y2="423.10" stroke="#333" stroke-width="0.45" />
<text x="454.40" y="424.25" font-size="3.2" stroke="#333" stroke-width="0.077" text-anchor="end" fill="#333" >0</text>
<line x1="455.60" y1="419.92" x2="456.50" y2="419.92" stroke="#666" stroke-width="0.35" />
<line x1="455.60" y1="416.75" x2="456.50" y2="416.75" stroke="#666" stroke-width="0.35" />
<line x1="455.60" y1="413.57" x2="456.50" y2="413.57" stroke="#666" stroke-width="0.35" />
<line x1="455.60" y1="410.40" x2="456.50" y2="410.40" stroke="#666" stroke-width="0.35" />
<line x1="454.80" y1="407.22" x2="456.50" y2="407.22" stroke="#333" stroke-width="0.45" />
<text x="454.40" y="408.37" font-size="3.2" stroke="#333" stroke-width="0.077" text-anchor="end" fill="#333" >50</text>
<line x1="455.60" y1="404.04" x2="456.50" y2="404.04" stroke="#666" stroke-width="0.35" />
<line x1="455.60" y1="400.87" x2="456.50" y2="400.87" stroke="#666" stroke-width="0.35" />
<line x1="455.60" y1="397.69" x2="456.50" y2="397.69" stroke="#666" stroke-width="0.35" />
<line x1="455.60" y1="394.52" x2="456.50" y2="394.52" stroke="#666" stroke-width="0.35" />
<line x1="454.80" y1="391.34" x2="456.50" y2="391.34" stroke="#333" stroke-width="0.45" />
<text x="454.40" y="392.49" font-size="3.2" stroke="#333" stroke-width="0.077" text-anchor="end" fill="#333" >100</text>
<line x1="455.60" y1="388.16" x2="456.50" y2="388.16" stroke="#666" stroke-width="0.35" />
<line x1="455.60" y1="384.99" x2="456.50" y2="384.99" stroke="#666" stroke-width="0.35" />
<line x1="455.60" y1="381.81" x2="456.50" y2="381.81" stroke="#666" stroke-width="0.35" />
<line x1="455.60" y1="378.64" x2="456.50" y2="378.64" stroke="#666" stroke-width="0.35" />
<line x1="454.80" y1="375.46" x2="456.50" y2="375.46" stroke="#333" stroke-width="0.45" />
<text x="454.40" y="376.61" font-size="3.2" stroke="#333" stroke-width="0.077" text-anchor="end" fill="#333" >150</text>
<line x1="455.60" y1="372.28" x2="456.50" y2="372.28" stroke="#666" stroke-width="0.35" />
<line x1="455.60" y1="369.11" x2="456.50" y2="369.11" stroke="#666" stroke-width="0.35" />
<line x1="455.60" y1="365.93" x2="456.50" y2="365.93" stroke="#666" stroke-width="0.35" />
<line x1="455.60" y1="362.76" x2="456.50" y2="362.76" stroke="#666" stroke-width="0.35" />
<line x1="454.80" y1="359.58" x2="456.50" y2="359.58" stroke="#333" stroke-width="0.45" />
<text x="454.40" y="360.73" font-size="3.2" stroke="#333" stroke-width="0.077" text-anchor="end" fill="#333" >200</text>
<line x1="455.60" y1="356.40" x2="456.50" y2="356.40" stroke="#666" stroke-width="0.35" />
<line x1="455.60" y1="353.23" x2="456.50" y2="353.23" stroke="#666" stroke-width="0.35" />
<line x1="455.60" y1="350.05" x2="456.50" y2="350.05" stroke="#666" stroke-width="0.35" />
<line x1="455.60" y1="346.88" x2="456.50" y2="346.88" stroke="#666" stroke-width="0.35" />
<line x1="454.80" y1="343.70" x2="456.50" y2="343.70" stroke="#333" stroke-width="0.45" />
<text x="454.40" y="344.85" font-size="3.2" stroke="#333" stroke-width="0.077" text-anchor="end" fill="#333" >250</text>
<text x="446.90" y="353.00" font-size="3.1" stroke="#333" stroke-width="0.074" text-anchor="middle" fill="#333" transform="rotate(-90 446.90 353.00)" >(x 10&#179;)</text>
<line x1="459.00" y1="423.40" x2="459.00" y2="424.90" stroke="#333" stroke-width="0.45" />
<text x="459.00" y="427.80" font-size="3.1" stroke="#333" stroke-width="0.074" text-anchor="middle" fill="#333" >-200</text>
<line x1="467.80" y1="423.40" x2="467.80" y2="424.90" stroke="#333" stroke-width="0.45" />
<text x="467.80" y="427.80" font-size="3.1" stroke="#333" stroke-width="0.074" text-anchor="middle" fill="#333" >0</text>
<line x1="477.00" y1="423.40" x2="477.00" y2="424.90" stroke="#333" stroke-width="0.45" />
<text x="477.00" y="427.80" font-size="3.1" stroke="#333" stroke-width="0.074" text-anchor="middle" fill="#333" >200</text>
<line x1="491.90" y1="423.40" x2="491.90" y2="424.90" stroke="#333" stroke-width="0.45" />
<text x="491.90" y="427.80" font-size="3.1" stroke="#333" stroke-width="0.074" text-anchor="middle" fill="#333" >10&#179;</text>
<line x1="510.80" y1="423.40" x2="510.80" y2="424.90" stroke="#333" stroke-width="0.45" />
<text x="510.80" y="427.80" font-size="3.1" stroke="#333" stroke-width="0.074" text-anchor="middle" fill="#333" >10&#8308;</text>
<line x1="529.60" y1="423.40" x2="529.60" y2="424.90" stroke="#333" stroke-width="0.45" />
<text x="529.60" y="427.80" font-size="3.1" stroke="#333" stroke-width="0.074" text-anchor="middle" fill="#333" >10&#8309;</text>
<line x1="478.80" y1="423.40" x2="478.80" y2="424.20" stroke="#777" stroke-width="0.3" />
<line x1="480.60" y1="423.40" x2="480.60" y2="424.20" stroke="#777" stroke-width="0.3" />
<line x1="482.40" y1="423.40" x2="482.40" y2="424.20" stroke="#777" stroke-width="0.3" />
<line x1="484.20" y1="423.40" x2="484.20" y2="424.20" stroke="#777" stroke-width="0.3" />
<line x1="486.00" y1="423.40" x2="486.00" y2="424.20" stroke="#777" stroke-width="0.3" />
<line x1="487.80" y1="423.40" x2="487.80" y2="424.20" stroke="#777" stroke-width="0.3" />
<line x1="489.60" y1="423.40" x2="489.60" y2="424.20" stroke="#777" stroke-width="0.3" />
<line x1="491.40" y1="423.40" x2="491.40" y2="424.20" stroke="#777" stroke-width="0.3" />
<line x1="493.20" y1="423.40" x2="493.20" y2="424.20" stroke="#777" stroke-width="0.3" />
<line x1="495.00" y1="423.40" x2="495.00" y2="424.20" stroke="#777" stroke-width="0.3" />
<line x1="496.80" y1="423.40" x2="496.80" y2="424.20" stroke="#777" stroke-width="0.3" />
<line x1="498.60" y1="423.40" x2="498.60" y2="424.20" stroke="#777" stroke-width="0.3" />
<line x1="500.40" y1="423.40" x2="500.40" y2="424.20" stroke="#777" stroke-width="0.3" />
<line x1="502.20" y1="423.40" x2="502.20" y2="424.20" stroke="#777" stroke-width="0.3" />
<line x1="504.00" y1="423.40" x2="504.00" y2="424.20" stroke="#777" stroke-width="0.3" />
<line x1="505.80" y1="423.40" x2="505.80" y2="424.20" stroke="#777" stroke-width="0.3" />
<line x1="507.60" y1="423.40" x2="507.60" y2="424.20" stroke="#777" stroke-width="0.3" />
<line x1="509.40" y1="423.40" x2="509.40" y2="424.20" stroke="#777" stroke-width="0.3" />
<line x1="511.20" y1="423.40" x2="511.20" y2="424.20" stroke="#777" stroke-width="0.3" />
<line x1="513.00" y1="423.40" x2="513.00" y2="424.20" stroke="#777" stroke-width="0.3" />
<line x1="514.80" y1="423.40" x2="514.80" y2="424.20" stroke="#777" stroke-width="0.3" />
<line x1="516.60" y1="423.40" x2="516.60" y2="424.20" stroke="#777" stroke-width="0.3" />
<line x1="518.40" y1="423.40" x2="518.40" y2="424.20" stroke="#777" stroke-width="0.3" />
<line x1="520.20" y1="423.40" x2="520.20" y2="424.20" stroke="#777" stroke-width="0.3" />
<line x1="522.00" y1="423.40" x2="522.00" y2="424.20" stroke="#777" stroke-width="0.3" />
<line x1="523.80" y1="423.40" x2="523.80" y2="424.20" stroke="#777" stroke-width="0.3" />
<line x1="525.60" y1="423.40" x2="525.60" y2="424.20" stroke="#777" stroke-width="0.3" />
<line x1="527.40" y1="423.40" x2="527.40" y2="424.20" stroke="#777" stroke-width="0.3" />
<line x1="529.20" y1="423.40" x2="529.20" y2="424.20" stroke="#777" stroke-width="0.3" />
<rect x="456.50" y="340.50" width="80.30" height="82.90" fill="none" stroke="#777" stroke-width="0.6" />
<g><circle cx="475.2" cy="414.4" r="0.4" fill="#6078ff" opacity="0.5"/><circle cx="479.8" cy="417.0" r="0.4" fill="#6078ff" opacity="0.5"/><circle cx="502.1" cy="418.2" r="0.4" fill="#6078ff" opacity="0.5"/><circle cx="495.9" cy="416.6" r="0.4" fill="#6078ff" opacity="0.5"/><circle cx="502.6" cy="417.4" r="0.4" fill="#6078ff" opacity="0.5"/><circle cx="495.5" cy="417.7" r="0.4" fill="#6078ff" opacity="0.5"/><circle cx="474.6" cy="416.2" r="0.4" fill="#6078ff" opacity="0.5"/><circle cx="477.6" cy="420.2" r="0.4" fill="#6078ff" opacity="0.5"/><circle cx="485.0" cy="415.4" r="0.4" fill="#6078ff" opacity="0.5"/><circle cx="475.7" cy="418.0" r="0.4" fill="#6078ff" opacity="0.5"/><circle cx="474.4" cy="419.4" r="0.4" fill="#6078ff" opacity="0.5"/><circle cx="495.1" cy="415.9" r="0.4" fill="#6078ff" opacity="0.5"/><circle cx="480.2" cy="415.9" r="0.4" fill="#6078ff" opacity="0.5"/><circle cx="480.6" cy="418.5" r="0.4" fill="#6078ff" opacity="0.5"/><circle cx="487.1" cy="417.7" r="0.4" fill="#6078ff" opacity="0.5"/><circle cx="483.4" cy="415.2" r="0.4" fill="#6078ff" opacity="0.5"/><circle cx="502.4" cy="415.6" r="0.4" fill="#6078ff" opacity="0.5"/><circle cx="485.3" cy="415.6" r="0.4" fill="#6078ff" opacity="0.5"/><circle cx="492.6" cy="417.7" r="0.4" fill="#6078ff" opacity="0.5"/><circle cx="494.0" cy="416.7" r="0.4" fill="#6078ff" opacity="0.5"/><circle cx="499.0" cy="412.5" r="0.4" fill="#6078ff" opacity="0.5"/><circle cx="487.1" cy="413.8" r="0.4" fill="#6078ff" opacity="0.5"/><circle cx="485.0" cy="417.1" r="0.4" fill="#6078ff" opacity="0.5"/><circle cx="496.5" cy="414.4" r="0.4" fill="#6078ff" opacity="0.5"/><circle cx="479.8" cy="415.3" r="0.4" fill="#6078ff" opacity="0.5"/><circle cx="489.7" cy="417.0" r="0.4" fill="#6078ff" opacity="0.5"/><circle cx="478.3" cy="416.4" r="0.4" fill="#6078ff" opacity="0.5"/><circle cx="487.2" cy="417.3" r="0.4" fill="#6078ff" opacity="0.5"/><circle cx="482.5" cy="410.0" r="0.4" fill="#6078ff" opacity="0.5"/><circle cx="493.5" cy="418.1" r="0.4" fill="#6078ff" opacity="0.5"/><circle cx="498.9" cy="416.6" r="0.4" fill="#6078ff" opacity="0.5"/><circle cx="475.6" cy="417.9" r="0.4" fill="#6078ff" opacity="0.5"/><circle cx="493.9" cy="415.0" r="0.4" fill="#6078ff" opacity="0.5"/><circle cx="473.9" cy="417.2" r="0.4" fill="#6078ff" opacity="0.5"/><circle cx="478.8" cy="415.8" r="0.4" fill="#6078ff" opacity="0.5"/><circle cx="500.7" cy="418.0" r="0.4" fill="#6078ff" opacity="0.5"/><circle cx="494.6" cy="415.8" r="0.4" fill="#6078ff" opacity="0.5"/><circle cx="477.9" cy="417.9" r="0.4" fill="#6078ff" opacity="0.5"/><circle cx="501.1" cy="413.8" r="0.4" fill="#6078ff" opacity="0.5"/><circle cx="494.8" cy="418.6" r="0.4" fill="#6078ff" opacity="0.5"/><circle cx="500.2" cy="417.7" r="0.4" fill="#6078ff" opacity="0.5"/><circle cx="484.8" cy="416.2" r="0.4" fill="#6078ff" opacity="0.5"/><circle cx="475.9" cy="417.3" r="0.4" fill="#6078ff" opacity="0.5"/><circle cx="496.2" cy="414.8" r="0.4" fill="#6078ff" opacity="0.5"/><circle cx="488.8" cy="417.9" r="0.4" fill="#6078ff" opacity="0.5"/><circle cx="480.5" cy="416.7" r="0.4" fill="#6078ff" opacity="0.5"/><circle cx="474.6" cy="417.6" r="0.4" fill="#6078ff" opacity="0.5"/><circle cx="474.3" cy="418.2" r="0.4" fill="#6078ff" opacity="0.5"/><circle cx="482.6" cy="413.8" r="0.4" fill="#6078ff" opacity="0.5"/><circle cx="477.4" cy="417.2" r="0.4" fill="#6078ff" opacity="0.5"/><circle cx="494.3" cy="415.8" r="0.4" fill="#6078ff" opacity="0.5"/><circle cx="493.1" cy="419.2" r="0.4" fill="#6078ff" opacity="0.5"/><circle cx="477.8" cy="416.5" r="0.4" fill="#6078ff" opacity="0.5"/><circle cx="494.5" cy="417.6" r="0.4" fill="#6078ff" opacity="0.5"/><circle cx="485.4" cy="413.0" r="0.4" fill="#6078ff" opacity="0.5"/><circle cx="480.1" cy="418.6" r="0.4" fill="#6078ff" opacity="0.5"/><circle cx="482.0" cy="415.2" r="0.4" fill="#6078ff" opacity="0.5"/><circle cx="474.6" cy="417.2" r="0.4" fill="#6078ff" opacity="0.5"/><circle cx="474.1" cy="414.2" r="0.4" fill="#6078ff" opacity="0.5"/><circle cx="497.3" cy="414.1" r="0.4" fill="#6078ff" opacity="0.5"/><circle cx="502.3" cy="415.1" r="0.4" fill="#6078ff" opacity="0.5"/><circle cx="500.6" cy="418.8" r="0.4" fill="#6078ff" opacity="0.5"/><circle cx="479.8" cy="414.9" r="0.4" fill="#6078ff" opacity="0.5"/><circle cx="501.7" cy="413.2" r="0.4" fill="#6078ff" opacity="0.5"/><circle cx="499.1" cy="416.3" r="0.4" fill="#6078ff" opacity="0.5"/><circle cx="476.1" cy="418.8" r="0.4" fill="#6078ff" opacity="0.5"/><circle cx="486.1" cy="415.5" r="0.4" fill="#6078ff" opacity="0.5"/><circle cx="484.7" cy="416.4" r="0.4" fill="#6078ff" opacity="0.5"/><circle cx="483.1" cy="414.4" r="0.4" fill="#6078ff" opacity="0.5"/><circle cx="478.1" cy="416.0" r="0.4" fill="#6078ff" opacity="0.5"/><circle cx="485.3" cy="414.8" r="0.4" fill="#6078ff" opacity="0.5"/><circle cx="493.1" cy="416.2" r="0.4" fill="#6078ff" opacity="0.5"/><circle cx="480.5" cy="417.5" r="0.4" fill="#6078ff" opacity="0.5"/><circle cx="485.9" cy="417.0" r="0.4" fill="#6078ff" opacity="0.5"/><circle cx="477.9" cy="413.3" r="0.4" fill="#6078ff" opacity="0.5"/><ellipse cx="469.4" cy="416.0" rx="9.4" ry="5.4" fill="#3a5aff" filter="url(#bl)"/><ellipse cx="468.7" cy="416.3" rx="6.8" ry="4.0" fill="#2ab6f0" filter="url(#bl)"/><ellipse cx="468.4" cy="416.5" rx="4.4" ry="2.9" fill="#44da64" filter="url(#bl2)"/><ellipse cx="468.4" cy="416.5" rx="1.6" ry="1.0" fill="#b4e84c" filter="url(#bl2)"/></g>
<rect x="483.30" y="408.10" width="34.40" height="14.80" fill="none" stroke="#555" stroke-width="0.6" />
<rect x="484.20" y="401.60" width="24.60" height="5.50" fill="#fff" stroke="#999" stroke-width="0.45" rx="0.9"/>
<text x="496.50" y="405.95" font-size="4.5" stroke="#111" stroke-width="0.108" text-anchor="middle" fill="#111" textLength="22.60" lengthAdjust="spacingAndGlyphs" >CD4+ CCR4+</text>
<text x="514.00" y="405.80" font-size="7.0" fill="#1a1a1a" textLength="16.20" lengthAdjust="spacingAndGlyphs" stroke="#1a1a1a" stroke-width="0.12">2.05%</text>
<text x="497.00" y="365.50" font-size="7.4" text-anchor="middle" fill="#1a1a1a" textLength="52.50" lengthAdjust="spacingAndGlyphs" stroke="#1a1a1a" stroke-width="0.2">standard diet (SD)</text>
<line x1="555.20" y1="424.70" x2="556.90" y2="424.70" stroke="#333" stroke-width="0.45" />
<text x="554.80" y="425.85" font-size="3.2" stroke="#333" stroke-width="0.077" text-anchor="end" fill="#333" >0</text>
<line x1="556.00" y1="421.46" x2="556.90" y2="421.46" stroke="#666" stroke-width="0.35" />
<line x1="556.00" y1="418.22" x2="556.90" y2="418.22" stroke="#666" stroke-width="0.35" />
<line x1="556.00" y1="414.98" x2="556.90" y2="414.98" stroke="#666" stroke-width="0.35" />
<line x1="556.00" y1="411.74" x2="556.90" y2="411.74" stroke="#666" stroke-width="0.35" />
<line x1="555.20" y1="408.50" x2="556.90" y2="408.50" stroke="#333" stroke-width="0.45" />
<text x="554.80" y="409.65" font-size="3.2" stroke="#333" stroke-width="0.077" text-anchor="end" fill="#333" >50</text>
<line x1="556.00" y1="405.26" x2="556.90" y2="405.26" stroke="#666" stroke-width="0.35" />
<line x1="556.00" y1="402.02" x2="556.90" y2="402.02" stroke="#666" stroke-width="0.35" />
<line x1="556.00" y1="398.78" x2="556.90" y2="398.78" stroke="#666" stroke-width="0.35" />
<line x1="556.00" y1="395.54" x2="556.90" y2="395.54" stroke="#666" stroke-width="0.35" />
<line x1="555.20" y1="392.30" x2="556.90" y2="392.30" stroke="#333" stroke-width="0.45" />
<text x="554.80" y="393.45" font-size="3.2" stroke="#333" stroke-width="0.077" text-anchor="end" fill="#333" >100</text>
<line x1="556.00" y1="389.06" x2="556.90" y2="389.06" stroke="#666" stroke-width="0.35" />
<line x1="556.00" y1="385.82" x2="556.90" y2="385.82" stroke="#666" stroke-width="0.35" />
<line x1="556.00" y1="382.58" x2="556.90" y2="382.58" stroke="#666" stroke-width="0.35" />
<line x1="556.00" y1="379.34" x2="556.90" y2="379.34" stroke="#666" stroke-width="0.35" />
<line x1="555.20" y1="376.10" x2="556.90" y2="376.10" stroke="#333" stroke-width="0.45" />
<text x="554.80" y="377.25" font-size="3.2" stroke="#333" stroke-width="0.077" text-anchor="end" fill="#333" >150</text>
<line x1="556.00" y1="372.86" x2="556.90" y2="372.86" stroke="#666" stroke-width="0.35" />
<line x1="556.00" y1="369.62" x2="556.90" y2="369.62" stroke="#666" stroke-width="0.35" />
<line x1="556.00" y1="366.38" x2="556.90" y2="366.38" stroke="#666" stroke-width="0.35" />
<line x1="556.00" y1="363.14" x2="556.90" y2="363.14" stroke="#666" stroke-width="0.35" />
<line x1="555.20" y1="359.90" x2="556.90" y2="359.90" stroke="#333" stroke-width="0.45" />
<text x="554.80" y="361.05" font-size="3.2" stroke="#333" stroke-width="0.077" text-anchor="end" fill="#333" >200</text>
<line x1="556.00" y1="356.66" x2="556.90" y2="356.66" stroke="#666" stroke-width="0.35" />
<line x1="556.00" y1="353.42" x2="556.90" y2="353.42" stroke="#666" stroke-width="0.35" />
<line x1="556.00" y1="350.18" x2="556.90" y2="350.18" stroke="#666" stroke-width="0.35" />
<line x1="556.00" y1="346.94" x2="556.90" y2="346.94" stroke="#666" stroke-width="0.35" />
<line x1="555.20" y1="343.70" x2="556.90" y2="343.70" stroke="#333" stroke-width="0.45" />
<text x="554.80" y="344.85" font-size="3.2" stroke="#333" stroke-width="0.077" text-anchor="end" fill="#333" >250</text>
<text x="547.30" y="353.00" font-size="3.1" stroke="#333" stroke-width="0.074" text-anchor="middle" fill="#333" transform="rotate(-90 547.30 353.00)" >(x 10&#179;)</text>
<line x1="559.40" y1="425.00" x2="559.40" y2="426.50" stroke="#333" stroke-width="0.45" />
<text x="559.40" y="429.40" font-size="3.1" stroke="#333" stroke-width="0.074" text-anchor="middle" fill="#333" >-200</text>
<line x1="568.20" y1="425.00" x2="568.20" y2="426.50" stroke="#333" stroke-width="0.45" />
<text x="568.20" y="429.40" font-size="3.1" stroke="#333" stroke-width="0.074" text-anchor="middle" fill="#333" >0</text>
<line x1="577.40" y1="425.00" x2="577.40" y2="426.50" stroke="#333" stroke-width="0.45" />
<text x="577.40" y="429.40" font-size="3.1" stroke="#333" stroke-width="0.074" text-anchor="middle" fill="#333" >200</text>
<line x1="592.30" y1="425.00" x2="592.30" y2="426.50" stroke="#333" stroke-width="0.45" />
<text x="592.30" y="429.40" font-size="3.1" stroke="#333" stroke-width="0.074" text-anchor="middle" fill="#333" >10&#179;</text>
<line x1="611.20" y1="425.00" x2="611.20" y2="426.50" stroke="#333" stroke-width="0.45" />
<text x="611.20" y="429.40" font-size="3.1" stroke="#333" stroke-width="0.074" text-anchor="middle" fill="#333" >10&#8308;</text>
<line x1="630.00" y1="425.00" x2="630.00" y2="426.50" stroke="#333" stroke-width="0.45" />
<text x="630.00" y="429.40" font-size="3.1" stroke="#333" stroke-width="0.074" text-anchor="middle" fill="#333" >10&#8309;</text>
<line x1="579.20" y1="425.00" x2="579.20" y2="425.80" stroke="#777" stroke-width="0.3" />
<line x1="581.00" y1="425.00" x2="581.00" y2="425.80" stroke="#777" stroke-width="0.3" />
<line x1="582.80" y1="425.00" x2="582.80" y2="425.80" stroke="#777" stroke-width="0.3" />
<line x1="584.60" y1="425.00" x2="584.60" y2="425.80" stroke="#777" stroke-width="0.3" />
<line x1="586.40" y1="425.00" x2="586.40" y2="425.80" stroke="#777" stroke-width="0.3" />
<line x1="588.20" y1="425.00" x2="588.20" y2="425.80" stroke="#777" stroke-width="0.3" />
<line x1="590.00" y1="425.00" x2="590.00" y2="425.80" stroke="#777" stroke-width="0.3" />
<line x1="591.80" y1="425.00" x2="591.80" y2="425.80" stroke="#777" stroke-width="0.3" />
<line x1="593.60" y1="425.00" x2="593.60" y2="425.80" stroke="#777" stroke-width="0.3" />
<line x1="595.40" y1="425.00" x2="595.40" y2="425.80" stroke="#777" stroke-width="0.3" />
<line x1="597.20" y1="425.00" x2="597.20" y2="425.80" stroke="#777" stroke-width="0.3" />
<line x1="599.00" y1="425.00" x2="599.00" y2="425.80" stroke="#777" stroke-width="0.3" />
<line x1="600.80" y1="425.00" x2="600.80" y2="425.80" stroke="#777" stroke-width="0.3" />
<line x1="602.60" y1="425.00" x2="602.60" y2="425.80" stroke="#777" stroke-width="0.3" />
<line x1="604.40" y1="425.00" x2="604.40" y2="425.80" stroke="#777" stroke-width="0.3" />
<line x1="606.20" y1="425.00" x2="606.20" y2="425.80" stroke="#777" stroke-width="0.3" />
<line x1="608.00" y1="425.00" x2="608.00" y2="425.80" stroke="#777" stroke-width="0.3" />
<line x1="609.80" y1="425.00" x2="609.80" y2="425.80" stroke="#777" stroke-width="0.3" />
<line x1="611.60" y1="425.00" x2="611.60" y2="425.80" stroke="#777" stroke-width="0.3" />
<line x1="613.40" y1="425.00" x2="613.40" y2="425.80" stroke="#777" stroke-width="0.3" />
<line x1="615.20" y1="425.00" x2="615.20" y2="425.80" stroke="#777" stroke-width="0.3" />
<line x1="617.00" y1="425.00" x2="617.00" y2="425.80" stroke="#777" stroke-width="0.3" />
<line x1="618.80" y1="425.00" x2="618.80" y2="425.80" stroke="#777" stroke-width="0.3" />
<line x1="620.60" y1="425.00" x2="620.60" y2="425.80" stroke="#777" stroke-width="0.3" />
<line x1="622.40" y1="425.00" x2="622.40" y2="425.80" stroke="#777" stroke-width="0.3" />
<line x1="624.20" y1="425.00" x2="624.20" y2="425.80" stroke="#777" stroke-width="0.3" />
<line x1="626.00" y1="425.00" x2="626.00" y2="425.80" stroke="#777" stroke-width="0.3" />
<line x1="627.80" y1="425.00" x2="627.80" y2="425.80" stroke="#777" stroke-width="0.3" />
<line x1="629.60" y1="425.00" x2="629.60" y2="425.80" stroke="#777" stroke-width="0.3" />
<rect x="556.90" y="340.50" width="80.30" height="84.50" fill="none" stroke="#777" stroke-width="0.6" />
<g><circle cx="594.6" cy="415.8" r="0.4" fill="#6078ff" opacity="0.5"/><circle cx="600.3" cy="419.3" r="0.4" fill="#6078ff" opacity="0.5"/><circle cx="587.3" cy="417.6" r="0.4" fill="#6078ff" opacity="0.5"/><circle cx="575.5" cy="416.7" r="0.4" fill="#6078ff" opacity="0.5"/><circle cx="592.4" cy="417.7" r="0.4" fill="#6078ff" opacity="0.5"/><circle cx="595.9" cy="415.6" r="0.4" fill="#6078ff" opacity="0.5"/><circle cx="583.0" cy="417.6" r="0.4" fill="#6078ff" opacity="0.5"/><circle cx="574.0" cy="414.9" r="0.4" fill="#6078ff" opacity="0.5"/><circle cx="595.1" cy="420.8" r="0.4" fill="#6078ff" opacity="0.5"/><circle cx="583.3" cy="416.7" r="0.4" fill="#6078ff" opacity="0.5"/><circle cx="591.4" cy="416.2" r="0.4" fill="#6078ff" opacity="0.5"/><circle cx="597.0" cy="419.1" r="0.4" fill="#6078ff" opacity="0.5"/><circle cx="595.5" cy="416.8" r="0.4" fill="#6078ff" opacity="0.5"/><circle cx="609.8" cy="417.7" r="0.4" fill="#6078ff" opacity="0.5"/><circle cx="597.2" cy="414.5" r="0.4" fill="#6078ff" opacity="0.5"/><circle cx="589.1" cy="415.9" r="0.4" fill="#6078ff" opacity="0.5"/><circle cx="605.4" cy="418.1" r="0.4" fill="#6078ff" opacity="0.5"/><circle cx="607.3" cy="414.1" r="0.4" fill="#6078ff" opacity="0.5"/><circle cx="574.6" cy="420.3" r="0.4" fill="#6078ff" opacity="0.5"/><circle cx="578.4" cy="415.6" r="0.4" fill="#6078ff" opacity="0.5"/><circle cx="587.1" cy="417.2" r="0.4" fill="#6078ff" opacity="0.5"/><circle cx="611.1" cy="418.1" r="0.4" fill="#6078ff" opacity="0.5"/><circle cx="582.0" cy="418.4" r="0.4" fill="#6078ff" opacity="0.5"/><circle cx="599.6" cy="417.3" r="0.4" fill="#6078ff" opacity="0.5"/><circle cx="594.3" cy="417.4" r="0.4" fill="#6078ff" opacity="0.5"/><circle cx="588.4" cy="417.5" r="0.4" fill="#6078ff" opacity="0.5"/><circle cx="598.4" cy="419.6" r="0.4" fill="#6078ff" opacity="0.5"/><circle cx="594.4" cy="415.5" r="0.4" fill="#6078ff" opacity="0.5"/><circle cx="605.4" cy="415.5" r="0.4" fill="#6078ff" opacity="0.5"/><circle cx="610.8" cy="416.4" r="0.4" fill="#6078ff" opacity="0.5"/><circle cx="607.6" cy="418.9" r="0.4" fill="#6078ff" opacity="0.5"/><circle cx="585.3" cy="416.6" r="0.4" fill="#6078ff" opacity="0.5"/><circle cx="599.8" cy="414.3" r="0.4" fill="#6078ff" opacity="0.5"/><circle cx="610.6" cy="417.8" r="0.4" fill="#6078ff" opacity="0.5"/><circle cx="597.3" cy="416.2" r="0.4" fill="#6078ff" opacity="0.5"/><circle cx="592.2" cy="415.5" r="0.4" fill="#6078ff" opacity="0.5"/><circle cx="584.2" cy="416.6" r="0.4" fill="#6078ff" opacity="0.5"/><circle cx="602.2" cy="415.9" r="0.4" fill="#6078ff" opacity="0.5"/><circle cx="582.8" cy="417.0" r="0.4" fill="#6078ff" opacity="0.5"/><circle cx="585.7" cy="418.4" r="0.4" fill="#6078ff" opacity="0.5"/><circle cx="578.0" cy="419.5" r="0.4" fill="#6078ff" opacity="0.5"/><circle cx="575.6" cy="418.1" r="0.4" fill="#6078ff" opacity="0.5"/><circle cx="600.5" cy="417.7" r="0.4" fill="#6078ff" opacity="0.5"/><circle cx="577.5" cy="414.0" r="0.4" fill="#6078ff" opacity="0.5"/><circle cx="591.8" cy="418.3" r="0.4" fill="#6078ff" opacity="0.5"/><circle cx="579.4" cy="420.0" r="0.4" fill="#6078ff" opacity="0.5"/><circle cx="575.2" cy="414.3" r="0.4" fill="#6078ff" opacity="0.5"/><circle cx="583.0" cy="413.7" r="0.4" fill="#6078ff" opacity="0.5"/><circle cx="588.4" cy="417.1" r="0.4" fill="#6078ff" opacity="0.5"/><circle cx="601.0" cy="417.3" r="0.4" fill="#6078ff" opacity="0.5"/><circle cx="585.8" cy="420.5" r="0.4" fill="#6078ff" opacity="0.5"/><circle cx="586.1" cy="417.5" r="0.4" fill="#6078ff" opacity="0.5"/><circle cx="605.3" cy="413.5" r="0.4" fill="#6078ff" opacity="0.5"/><circle cx="595.2" cy="414.5" r="0.4" fill="#6078ff" opacity="0.5"/><circle cx="597.3" cy="418.8" r="0.4" fill="#6078ff" opacity="0.5"/><circle cx="605.4" cy="417.6" r="0.4" fill="#6078ff" opacity="0.5"/><circle cx="587.8" cy="416.3" r="0.4" fill="#6078ff" opacity="0.5"/><circle cx="599.1" cy="417.5" r="0.4" fill="#6078ff" opacity="0.5"/><circle cx="573.6" cy="418.6" r="0.4" fill="#6078ff" opacity="0.5"/><circle cx="595.9" cy="422.2" r="0.4" fill="#6078ff" opacity="0.5"/><circle cx="578.3" cy="415.4" r="0.4" fill="#6078ff" opacity="0.5"/><circle cx="599.8" cy="414.8" r="0.4" fill="#6078ff" opacity="0.5"/><circle cx="588.5" cy="418.7" r="0.4" fill="#6078ff" opacity="0.5"/><circle cx="609.4" cy="417.9" r="0.4" fill="#6078ff" opacity="0.5"/><circle cx="600.8" cy="417.3" r="0.4" fill="#6078ff" opacity="0.5"/><circle cx="577.7" cy="418.9" r="0.4" fill="#6078ff" opacity="0.5"/><circle cx="601.5" cy="417.7" r="0.4" fill="#6078ff" opacity="0.5"/><circle cx="611.8" cy="418.6" r="0.4" fill="#6078ff" opacity="0.5"/><circle cx="574.1" cy="418.5" r="0.4" fill="#6078ff" opacity="0.5"/><circle cx="594.2" cy="415.4" r="0.4" fill="#6078ff" opacity="0.5"/><circle cx="585.1" cy="417.5" r="0.4" fill="#6078ff" opacity="0.5"/><circle cx="604.2" cy="418.2" r="0.4" fill="#6078ff" opacity="0.5"/><circle cx="588.3" cy="415.9" r="0.4" fill="#6078ff" opacity="0.5"/><circle cx="597.1" cy="417.8" r="0.4" fill="#6078ff" opacity="0.5"/><circle cx="588.2" cy="411.7" r="0.4" fill="#6078ff" opacity="0.5"/><ellipse cx="569.1" cy="417.3" rx="9.4" ry="5.4" fill="#3a5aff" filter="url(#bl)"/><ellipse cx="568.4" cy="417.6" rx="6.8" ry="4.0" fill="#2ab6f0" filter="url(#bl)"/><ellipse cx="568.1" cy="417.8" rx="4.4" ry="2.9" fill="#44da64" filter="url(#bl2)"/><ellipse cx="568.1" cy="417.8" rx="1.6" ry="1.0" fill="#b4e84c" filter="url(#bl2)"/></g>
<rect x="583.40" y="409.90" width="34.50" height="14.80" fill="none" stroke="#555" stroke-width="0.6" />
<rect x="584.50" y="403.00" width="24.20" height="5.70" fill="#fff" stroke="#999" stroke-width="0.45" rx="0.9"/>
<text x="596.60" y="407.45" font-size="4.5" stroke="#111" stroke-width="0.108" text-anchor="middle" fill="#111" textLength="22.20" lengthAdjust="spacingAndGlyphs" >CD4+ CCR4+</text>
<text x="613.60" y="407.20" font-size="7.0" fill="#1a1a1a" textLength="16.40" lengthAdjust="spacingAndGlyphs" stroke="#1a1a1a" stroke-width="0.12">8.55%</text>
<text x="595.70" y="365.50" font-size="7.4" text-anchor="middle" fill="#1a1a1a" textLength="71.90" lengthAdjust="spacingAndGlyphs" stroke="#1a1a1a" stroke-width="0.2">arteriosclerosis diet (AD)</text>
<line x1="453.90" y1="514.60" x2="455.60" y2="514.60" stroke="#333" stroke-width="0.45" />
<text x="453.50" y="515.75" font-size="3.2" stroke="#333" stroke-width="0.077" text-anchor="end" fill="#333" >0</text>
<line x1="454.70" y1="511.40" x2="455.60" y2="511.40" stroke="#666" stroke-width="0.35" />
<line x1="454.70" y1="508.20" x2="455.60" y2="508.20" stroke="#666" stroke-width="0.35" />
<line x1="454.70" y1="505.00" x2="455.60" y2="505.00" stroke="#666" stroke-width="0.35" />
<line x1="454.70" y1="501.80" x2="455.60" y2="501.80" stroke="#666" stroke-width="0.35" />
<line x1="453.90" y1="498.60" x2="455.60" y2="498.60" stroke="#333" stroke-width="0.45" />
<text x="453.50" y="499.75" font-size="3.2" stroke="#333" stroke-width="0.077" text-anchor="end" fill="#333" >50</text>
<line x1="454.70" y1="495.40" x2="455.60" y2="495.40" stroke="#666" stroke-width="0.35" />
<line x1="454.70" y1="492.20" x2="455.60" y2="492.20" stroke="#666" stroke-width="0.35" />
<line x1="454.70" y1="489.00" x2="455.60" y2="489.00" stroke="#666" stroke-width="0.35" />
<line x1="454.70" y1="485.80" x2="455.60" y2="485.80" stroke="#666" stroke-width="0.35" />
<line x1="453.90" y1="482.60" x2="455.60" y2="482.60" stroke="#333" stroke-width="0.45" />
<text x="453.50" y="483.75" font-size="3.2" stroke="#333" stroke-width="0.077" text-anchor="end" fill="#333" >100</text>
<line x1="454.70" y1="479.40" x2="455.60" y2="479.40" stroke="#666" stroke-width="0.35" />
<line x1="454.70" y1="476.20" x2="455.60" y2="476.20" stroke="#666" stroke-width="0.35" />
<line x1="454.70" y1="473.00" x2="455.60" y2="473.00" stroke="#666" stroke-width="0.35" />
<line x1="454.70" y1="469.80" x2="455.60" y2="469.80" stroke="#666" stroke-width="0.35" />
<line x1="453.90" y1="466.60" x2="455.60" y2="466.60" stroke="#333" stroke-width="0.45" />
<text x="453.50" y="467.75" font-size="3.2" stroke="#333" stroke-width="0.077" text-anchor="end" fill="#333" >150</text>
<line x1="454.70" y1="463.40" x2="455.60" y2="463.40" stroke="#666" stroke-width="0.35" />
<line x1="454.70" y1="460.20" x2="455.60" y2="460.20" stroke="#666" stroke-width="0.35" />
<line x1="454.70" y1="457.00" x2="455.60" y2="457.00" stroke="#666" stroke-width="0.35" />
<line x1="454.70" y1="453.80" x2="455.60" y2="453.80" stroke="#666" stroke-width="0.35" />
<line x1="453.90" y1="450.60" x2="455.60" y2="450.60" stroke="#333" stroke-width="0.45" />
<text x="453.50" y="451.75" font-size="3.2" stroke="#333" stroke-width="0.077" text-anchor="end" fill="#333" >200</text>
<line x1="454.70" y1="447.40" x2="455.60" y2="447.40" stroke="#666" stroke-width="0.35" />
<line x1="454.70" y1="444.20" x2="455.60" y2="444.20" stroke="#666" stroke-width="0.35" />
<line x1="454.70" y1="441.00" x2="455.60" y2="441.00" stroke="#666" stroke-width="0.35" />
<line x1="454.70" y1="437.80" x2="455.60" y2="437.80" stroke="#666" stroke-width="0.35" />
<line x1="453.90" y1="434.60" x2="455.60" y2="434.60" stroke="#333" stroke-width="0.45" />
<text x="453.50" y="435.75" font-size="3.2" stroke="#333" stroke-width="0.077" text-anchor="end" fill="#333" >250</text>
<text x="446.00" y="443.90" font-size="3.1" stroke="#333" stroke-width="0.074" text-anchor="middle" fill="#333" transform="rotate(-90 446.00 443.90)" >(x 10&#179;)</text>
<line x1="458.10" y1="514.90" x2="458.10" y2="516.40" stroke="#333" stroke-width="0.45" />
<text x="458.10" y="519.30" font-size="3.1" stroke="#333" stroke-width="0.074" text-anchor="middle" fill="#333" >-200</text>
<line x1="466.90" y1="514.90" x2="466.90" y2="516.40" stroke="#333" stroke-width="0.45" />
<text x="466.90" y="519.30" font-size="3.1" stroke="#333" stroke-width="0.074" text-anchor="middle" fill="#333" >0</text>
<line x1="476.10" y1="514.90" x2="476.10" y2="516.40" stroke="#333" stroke-width="0.45" />
<text x="476.10" y="519.30" font-size="3.1" stroke="#333" stroke-width="0.074" text-anchor="middle" fill="#333" >200</text>
<line x1="491.00" y1="514.90" x2="491.00" y2="516.40" stroke="#333" stroke-width="0.45" />
<text x="491.00" y="519.30" font-size="3.1" stroke="#333" stroke-width="0.074" text-anchor="middle" fill="#333" >10&#179;</text>
<line x1="509.90" y1="514.90" x2="509.90" y2="516.40" stroke="#333" stroke-width="0.45" />
<text x="509.90" y="519.30" font-size="3.1" stroke="#333" stroke-width="0.074" text-anchor="middle" fill="#333" >10&#8308;</text>
<line x1="528.70" y1="514.90" x2="528.70" y2="516.40" stroke="#333" stroke-width="0.45" />
<text x="528.70" y="519.30" font-size="3.1" stroke="#333" stroke-width="0.074" text-anchor="middle" fill="#333" >10&#8309;</text>
<line x1="477.90" y1="514.90" x2="477.90" y2="515.70" stroke="#777" stroke-width="0.3" />
<line x1="479.70" y1="514.90" x2="479.70" y2="515.70" stroke="#777" stroke-width="0.3" />
<line x1="481.50" y1="514.90" x2="481.50" y2="515.70" stroke="#777" stroke-width="0.3" />
<line x1="483.30" y1="514.90" x2="483.30" y2="515.70" stroke="#777" stroke-width="0.3" />
<line x1="485.10" y1="514.90" x2="485.10" y2="515.70" stroke="#777" stroke-width="0.3" />
<line x1="486.90" y1="514.90" x2="486.90" y2="515.70" stroke="#777" stroke-width="0.3" />
<line x1="488.70" y1="514.90" x2="488.70" y2="515.70" stroke="#777" stroke-width="0.3" />
<line x1="490.50" y1="514.90" x2="490.50" y2="515.70" stroke="#777" stroke-width="0.3" />
<line x1="492.30" y1="514.90" x2="492.30" y2="515.70" stroke="#777" stroke-width="0.3" />
<line x1="494.10" y1="514.90" x2="494.10" y2="515.70" stroke="#777" stroke-width="0.3" />
<line x1="495.90" y1="514.90" x2="495.90" y2="515.70" stroke="#777" stroke-width="0.3" />
<line x1="497.70" y1="514.90" x2="497.70" y2="515.70" stroke="#777" stroke-width="0.3" />
<line x1="499.50" y1="514.90" x2="499.50" y2="515.70" stroke="#777" stroke-width="0.3" />
<line x1="501.30" y1="514.90" x2="501.30" y2="515.70" stroke="#777" stroke-width="0.3" />
<line x1="503.10" y1="514.90" x2="503.10" y2="515.70" stroke="#777" stroke-width="0.3" />
<line x1="504.90" y1="514.90" x2="504.90" y2="515.70" stroke="#777" stroke-width="0.3" />
<line x1="506.70" y1="514.90" x2="506.70" y2="515.70" stroke="#777" stroke-width="0.3" />
<line x1="508.50" y1="514.90" x2="508.50" y2="515.70" stroke="#777" stroke-width="0.3" />
<line x1="510.30" y1="514.90" x2="510.30" y2="515.70" stroke="#777" stroke-width="0.3" />
<line x1="512.10" y1="514.90" x2="512.10" y2="515.70" stroke="#777" stroke-width="0.3" />
<line x1="513.90" y1="514.90" x2="513.90" y2="515.70" stroke="#777" stroke-width="0.3" />
<line x1="515.70" y1="514.90" x2="515.70" y2="515.70" stroke="#777" stroke-width="0.3" />
<line x1="517.50" y1="514.90" x2="517.50" y2="515.70" stroke="#777" stroke-width="0.3" />
<line x1="519.30" y1="514.90" x2="519.30" y2="515.70" stroke="#777" stroke-width="0.3" />
<line x1="521.10" y1="514.90" x2="521.10" y2="515.70" stroke="#777" stroke-width="0.3" />
<line x1="522.90" y1="514.90" x2="522.90" y2="515.70" stroke="#777" stroke-width="0.3" />
<line x1="524.70" y1="514.90" x2="524.70" y2="515.70" stroke="#777" stroke-width="0.3" />
<line x1="526.50" y1="514.90" x2="526.50" y2="515.70" stroke="#777" stroke-width="0.3" />
<line x1="528.30" y1="514.90" x2="528.30" y2="515.70" stroke="#777" stroke-width="0.3" />
<rect x="455.60" y="431.40" width="81.20" height="83.50" fill="none" stroke="#777" stroke-width="0.6" />
<g><circle cx="491.3" cy="503.6" r="0.4" fill="#6078ff" opacity="0.5"/><circle cx="475.7" cy="506.0" r="0.4" fill="#6078ff" opacity="0.5"/><circle cx="476.5" cy="510.6" r="0.4" fill="#6078ff" opacity="0.5"/><circle cx="478.7" cy="509.9" r="0.4" fill="#6078ff" opacity="0.5"/><circle cx="485.4" cy="508.3" r="0.4" fill="#6078ff" opacity="0.5"/><circle cx="472.0" cy="508.2" r="0.4" fill="#6078ff" opacity="0.5"/><circle cx="487.6" cy="508.7" r="0.4" fill="#6078ff" opacity="0.5"/><circle cx="479.3" cy="509.2" r="0.4" fill="#6078ff" opacity="0.5"/><circle cx="478.0" cy="505.1" r="0.4" fill="#6078ff" opacity="0.5"/><circle cx="478.9" cy="507.2" r="0.4" fill="#6078ff" opacity="0.5"/><circle cx="473.0" cy="510.9" r="0.4" fill="#6078ff" opacity="0.5"/><circle cx="480.3" cy="508.7" r="0.4" fill="#6078ff" opacity="0.5"/><circle cx="473.7" cy="507.9" r="0.4" fill="#6078ff" opacity="0.5"/><circle cx="499.9" cy="509.1" r="0.4" fill="#6078ff" opacity="0.5"/><circle cx="477.3" cy="508.5" r="0.4" fill="#6078ff" opacity="0.5"/><circle cx="483.3" cy="505.3" r="0.4" fill="#6078ff" opacity="0.5"/><circle cx="494.5" cy="506.5" r="0.4" fill="#6078ff" opacity="0.5"/><circle cx="487.2" cy="507.4" r="0.4" fill="#6078ff" opacity="0.5"/><circle cx="490.2" cy="505.8" r="0.4" fill="#6078ff" opacity="0.5"/><circle cx="498.3" cy="505.9" r="0.4" fill="#6078ff" opacity="0.5"/><circle cx="496.1" cy="509.2" r="0.4" fill="#6078ff" opacity="0.5"/><circle cx="495.3" cy="506.9" r="0.4" fill="#6078ff" opacity="0.5"/><circle cx="492.2" cy="507.2" r="0.4" fill="#6078ff" opacity="0.5"/><circle cx="476.3" cy="507.4" r="0.4" fill="#6078ff" opacity="0.5"/><circle cx="474.9" cy="508.7" r="0.4" fill="#6078ff" opacity="0.5"/><circle cx="493.0" cy="507.9" r="0.4" fill="#6078ff" opacity="0.5"/><circle cx="480.3" cy="506.7" r="0.4" fill="#6078ff" opacity="0.5"/><circle cx="477.5" cy="507.0" r="0.4" fill="#6078ff" opacity="0.5"/><circle cx="498.8" cy="509.4" r="0.4" fill="#6078ff" opacity="0.5"/><circle cx="494.6" cy="507.2" r="0.4" fill="#6078ff" opacity="0.5"/><circle cx="494.1" cy="506.8" r="0.4" fill="#6078ff" opacity="0.5"/><circle cx="494.4" cy="505.0" r="0.4" fill="#6078ff" opacity="0.5"/><circle cx="495.1" cy="507.6" r="0.4" fill="#6078ff" opacity="0.5"/><circle cx="474.4" cy="501.2" r="0.4" fill="#6078ff" opacity="0.5"/><circle cx="498.6" cy="504.4" r="0.4" fill="#6078ff" opacity="0.5"/><circle cx="478.6" cy="508.8" r="0.4" fill="#6078ff" opacity="0.5"/><circle cx="497.4" cy="509.6" r="0.4" fill="#6078ff" opacity="0.5"/><circle cx="478.0" cy="507.4" r="0.4" fill="#6078ff" opacity="0.5"/><circle cx="482.6" cy="505.0" r="0.4" fill="#6078ff" opacity="0.5"/><circle cx="494.6" cy="509.1" r="0.4" fill="#6078ff" opacity="0.5"/><circle cx="481.9" cy="505.8" r="0.4" fill="#6078ff" opacity="0.5"/><circle cx="479.5" cy="505.6" r="0.4" fill="#6078ff" opacity="0.5"/><circle cx="497.3" cy="506.6" r="0.4" fill="#6078ff" opacity="0.5"/><circle cx="481.0" cy="507.8" r="0.4" fill="#6078ff" opacity="0.5"/><circle cx="492.6" cy="507.8" r="0.4" fill="#6078ff" opacity="0.5"/><circle cx="487.1" cy="510.2" r="0.4" fill="#6078ff" opacity="0.5"/><circle cx="490.9" cy="507.4" r="0.4" fill="#6078ff" opacity="0.5"/><circle cx="475.6" cy="507.8" r="0.4" fill="#6078ff" opacity="0.5"/><circle cx="481.5" cy="506.8" r="0.4" fill="#6078ff" opacity="0.5"/><circle cx="485.8" cy="507.1" r="0.4" fill="#6078ff" opacity="0.5"/><circle cx="483.0" cy="505.9" r="0.4" fill="#6078ff" opacity="0.5"/><circle cx="498.6" cy="509.2" r="0.4" fill="#6078ff" opacity="0.5"/><circle cx="477.3" cy="508.3" r="0.4" fill="#6078ff" opacity="0.5"/><circle cx="493.0" cy="505.8" r="0.4" fill="#6078ff" opacity="0.5"/><circle cx="474.6" cy="509.1" r="0.4" fill="#6078ff" opacity="0.5"/><circle cx="498.9" cy="506.8" r="0.4" fill="#6078ff" opacity="0.5"/><circle cx="477.8" cy="504.4" r="0.4" fill="#6078ff" opacity="0.5"/><circle cx="476.6" cy="508.7" r="0.4" fill="#6078ff" opacity="0.5"/><circle cx="479.3" cy="504.9" r="0.4" fill="#6078ff" opacity="0.5"/><circle cx="480.7" cy="502.6" r="0.4" fill="#6078ff" opacity="0.5"/><circle cx="476.7" cy="503.2" r="0.4" fill="#6078ff" opacity="0.5"/><circle cx="475.7" cy="511.7" r="0.4" fill="#6078ff" opacity="0.5"/><circle cx="489.6" cy="504.9" r="0.4" fill="#6078ff" opacity="0.5"/><circle cx="477.6" cy="509.0" r="0.4" fill="#6078ff" opacity="0.5"/><circle cx="489.1" cy="510.0" r="0.4" fill="#6078ff" opacity="0.5"/><circle cx="489.4" cy="504.4" r="0.4" fill="#6078ff" opacity="0.5"/><circle cx="485.9" cy="506.1" r="0.4" fill="#6078ff" opacity="0.5"/><circle cx="495.4" cy="506.6" r="0.4" fill="#6078ff" opacity="0.5"/><circle cx="491.2" cy="504.2" r="0.4" fill="#6078ff" opacity="0.5"/><circle cx="483.5" cy="507.9" r="0.4" fill="#6078ff" opacity="0.5"/><circle cx="482.5" cy="507.3" r="0.4" fill="#6078ff" opacity="0.5"/><circle cx="487.8" cy="509.7" r="0.4" fill="#6078ff" opacity="0.5"/><circle cx="486.2" cy="509.8" r="0.4" fill="#6078ff" opacity="0.5"/><circle cx="484.2" cy="507.6" r="0.4" fill="#6078ff" opacity="0.5"/><circle cx="488.4" cy="503.2" r="0.4" fill="#6078ff" opacity="0.5"/><ellipse cx="467.5" cy="507.0" rx="9.4" ry="5.4" fill="#3a5aff" filter="url(#bl)"/><ellipse cx="466.8" cy="507.3" rx="6.8" ry="4.0" fill="#2ab6f0" filter="url(#bl)"/><ellipse cx="466.5" cy="507.5" rx="4.4" ry="2.9" fill="#44da64" filter="url(#bl2)"/><ellipse cx="466.5" cy="507.5" rx="1.6" ry="1.0" fill="#b4e84c" filter="url(#bl2)"/></g>
<rect x="480.70" y="499.40" width="36.00" height="14.40" fill="none" stroke="#555" stroke-width="0.6" />
<rect x="482.00" y="492.60" width="25.80" height="5.70" fill="#fff" stroke="#999" stroke-width="0.45" rx="0.9"/>
<text x="494.90" y="497.05" font-size="4.5" stroke="#111" stroke-width="0.108" text-anchor="middle" fill="#111" textLength="23.80" lengthAdjust="spacingAndGlyphs" >CD4+ CCR4+</text>
<text x="514.00" y="496.80" font-size="7.0" fill="#1a1a1a" textLength="16.00" lengthAdjust="spacingAndGlyphs" stroke="#1a1a1a" stroke-width="0.12">1.66%</text>
<text x="497.00" y="459.00" font-size="7.4" text-anchor="middle" fill="#1a1a1a" textLength="52.50" lengthAdjust="spacingAndGlyphs" stroke="#1a1a1a" stroke-width="0.2">&#937;-3-rich diet (OD)</text>
<line x1="555.20" y1="514.60" x2="556.90" y2="514.60" stroke="#333" stroke-width="0.45" />
<text x="554.80" y="515.75" font-size="3.2" stroke="#333" stroke-width="0.077" text-anchor="end" fill="#333" >0</text>
<line x1="556.00" y1="511.40" x2="556.90" y2="511.40" stroke="#666" stroke-width="0.35" />
<line x1="556.00" y1="508.20" x2="556.90" y2="508.20" stroke="#666" stroke-width="0.35" />
<line x1="556.00" y1="505.00" x2="556.90" y2="505.00" stroke="#666" stroke-width="0.35" />
<line x1="556.00" y1="501.80" x2="556.90" y2="501.80" stroke="#666" stroke-width="0.35" />
<line x1="555.20" y1="498.60" x2="556.90" y2="498.60" stroke="#333" stroke-width="0.45" />
<text x="554.80" y="499.75" font-size="3.2" stroke="#333" stroke-width="0.077" text-anchor="end" fill="#333" >50</text>
<line x1="556.00" y1="495.40" x2="556.90" y2="495.40" stroke="#666" stroke-width="0.35" />
<line x1="556.00" y1="492.20" x2="556.90" y2="492.20" stroke="#666" stroke-width="0.35" />
<line x1="556.00" y1="489.00" x2="556.90" y2="489.00" stroke="#666" stroke-width="0.35" />
<line x1="556.00" y1="485.80" x2="556.90" y2="485.80" stroke="#666" stroke-width="0.35" />
<line x1="555.20" y1="482.60" x2="556.90" y2="482.60" stroke="#333" stroke-width="0.45" />
<text x="554.80" y="483.75" font-size="3.2" stroke="#333" stroke-width="0.077" text-anchor="end" fill="#333" >100</text>
<line x1="556.00" y1="479.40" x2="556.90" y2="479.40" stroke="#666" stroke-width="0.35" />
<line x1="556.00" y1="476.20" x2="556.90" y2="476.20" stroke="#666" stroke-width="0.35" />
<line x1="556.00" y1="473.00" x2="556.90" y2="473.00" stroke="#666" stroke-width="0.35" />
<line x1="556.00" y1="469.80" x2="556.90" y2="469.80" stroke="#666" stroke-width="0.35" />
<line x1="555.20" y1="466.60" x2="556.90" y2="466.60" stroke="#333" stroke-width="0.45" />
<text x="554.80" y="467.75" font-size="3.2" stroke="#333" stroke-width="0.077" text-anchor="end" fill="#333" >150</text>
<line x1="556.00" y1="463.40" x2="556.90" y2="463.40" stroke="#666" stroke-width="0.35" />
<line x1="556.00" y1="460.20" x2="556.90" y2="460.20" stroke="#666" stroke-width="0.35" />
<line x1="556.00" y1="457.00" x2="556.90" y2="457.00" stroke="#666" stroke-width="0.35" />
<line x1="556.00" y1="453.80" x2="556.90" y2="453.80" stroke="#666" stroke-width="0.35" />
<line x1="555.20" y1="450.60" x2="556.90" y2="450.60" stroke="#333" stroke-width="0.45" />
<text x="554.80" y="451.75" font-size="3.2" stroke="#333" stroke-width="0.077" text-anchor="end" fill="#333" >200</text>
<line x1="556.00" y1="447.40" x2="556.90" y2="447.40" stroke="#666" stroke-width="0.35" />
<line x1="556.00" y1="444.20" x2="556.90" y2="444.20" stroke="#666" stroke-width="0.35" />
<line x1="556.00" y1="441.00" x2="556.90" y2="441.00" stroke="#666" stroke-width="0.35" />
<line x1="556.00" y1="437.80" x2="556.90" y2="437.80" stroke="#666" stroke-width="0.35" />
<line x1="555.20" y1="434.60" x2="556.90" y2="434.60" stroke="#333" stroke-width="0.45" />
<text x="554.80" y="435.75" font-size="3.2" stroke="#333" stroke-width="0.077" text-anchor="end" fill="#333" >250</text>
<text x="547.30" y="443.90" font-size="3.1" stroke="#333" stroke-width="0.074" text-anchor="middle" fill="#333" transform="rotate(-90 547.30 443.90)" >(x 10&#179;)</text>
<line x1="559.40" y1="514.90" x2="559.40" y2="516.40" stroke="#333" stroke-width="0.45" />
<text x="559.40" y="519.30" font-size="3.1" stroke="#333" stroke-width="0.074" text-anchor="middle" fill="#333" >-200</text>
<line x1="568.20" y1="514.90" x2="568.20" y2="516.40" stroke="#333" stroke-width="0.45" />
<text x="568.20" y="519.30" font-size="3.1" stroke="#333" stroke-width="0.074" text-anchor="middle" fill="#333" >0</text>
<line x1="577.40" y1="514.90" x2="577.40" y2="516.40" stroke="#333" stroke-width="0.45" />
<text x="577.40" y="519.30" font-size="3.1" stroke="#333" stroke-width="0.074" text-anchor="middle" fill="#333" >200</text>
<line x1="592.30" y1="514.90" x2="592.30" y2="516.40" stroke="#333" stroke-width="0.45" />
<text x="592.30" y="519.30" font-size="3.1" stroke="#333" stroke-width="0.074" text-anchor="middle" fill="#333" >10&#179;</text>
<line x1="611.20" y1="514.90" x2="611.20" y2="516.40" stroke="#333" stroke-width="0.45" />
<text x="611.20" y="519.30" font-size="3.1" stroke="#333" stroke-width="0.074" text-anchor="middle" fill="#333" >10&#8308;</text>
<line x1="630.00" y1="514.90" x2="630.00" y2="516.40" stroke="#333" stroke-width="0.45" />
<text x="630.00" y="519.30" font-size="3.1" stroke="#333" stroke-width="0.074" text-anchor="middle" fill="#333" >10&#8309;</text>
<line x1="579.20" y1="514.90" x2="579.20" y2="515.70" stroke="#777" stroke-width="0.3" />
<line x1="581.00" y1="514.90" x2="581.00" y2="515.70" stroke="#777" stroke-width="0.3" />
<line x1="582.80" y1="514.90" x2="582.80" y2="515.70" stroke="#777" stroke-width="0.3" />
<line x1="584.60" y1="514.90" x2="584.60" y2="515.70" stroke="#777" stroke-width="0.3" />
<line x1="586.40" y1="514.90" x2="586.40" y2="515.70" stroke="#777" stroke-width="0.3" />
<line x1="588.20" y1="514.90" x2="588.20" y2="515.70" stroke="#777" stroke-width="0.3" />
<line x1="590.00" y1="514.90" x2="590.00" y2="515.70" stroke="#777" stroke-width="0.3" />
<line x1="591.80" y1="514.90" x2="591.80" y2="515.70" stroke="#777" stroke-width="0.3" />
<line x1="593.60" y1="514.90" x2="593.60" y2="515.70" stroke="#777" stroke-width="0.3" />
<line x1="595.40" y1="514.90" x2="595.40" y2="515.70" stroke="#777" stroke-width="0.3" />
<line x1="597.20" y1="514.90" x2="597.20" y2="515.70" stroke="#777" stroke-width="0.3" />
<line x1="599.00" y1="514.90" x2="599.00" y2="515.70" stroke="#777" stroke-width="0.3" />
<line x1="600.80" y1="514.90" x2="600.80" y2="515.70" stroke="#777" stroke-width="0.3" />
<line x1="602.60" y1="514.90" x2="602.60" y2="515.70" stroke="#777" stroke-width="0.3" />
<line x1="604.40" y1="514.90" x2="604.40" y2="515.70" stroke="#777" stroke-width="0.3" />
<line x1="606.20" y1="514.90" x2="606.20" y2="515.70" stroke="#777" stroke-width="0.3" />
<line x1="608.00" y1="514.90" x2="608.00" y2="515.70" stroke="#777" stroke-width="0.3" />
<line x1="609.80" y1="514.90" x2="609.80" y2="515.70" stroke="#777" stroke-width="0.3" />
<line x1="611.60" y1="514.90" x2="611.60" y2="515.70" stroke="#777" stroke-width="0.3" />
<line x1="613.40" y1="514.90" x2="613.40" y2="515.70" stroke="#777" stroke-width="0.3" />
<line x1="615.20" y1="514.90" x2="615.20" y2="515.70" stroke="#777" stroke-width="0.3" />
<line x1="617.00" y1="514.90" x2="617.00" y2="515.70" stroke="#777" stroke-width="0.3" />
<line x1="618.80" y1="514.90" x2="618.80" y2="515.70" stroke="#777" stroke-width="0.3" />
<line x1="620.60" y1="514.90" x2="620.60" y2="515.70" stroke="#777" stroke-width="0.3" />
<line x1="622.40" y1="514.90" x2="622.40" y2="515.70" stroke="#777" stroke-width="0.3" />
<line x1="624.20" y1="514.90" x2="624.20" y2="515.70" stroke="#777" stroke-width="0.3" />
<line x1="626.00" y1="514.90" x2="626.00" y2="515.70" stroke="#777" stroke-width="0.3" />
<line x1="627.80" y1="514.90" x2="627.80" y2="515.70" stroke="#777" stroke-width="0.3" />
<line x1="629.60" y1="514.90" x2="629.60" y2="515.70" stroke="#777" stroke-width="0.3" />
<rect x="556.90" y="431.40" width="79.70" height="83.50" fill="none" stroke="#777" stroke-width="0.6" />
<g><circle cx="578.1" cy="504.9" r="0.4" fill="#6078ff" opacity="0.5"/><circle cx="588.2" cy="510.8" r="0.4" fill="#6078ff" opacity="0.5"/><circle cx="583.2" cy="507.4" r="0.4" fill="#6078ff" opacity="0.5"/><circle cx="596.7" cy="509.5" r="0.4" fill="#6078ff" opacity="0.5"/><circle cx="600.8" cy="507.4" r="0.4" fill="#6078ff" opacity="0.5"/><circle cx="577.3" cy="509.8" r="0.4" fill="#6078ff" opacity="0.5"/><circle cx="580.7" cy="507.4" r="0.4" fill="#6078ff" opacity="0.5"/><circle cx="599.9" cy="504.7" r="0.4" fill="#6078ff" opacity="0.5"/><circle cx="599.6" cy="503.7" r="0.4" fill="#6078ff" opacity="0.5"/><circle cx="598.6" cy="501.2" r="0.4" fill="#6078ff" opacity="0.5"/><circle cx="575.4" cy="507.0" r="0.4" fill="#6078ff" opacity="0.5"/><circle cx="600.9" cy="507.1" r="0.4" fill="#6078ff" opacity="0.5"/><circle cx="598.9" cy="506.0" r="0.4" fill="#6078ff" opacity="0.5"/><circle cx="587.7" cy="503.6" r="0.4" fill="#6078ff" opacity="0.5"/><circle cx="579.5" cy="506.6" r="0.4" fill="#6078ff" opacity="0.5"/><circle cx="582.2" cy="507.0" r="0.4" fill="#6078ff" opacity="0.5"/><circle cx="590.9" cy="506.9" r="0.4" fill="#6078ff" opacity="0.5"/><circle cx="598.3" cy="506.0" r="0.4" fill="#6078ff" opacity="0.5"/><circle cx="598.7" cy="507.6" r="0.4" fill="#6078ff" opacity="0.5"/><circle cx="600.4" cy="507.8" r="0.4" fill="#6078ff" opacity="0.5"/><circle cx="602.0" cy="505.0" r="0.4" fill="#6078ff" opacity="0.5"/><circle cx="598.6" cy="508.6" r="0.4" fill="#6078ff" opacity="0.5"/><circle cx="576.5" cy="509.1" r="0.4" fill="#6078ff" opacity="0.5"/><circle cx="574.5" cy="505.2" r="0.4" fill="#6078ff" opacity="0.5"/><circle cx="599.7" cy="510.8" r="0.4" fill="#6078ff" opacity="0.5"/><circle cx="577.0" cy="508.3" r="0.4" fill="#6078ff" opacity="0.5"/><circle cx="600.2" cy="509.3" r="0.4" fill="#6078ff" opacity="0.5"/><circle cx="592.9" cy="508.1" r="0.4" fill="#6078ff" opacity="0.5"/><circle cx="604.6" cy="507.1" r="0.4" fill="#6078ff" opacity="0.5"/><circle cx="579.9" cy="504.7" r="0.4" fill="#6078ff" opacity="0.5"/><circle cx="596.4" cy="504.5" r="0.4" fill="#6078ff" opacity="0.5"/><circle cx="579.5" cy="506.5" r="0.4" fill="#6078ff" opacity="0.5"/><circle cx="573.8" cy="505.6" r="0.4" fill="#6078ff" opacity="0.5"/><circle cx="584.1" cy="506.4" r="0.4" fill="#6078ff" opacity="0.5"/><circle cx="582.1" cy="510.1" r="0.4" fill="#6078ff" opacity="0.5"/><circle cx="592.4" cy="507.1" r="0.4" fill="#6078ff" opacity="0.5"/><circle cx="577.4" cy="506.3" r="0.4" fill="#6078ff" opacity="0.5"/><circle cx="595.3" cy="506.5" r="0.4" fill="#6078ff" opacity="0.5"/><circle cx="577.0" cy="507.7" r="0.4" fill="#6078ff" opacity="0.5"/><circle cx="603.1" cy="506.1" r="0.4" fill="#6078ff" opacity="0.5"/><circle cx="579.5" cy="506.3" r="0.4" fill="#6078ff" opacity="0.5"/><circle cx="604.8" cy="506.3" r="0.4" fill="#6078ff" opacity="0.5"/><circle cx="584.7" cy="504.5" r="0.4" fill="#6078ff" opacity="0.5"/><circle cx="583.1" cy="506.6" r="0.4" fill="#6078ff" opacity="0.5"/><circle cx="593.3" cy="508.1" r="0.4" fill="#6078ff" opacity="0.5"/><circle cx="586.8" cy="508.4" r="0.4" fill="#6078ff" opacity="0.5"/><circle cx="587.8" cy="505.6" r="0.4" fill="#6078ff" opacity="0.5"/><circle cx="589.4" cy="509.2" r="0.4" fill="#6078ff" opacity="0.5"/><circle cx="595.6" cy="506.8" r="0.4" fill="#6078ff" opacity="0.5"/><circle cx="580.8" cy="506.1" r="0.4" fill="#6078ff" opacity="0.5"/><circle cx="601.0" cy="506.7" r="0.4" fill="#6078ff" opacity="0.5"/><circle cx="582.4" cy="509.3" r="0.4" fill="#6078ff" opacity="0.5"/><circle cx="587.7" cy="505.1" r="0.4" fill="#6078ff" opacity="0.5"/><circle cx="602.9" cy="505.0" r="0.4" fill="#6078ff" opacity="0.5"/><circle cx="592.4" cy="509.6" r="0.4" fill="#6078ff" opacity="0.5"/><circle cx="587.5" cy="509.4" r="0.4" fill="#6078ff" opacity="0.5"/><circle cx="582.2" cy="508.3" r="0.4" fill="#6078ff" opacity="0.5"/><circle cx="587.3" cy="509.1" r="0.4" fill="#6078ff" opacity="0.5"/><circle cx="595.3" cy="507.0" r="0.4" fill="#6078ff" opacity="0.5"/><circle cx="594.6" cy="507.6" r="0.4" fill="#6078ff" opacity="0.5"/><circle cx="577.5" cy="509.6" r="0.4" fill="#6078ff" opacity="0.5"/><circle cx="601.7" cy="507.5" r="0.4" fill="#6078ff" opacity="0.5"/><circle cx="584.1" cy="509.6" r="0.4" fill="#6078ff" opacity="0.5"/><circle cx="599.3" cy="509.1" r="0.4" fill="#6078ff" opacity="0.5"/><circle cx="590.6" cy="505.3" r="0.4" fill="#6078ff" opacity="0.5"/><circle cx="576.5" cy="508.2" r="0.4" fill="#6078ff" opacity="0.5"/><circle cx="584.8" cy="507.0" r="0.4" fill="#6078ff" opacity="0.5"/><circle cx="585.2" cy="507.0" r="0.4" fill="#6078ff" opacity="0.5"/><circle cx="584.2" cy="504.6" r="0.4" fill="#6078ff" opacity="0.5"/><circle cx="601.8" cy="507.9" r="0.4" fill="#6078ff" opacity="0.5"/><circle cx="593.4" cy="507.4" r="0.4" fill="#6078ff" opacity="0.5"/><circle cx="588.2" cy="506.1" r="0.4" fill="#6078ff" opacity="0.5"/><circle cx="583.3" cy="509.2" r="0.4" fill="#6078ff" opacity="0.5"/><circle cx="594.6" cy="503.3" r="0.4" fill="#6078ff" opacity="0.5"/><circle cx="604.3" cy="504.2" r="0.4" fill="#6078ff" opacity="0.5"/><ellipse cx="569.3" cy="507.5" rx="9.4" ry="5.4" fill="#3a5aff" filter="url(#bl)"/><ellipse cx="568.6" cy="507.8" rx="6.8" ry="4.0" fill="#2ab6f0" filter="url(#bl)"/><ellipse cx="568.3" cy="508.0" rx="4.4" ry="2.9" fill="#44da64" filter="url(#bl2)"/><ellipse cx="568.3" cy="508.0" rx="1.6" ry="1.0" fill="#b4e84c" filter="url(#bl2)"/></g>
<rect x="584.40" y="500.20" width="34.10" height="14.30" fill="none" stroke="#555" stroke-width="0.6" />
<rect x="585.00" y="493.40" width="24.50" height="5.70" fill="#fff" stroke="#999" stroke-width="0.45" rx="0.9"/>
<text x="597.25" y="497.85" font-size="4.5" stroke="#111" stroke-width="0.108" text-anchor="middle" fill="#111" textLength="22.50" lengthAdjust="spacingAndGlyphs" >CD4+ CCR4+</text>
<text x="613.40" y="497.60" font-size="7.0" fill="#1a1a1a" textLength="17.40" lengthAdjust="spacingAndGlyphs" stroke="#1a1a1a" stroke-width="0.12">1.10%</text>
<text x="595.50" y="459.00" font-size="7.4" text-anchor="middle" fill="#1a1a1a" textLength="60.00" lengthAdjust="spacingAndGlyphs" stroke="#1a1a1a" stroke-width="0.2">intervention diet (ID)</text>
<path d="M621.5,19.2 L628.5,17.8 L656.8,23.0 L656.8,92.3 L640.3,97.3 L621.5,97.3 Z" fill="#e2e2e2" stroke="#ababab" stroke-width="0.5" />
<path d="M628.5,17.8 L656.8,23.0 L656.8,25.5 L628.5,20.6 Z" fill="#efefef" />
<line x1="628.50" y1="18.20" x2="628.50" y2="64.00" stroke="#c4c4c4" stroke-width="0.5" />
<path d="M571.2,24.8 Q571.3,22.6 573.4,22.3 L621.2,19.2 Q623.2,19.3 623.2,21.2 L623.2,61.5 L571.2,61.5 Z" fill="#f3f3f3" stroke="#b5b5b5" stroke-width="0.6" />
<path d="M576.0,22.5 L621.3,19.6 L621.3,22.3 L576.0,25.0 Z" fill="#5f80c0" />
<rect x="574.40" y="25.60" width="47.30" height="28.40" fill="#f5f5f5" stroke="#cfcfcf" stroke-width="0.45" />
<rect x="592.80" y="46.00" width="8.00" height="2.80" fill="#2c4c94" />
<rect x="571.40" y="54.70" width="14.20" height="6.30" fill="#4d70b2" stroke="#3a5a9a" stroke-width="0.3" />
<rect x="573.00" y="55.80" width="1.50" height="4.20" fill="#203a70" />
<rect x="575.60" y="55.80" width="1.50" height="4.20" fill="#203a70" />
<rect x="578.20" y="55.80" width="1.50" height="4.20" fill="#203a70" />
<rect x="580.80" y="55.80" width="1.50" height="4.20" fill="#203a70" />
<rect x="585.60" y="54.70" width="37.40" height="6.30" fill="#fbfbfb" stroke="#c6c6c6" stroke-width="0.4" />
<rect x="629.20" y="55.50" width="10.50" height="8.80" fill="#cbcbcb" stroke="#a6a6a6" stroke-width="0.4" rx="2"/>
<rect x="571.60" y="61.00" width="37.20" height="36.50" fill="#f4f4f4" stroke="#b5b5b5" stroke-width="0.5" />
<rect x="575.50" y="63.40" width="30.40" height="14.30" fill="#f9f9f9" stroke="#a5a5a5" stroke-width="0.55" />
<circle cx="589.50" cy="66.00" r="0.95" fill="#333" />
<rect x="586.60" y="72.60" width="6.90" height="2.50" fill="#2d52a6" />
<rect x="575.50" y="78.50" width="30.40" height="15.30" fill="#f9f9f9" stroke="#a5a5a5" stroke-width="0.55" />
<circle cx="589.50" cy="81.40" r="0.95" fill="#333" />
<rect x="586.60" y="88.00" width="6.90" height="2.50" fill="#2d52a6" />
<line x1="572.00" y1="96.60" x2="608.50" y2="96.60" stroke="#c8c8c8" stroke-width="0.8" />
<rect x="609.20" y="64.80" width="31.00" height="32.60" fill="#dcdfe2" stroke="#8a8f94" stroke-width="0.5" />
<rect x="610.40" y="66.60" width="28.60" height="28.60" fill="#c6ccd2" />
<rect x="610.40" y="66.60" width="8.00" height="28.60" fill="#b9c1ca" />
<rect x="618.40" y="66.60" width="10.50" height="28.60" fill="#d3d7db" />
<rect x="628.90" y="66.60" width="10.10" height="28.60" fill="#a9b0b7" />
<rect x="610.40" y="80.60" width="28.60" height="5.00" fill="#e2e5e8" opacity="0.75"/>
<rect x="609.20" y="64.60" width="31.00" height="1.60" fill="#70757b" />
<rect x="621.00" y="68.30" width="5.20" height="5.30" fill="#3f4349" />
<path d="M609.4,97.7 L611.6,94.4 L638.6,95.4 L639.8,96.9 L628.0,101.7 Z" fill="#575b60" stroke="#1e2124" stroke-width="0.6" />
<rect x="642.40" y="70.40" width="9.50" height="21.90" fill="#e9e9e9" stroke="#9d9d9d" stroke-width="0.5" />
<rect x="643.80" y="72.50" width="6.70" height="18.00" fill="#9c9c9c" />
<circle cx="653.80" cy="71.50" r="0.35" fill="#777" />
<circle cx="653.80" cy="75.70" r="0.35" fill="#777" />
<circle cx="653.80" cy="79.90" r="0.35" fill="#777" />
<circle cx="653.80" cy="84.10" r="0.35" fill="#777" />
<circle cx="653.80" cy="88.30" r="0.35" fill="#777" />
<text x="615.10" y="110.20" font-size="6.6" stroke="#111" stroke-width="0.158" text-anchor="middle" fill="#111" textLength="95.30" lengthAdjust="spacingAndGlyphs" >supernatant cytokine analysis with</text>
<text x="616.20" y="117.10" font-size="6.6" stroke="#111" stroke-width="0.158" text-anchor="middle" fill="#111" font-style="italic" textLength="129.00" lengthAdjust="spacingAndGlyphs" >LEGENDplex&#8482; MU Th Cytokine Panel (12-plex),</text>
<text x="615.50" y="123.90" font-size="6.6" stroke="#111" stroke-width="0.158" text-anchor="middle" fill="#111" textLength="102.00" lengthAdjust="spacingAndGlyphs" >meassured in <tspan font-style="italic">BD FACSymphony&#8482; A1</tspan></text>
</svg>
</body></html>
